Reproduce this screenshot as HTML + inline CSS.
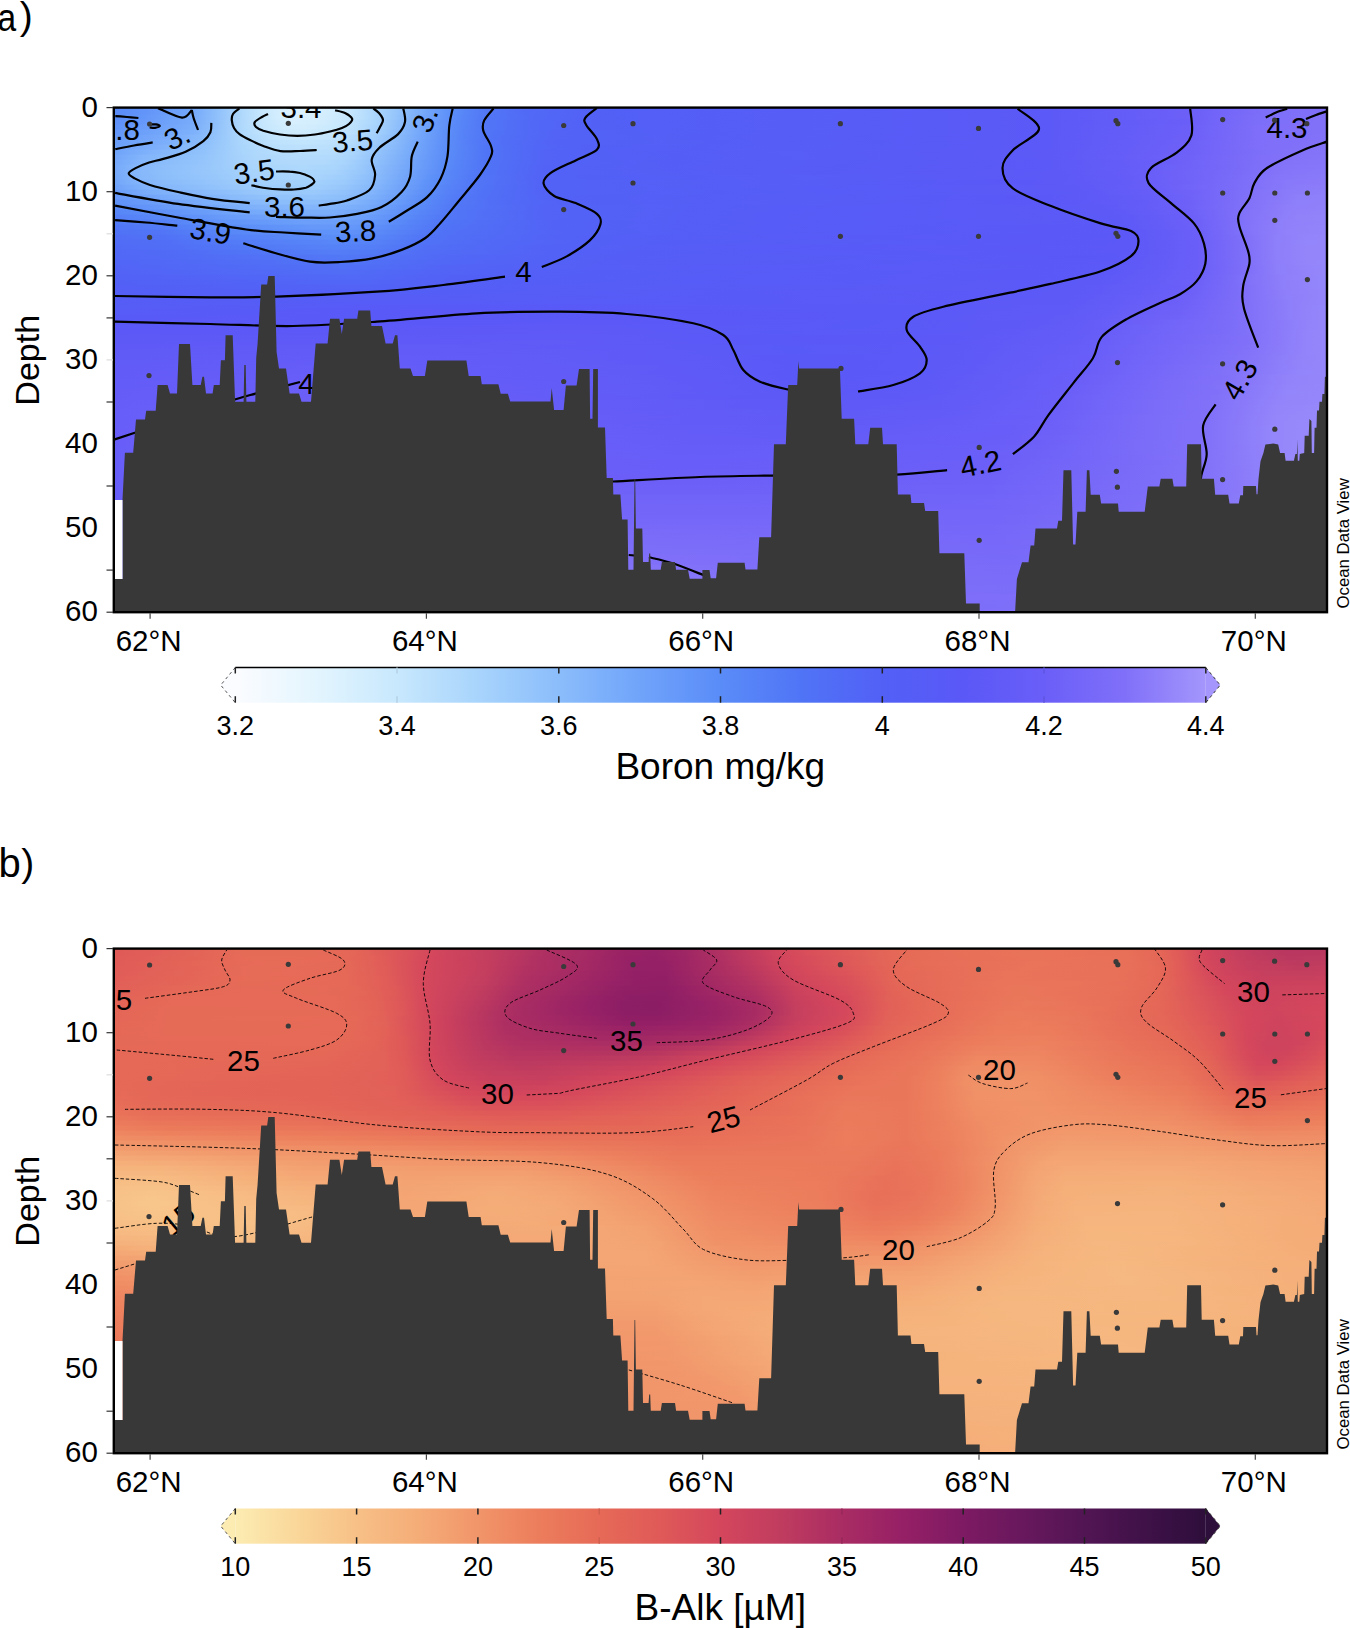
<!DOCTYPE html><html><head><meta charset="utf-8"><style>html,body{margin:0;padding:0;background:#fff;}svg{display:block;}text{font-family:"Liberation Sans", sans-serif;}</style></head><body><svg width="1350" height="1628" viewBox="0 0 1350 1628"><rect width="1350" height="1628" fill="#fff"/><text transform="translate(-2.6 30.6) scale(0.86 1)" font-size="39">a</text><text x="19.8" y="29.3" font-size="39">)</text><text x="-1.6" y="876.8" font-size="40">b</text><text x="21.2" y="876.3" font-size="39">)</text><defs><linearGradient id="a0" x1="113.5" x2="1327.5" gradientUnits="userSpaceOnUse"><stop offset="0.0000" stop-color="#598af8"/><stop offset="0.0248" stop-color="#6093f9"/><stop offset="0.0579" stop-color="#6fa3fa"/><stop offset="0.0661" stop-color="#75a9fa"/><stop offset="0.0826" stop-color="#8abcfb"/><stop offset="0.1074" stop-color="#b1dafc"/><stop offset="0.1240" stop-color="#c8e8fd"/><stop offset="0.1405" stop-color="#d7effe"/><stop offset="0.1488" stop-color="#dbf1fe"/><stop offset="0.1653" stop-color="#daf0fe"/><stop offset="0.1901" stop-color="#cbe9fd"/><stop offset="0.2066" stop-color="#b9dffd"/><stop offset="0.2314" stop-color="#98c7fb"/><stop offset="0.2645" stop-color="#6b9ffa"/><stop offset="0.2810" stop-color="#5b8df8"/><stop offset="0.3058" stop-color="#5279f6"/><stop offset="0.3306" stop-color="#516ef6"/><stop offset="0.3884" stop-color="#5261f6"/><stop offset="0.7603" stop-color="#5b58f7"/><stop offset="0.8843" stop-color="#6a5ef8"/><stop offset="0.9504" stop-color="#7e6ef9"/><stop offset="1.0000" stop-color="#8070f9"/></linearGradient><linearGradient id="a1" x1="113.5" x2="1327.5" gradientUnits="userSpaceOnUse"><stop offset="0.0000" stop-color="#5a8bf8"/><stop offset="0.0248" stop-color="#6294f9"/><stop offset="0.0579" stop-color="#70a4fa"/><stop offset="0.0661" stop-color="#76aafa"/><stop offset="0.0826" stop-color="#8bbdfb"/><stop offset="0.1074" stop-color="#b2dafc"/><stop offset="0.1240" stop-color="#c8e8fd"/><stop offset="0.1405" stop-color="#d7effe"/><stop offset="0.1488" stop-color="#dbf1fe"/><stop offset="0.1653" stop-color="#d9f0fe"/><stop offset="0.1901" stop-color="#cae9fd"/><stop offset="0.2066" stop-color="#b8defd"/><stop offset="0.2314" stop-color="#97c7fb"/><stop offset="0.2645" stop-color="#6a9ef9"/><stop offset="0.2810" stop-color="#5a8cf8"/><stop offset="0.3058" stop-color="#5278f6"/><stop offset="0.3388" stop-color="#516af6"/><stop offset="0.3967" stop-color="#5260f6"/><stop offset="0.7686" stop-color="#5b59f7"/><stop offset="0.8926" stop-color="#6d60f8"/><stop offset="0.9504" stop-color="#7e6ff9"/><stop offset="1.0000" stop-color="#8070f9"/></linearGradient><linearGradient id="a2" x1="113.5" x2="1327.5" gradientUnits="userSpaceOnUse"><stop offset="0.0000" stop-color="#5b8df8"/><stop offset="0.0248" stop-color="#6396f9"/><stop offset="0.0661" stop-color="#77abfa"/><stop offset="0.0826" stop-color="#8cbdfb"/><stop offset="0.1074" stop-color="#b2dafc"/><stop offset="0.1240" stop-color="#c8e8fd"/><stop offset="0.1405" stop-color="#d6effe"/><stop offset="0.1488" stop-color="#d9f0fe"/><stop offset="0.1653" stop-color="#d7effe"/><stop offset="0.1901" stop-color="#c9e8fd"/><stop offset="0.2066" stop-color="#b7defc"/><stop offset="0.2314" stop-color="#96c6fb"/><stop offset="0.2562" stop-color="#73a6fa"/><stop offset="0.2810" stop-color="#5a8bf8"/><stop offset="0.3058" stop-color="#5177f6"/><stop offset="0.3471" stop-color="#5168f6"/><stop offset="0.3967" stop-color="#5260f6"/><stop offset="0.7686" stop-color="#5b59f7"/><stop offset="0.8926" stop-color="#6d60f8"/><stop offset="0.9421" stop-color="#7d6ef9"/><stop offset="0.9917" stop-color="#8171f9"/><stop offset="1.0000" stop-color="#8171f9"/></linearGradient><linearGradient id="a3" x1="113.5" x2="1327.5" gradientUnits="userSpaceOnUse"><stop offset="0.0000" stop-color="#5e90f8"/><stop offset="0.0248" stop-color="#6598f9"/><stop offset="0.0661" stop-color="#79acfa"/><stop offset="0.0826" stop-color="#8dbefb"/><stop offset="0.1074" stop-color="#b2dafc"/><stop offset="0.1240" stop-color="#c7e7fd"/><stop offset="0.1405" stop-color="#d3edfd"/><stop offset="0.1488" stop-color="#d7effe"/><stop offset="0.1653" stop-color="#d4eefd"/><stop offset="0.1901" stop-color="#c7e7fd"/><stop offset="0.2149" stop-color="#abd6fc"/><stop offset="0.2479" stop-color="#7db0fa"/><stop offset="0.2645" stop-color="#689bf9"/><stop offset="0.2810" stop-color="#598af8"/><stop offset="0.3058" stop-color="#5176f6"/><stop offset="0.3471" stop-color="#5167f6"/><stop offset="0.3967" stop-color="#5260f6"/><stop offset="0.7686" stop-color="#5b59f7"/><stop offset="0.8843" stop-color="#6a5ef8"/><stop offset="0.9421" stop-color="#7d6ef9"/><stop offset="0.9917" stop-color="#8171f9"/><stop offset="1.0000" stop-color="#8171f9"/></linearGradient><linearGradient id="a4" x1="113.5" x2="1327.5" gradientUnits="userSpaceOnUse"><stop offset="0.0000" stop-color="#6093f9"/><stop offset="0.0331" stop-color="#6c9ffa"/><stop offset="0.0661" stop-color="#7baefa"/><stop offset="0.0826" stop-color="#8ebffb"/><stop offset="0.1074" stop-color="#b1dafc"/><stop offset="0.1240" stop-color="#c5e6fd"/><stop offset="0.1405" stop-color="#d0ecfd"/><stop offset="0.1570" stop-color="#d3edfd"/><stop offset="0.1818" stop-color="#c9e9fd"/><stop offset="0.1983" stop-color="#bce1fd"/><stop offset="0.2231" stop-color="#9eccfc"/><stop offset="0.2562" stop-color="#70a4fa"/><stop offset="0.2810" stop-color="#5989f8"/><stop offset="0.3058" stop-color="#5176f6"/><stop offset="0.3471" stop-color="#5167f6"/><stop offset="0.3967" stop-color="#5260f6"/><stop offset="0.7686" stop-color="#5b59f7"/><stop offset="0.8843" stop-color="#6b5ff8"/><stop offset="0.9421" stop-color="#7e6ef9"/><stop offset="0.9835" stop-color="#8171f9"/><stop offset="1.0000" stop-color="#8171f9"/></linearGradient><linearGradient id="a5" x1="113.5" x2="1327.5" gradientUnits="userSpaceOnUse"><stop offset="0.0000" stop-color="#6396f9"/><stop offset="0.0413" stop-color="#73a7fa"/><stop offset="0.0661" stop-color="#7eb1fb"/><stop offset="0.0826" stop-color="#90c1fb"/><stop offset="0.1074" stop-color="#b0d9fc"/><stop offset="0.1240" stop-color="#c1e4fd"/><stop offset="0.1405" stop-color="#cceafd"/><stop offset="0.1570" stop-color="#ceebfd"/><stop offset="0.1818" stop-color="#c6e7fd"/><stop offset="0.1983" stop-color="#b9dffd"/><stop offset="0.2231" stop-color="#9bcafc"/><stop offset="0.2562" stop-color="#6fa3fa"/><stop offset="0.2727" stop-color="#5e91f8"/><stop offset="0.2893" stop-color="#5681f7"/><stop offset="0.3140" stop-color="#5072f6"/><stop offset="0.3636" stop-color="#5263f6"/><stop offset="0.4463" stop-color="#535ff6"/><stop offset="0.7686" stop-color="#5b59f7"/><stop offset="0.8843" stop-color="#6b5ff8"/><stop offset="0.9421" stop-color="#7e6ef9"/><stop offset="0.9917" stop-color="#8171f9"/><stop offset="1.0000" stop-color="#8272f9"/></linearGradient><linearGradient id="a6" x1="113.5" x2="1327.5" gradientUnits="userSpaceOnUse"><stop offset="0.0000" stop-color="#6699f9"/><stop offset="0.0579" stop-color="#7eb1fb"/><stop offset="0.0744" stop-color="#88bbfb"/><stop offset="0.1074" stop-color="#aed8fc"/><stop offset="0.1322" stop-color="#c3e5fd"/><stop offset="0.1488" stop-color="#c9e8fd"/><stop offset="0.1736" stop-color="#c5e6fd"/><stop offset="0.1901" stop-color="#bde1fd"/><stop offset="0.2149" stop-color="#a2cffc"/><stop offset="0.2479" stop-color="#78abfa"/><stop offset="0.2727" stop-color="#5e90f8"/><stop offset="0.2893" stop-color="#5581f7"/><stop offset="0.3140" stop-color="#5071f6"/><stop offset="0.3636" stop-color="#5263f6"/><stop offset="0.4793" stop-color="#545ef6"/><stop offset="0.7686" stop-color="#5b59f7"/><stop offset="0.8843" stop-color="#6c5ff8"/><stop offset="0.9421" stop-color="#7e6ef9"/><stop offset="0.9917" stop-color="#8272f9"/><stop offset="1.0000" stop-color="#8272f9"/></linearGradient><linearGradient id="a7" x1="113.5" x2="1327.5" gradientUnits="userSpaceOnUse"><stop offset="0.0000" stop-color="#699df9"/><stop offset="0.0661" stop-color="#86b8fb"/><stop offset="0.0826" stop-color="#93c4fb"/><stop offset="0.1074" stop-color="#add7fc"/><stop offset="0.1322" stop-color="#bee2fd"/><stop offset="0.1570" stop-color="#c2e5fd"/><stop offset="0.1818" stop-color="#bde1fd"/><stop offset="0.1983" stop-color="#b1dafc"/><stop offset="0.2231" stop-color="#95c5fb"/><stop offset="0.2562" stop-color="#6ca0fa"/><stop offset="0.2727" stop-color="#5d8ff8"/><stop offset="0.2975" stop-color="#537af7"/><stop offset="0.3223" stop-color="#516ef6"/><stop offset="0.3636" stop-color="#5262f6"/><stop offset="0.5372" stop-color="#555df6"/><stop offset="0.7686" stop-color="#5b59f7"/><stop offset="0.8843" stop-color="#6c60f8"/><stop offset="0.9421" stop-color="#7e6ef9"/><stop offset="1.0000" stop-color="#8272f9"/></linearGradient><linearGradient id="a8" x1="113.5" x2="1327.5" gradientUnits="userSpaceOnUse"><stop offset="0.0000" stop-color="#6ca0fa"/><stop offset="0.0496" stop-color="#83b5fb"/><stop offset="0.0744" stop-color="#8ec0fb"/><stop offset="0.1074" stop-color="#abd6fc"/><stop offset="0.1322" stop-color="#b9dffd"/><stop offset="0.1570" stop-color="#bde1fd"/><stop offset="0.1818" stop-color="#b9dffd"/><stop offset="0.1983" stop-color="#add7fc"/><stop offset="0.2314" stop-color="#88bafb"/><stop offset="0.2562" stop-color="#6b9ffa"/><stop offset="0.2727" stop-color="#5c8ef8"/><stop offset="0.3058" stop-color="#5075f6"/><stop offset="0.3471" stop-color="#5166f6"/><stop offset="0.3884" stop-color="#5260f6"/><stop offset="0.7686" stop-color="#5b59f7"/><stop offset="0.8843" stop-color="#6d60f8"/><stop offset="0.9421" stop-color="#7e6ef9"/><stop offset="1.0000" stop-color="#8373f9"/></linearGradient><linearGradient id="a9" x1="113.5" x2="1327.5" gradientUnits="userSpaceOnUse"><stop offset="0.0000" stop-color="#6fa3fa"/><stop offset="0.0331" stop-color="#81b4fb"/><stop offset="0.0744" stop-color="#91c2fb"/><stop offset="0.1074" stop-color="#aad5fc"/><stop offset="0.1322" stop-color="#b5dcfc"/><stop offset="0.1653" stop-color="#b7defc"/><stop offset="0.1818" stop-color="#b5dcfc"/><stop offset="0.1983" stop-color="#a9d5fc"/><stop offset="0.2397" stop-color="#7caffa"/><stop offset="0.2645" stop-color="#6395f9"/><stop offset="0.2727" stop-color="#5b8ef8"/><stop offset="0.3058" stop-color="#5075f6"/><stop offset="0.3554" stop-color="#5263f6"/><stop offset="0.4132" stop-color="#535ff6"/><stop offset="0.7686" stop-color="#5c59f7"/><stop offset="0.8843" stop-color="#6d60f8"/><stop offset="0.9504" stop-color="#7f70f9"/><stop offset="1.0000" stop-color="#8474f9"/></linearGradient><linearGradient id="a10" x1="113.5" x2="1327.5" gradientUnits="userSpaceOnUse"><stop offset="0.0000" stop-color="#72a5fa"/><stop offset="0.0248" stop-color="#82b5fb"/><stop offset="0.0744" stop-color="#93c4fb"/><stop offset="0.1157" stop-color="#aed7fc"/><stop offset="0.1488" stop-color="#b4dbfc"/><stop offset="0.1818" stop-color="#b1dafc"/><stop offset="0.1983" stop-color="#a6d2fc"/><stop offset="0.2397" stop-color="#7aadfa"/><stop offset="0.2645" stop-color="#6294f9"/><stop offset="0.2727" stop-color="#5b8df8"/><stop offset="0.3058" stop-color="#5075f6"/><stop offset="0.3554" stop-color="#5263f6"/><stop offset="0.4215" stop-color="#535ff6"/><stop offset="0.7686" stop-color="#5c59f7"/><stop offset="0.8843" stop-color="#6e61f8"/><stop offset="0.9504" stop-color="#8070f9"/><stop offset="1.0000" stop-color="#8575f9"/></linearGradient><linearGradient id="a11" x1="113.5" x2="1327.5" gradientUnits="userSpaceOnUse"><stop offset="0.0000" stop-color="#74a7fa"/><stop offset="0.0248" stop-color="#85b8fb"/><stop offset="0.0744" stop-color="#95c5fb"/><stop offset="0.1157" stop-color="#acd6fc"/><stop offset="0.1488" stop-color="#b1d9fc"/><stop offset="0.1736" stop-color="#b0d9fc"/><stop offset="0.1901" stop-color="#a9d4fc"/><stop offset="0.2149" stop-color="#91c2fb"/><stop offset="0.2562" stop-color="#689bf9"/><stop offset="0.2727" stop-color="#5a8cf8"/><stop offset="0.3058" stop-color="#5074f6"/><stop offset="0.3554" stop-color="#5263f6"/><stop offset="0.4545" stop-color="#545ef6"/><stop offset="0.7686" stop-color="#5b59f7"/><stop offset="0.8678" stop-color="#6a5ef8"/><stop offset="0.9587" stop-color="#8272f9"/><stop offset="1.0000" stop-color="#8676f9"/></linearGradient><linearGradient id="a12" x1="113.5" x2="1327.5" gradientUnits="userSpaceOnUse"><stop offset="0.0000" stop-color="#75a8fa"/><stop offset="0.0165" stop-color="#83b6fb"/><stop offset="0.0413" stop-color="#8dbefb"/><stop offset="0.0744" stop-color="#96c6fb"/><stop offset="0.1157" stop-color="#aad5fc"/><stop offset="0.1570" stop-color="#aed8fc"/><stop offset="0.1818" stop-color="#aad5fc"/><stop offset="0.1983" stop-color="#9fcdfc"/><stop offset="0.2397" stop-color="#76a9fa"/><stop offset="0.2727" stop-color="#598bf8"/><stop offset="0.3058" stop-color="#5074f6"/><stop offset="0.3554" stop-color="#5262f6"/><stop offset="0.4876" stop-color="#555df6"/><stop offset="0.7686" stop-color="#5b59f7"/><stop offset="0.8430" stop-color="#665df8"/><stop offset="0.8926" stop-color="#7063f8"/><stop offset="0.9587" stop-color="#8273f9"/><stop offset="1.0000" stop-color="#8777fa"/></linearGradient><linearGradient id="a13" x1="113.5" x2="1327.5" gradientUnits="userSpaceOnUse"><stop offset="0.0000" stop-color="#75a8fa"/><stop offset="0.0165" stop-color="#84b6fb"/><stop offset="0.0413" stop-color="#8dbffb"/><stop offset="0.0826" stop-color="#99c8fb"/><stop offset="0.1157" stop-color="#a8d4fc"/><stop offset="0.1570" stop-color="#abd6fc"/><stop offset="0.1818" stop-color="#a7d3fc"/><stop offset="0.2066" stop-color="#95c5fb"/><stop offset="0.2562" stop-color="#6598f9"/><stop offset="0.2727" stop-color="#5989f8"/><stop offset="0.3058" stop-color="#5073f6"/><stop offset="0.3554" stop-color="#5262f6"/><stop offset="0.5372" stop-color="#565cf6"/><stop offset="0.7769" stop-color="#5c59f7"/><stop offset="0.8512" stop-color="#685df8"/><stop offset="0.9008" stop-color="#7366f8"/><stop offset="0.9669" stop-color="#8575f9"/><stop offset="1.0000" stop-color="#8879fa"/></linearGradient><linearGradient id="a14" x1="113.5" x2="1327.5" gradientUnits="userSpaceOnUse"><stop offset="0.0000" stop-color="#73a7fa"/><stop offset="0.0165" stop-color="#83b5fb"/><stop offset="0.0413" stop-color="#8cbefb"/><stop offset="0.0826" stop-color="#97c7fb"/><stop offset="0.1157" stop-color="#a6d2fc"/><stop offset="0.1653" stop-color="#a8d4fc"/><stop offset="0.1901" stop-color="#9fcdfc"/><stop offset="0.2149" stop-color="#8abcfb"/><stop offset="0.2645" stop-color="#5c8ff8"/><stop offset="0.2975" stop-color="#5177f6"/><stop offset="0.3471" stop-color="#5264f6"/><stop offset="0.3884" stop-color="#5260f6"/><stop offset="0.7769" stop-color="#5c59f7"/><stop offset="0.8430" stop-color="#665cf8"/><stop offset="0.8926" stop-color="#7164f8"/><stop offset="0.9669" stop-color="#8677fa"/><stop offset="1.0000" stop-color="#897afa"/></linearGradient><linearGradient id="a15" x1="113.5" x2="1327.5" gradientUnits="userSpaceOnUse"><stop offset="0.0000" stop-color="#71a5fa"/><stop offset="0.0165" stop-color="#7fb2fb"/><stop offset="0.0413" stop-color="#89bbfb"/><stop offset="0.0909" stop-color="#98c7fb"/><stop offset="0.1240" stop-color="#a4d1fc"/><stop offset="0.1653" stop-color="#a4d1fc"/><stop offset="0.1901" stop-color="#9bcafc"/><stop offset="0.2149" stop-color="#87bafb"/><stop offset="0.2562" stop-color="#6194f9"/><stop offset="0.2645" stop-color="#5b8df8"/><stop offset="0.2975" stop-color="#5176f6"/><stop offset="0.3554" stop-color="#5262f6"/><stop offset="0.7521" stop-color="#5a58f7"/><stop offset="0.8264" stop-color="#625bf7"/><stop offset="0.8843" stop-color="#6f62f8"/><stop offset="0.9669" stop-color="#8878fa"/><stop offset="1.0000" stop-color="#8b7bfa"/></linearGradient><linearGradient id="a16" x1="113.5" x2="1327.5" gradientUnits="userSpaceOnUse"><stop offset="0.0000" stop-color="#6ea1fa"/><stop offset="0.0248" stop-color="#7fb2fb"/><stop offset="0.0992" stop-color="#97c7fb"/><stop offset="0.1240" stop-color="#9fcdfc"/><stop offset="0.1653" stop-color="#a0cefc"/><stop offset="0.1901" stop-color="#97c6fb"/><stop offset="0.2149" stop-color="#84b7fb"/><stop offset="0.2562" stop-color="#5f92f8"/><stop offset="0.2727" stop-color="#5784f7"/><stop offset="0.3058" stop-color="#5072f6"/><stop offset="0.3554" stop-color="#5262f6"/><stop offset="0.6198" stop-color="#575bf7"/><stop offset="0.7934" stop-color="#5d59f7"/><stop offset="0.8595" stop-color="#695ef8"/><stop offset="0.9174" stop-color="#796bf9"/><stop offset="0.9752" stop-color="#8a7bfa"/><stop offset="1.0000" stop-color="#8c7cfa"/></linearGradient><linearGradient id="a17" x1="113.5" x2="1327.5" gradientUnits="userSpaceOnUse"><stop offset="0.0000" stop-color="#699df9"/><stop offset="0.0331" stop-color="#7caffa"/><stop offset="0.1240" stop-color="#99c8fb"/><stop offset="0.1653" stop-color="#9ac9fc"/><stop offset="0.1901" stop-color="#92c2fb"/><stop offset="0.2149" stop-color="#80b3fb"/><stop offset="0.2562" stop-color="#5d8ff8"/><stop offset="0.2810" stop-color="#547df7"/><stop offset="0.3058" stop-color="#5071f6"/><stop offset="0.3554" stop-color="#5262f6"/><stop offset="0.5950" stop-color="#565cf7"/><stop offset="0.7934" stop-color="#5c59f7"/><stop offset="0.8512" stop-color="#665df8"/><stop offset="0.8926" stop-color="#7163f8"/><stop offset="0.9669" stop-color="#8a7bfa"/><stop offset="1.0000" stop-color="#8d7efa"/></linearGradient><linearGradient id="a18" x1="113.5" x2="1327.5" gradientUnits="userSpaceOnUse"><stop offset="0.0000" stop-color="#6598f9"/><stop offset="0.0413" stop-color="#77aafa"/><stop offset="0.1240" stop-color="#92c2fb"/><stop offset="0.1653" stop-color="#93c4fb"/><stop offset="0.1901" stop-color="#8cbefb"/><stop offset="0.2149" stop-color="#7caffa"/><stop offset="0.2562" stop-color="#5a8cf8"/><stop offset="0.2810" stop-color="#537bf7"/><stop offset="0.3058" stop-color="#5070f6"/><stop offset="0.3636" stop-color="#5261f6"/><stop offset="0.7686" stop-color="#5a58f7"/><stop offset="0.8347" stop-color="#615bf7"/><stop offset="0.8843" stop-color="#6d61f8"/><stop offset="0.9421" stop-color="#8373f9"/><stop offset="0.9752" stop-color="#8d7efa"/><stop offset="1.0000" stop-color="#8e7ffa"/></linearGradient><linearGradient id="a19" x1="113.5" x2="1327.5" gradientUnits="userSpaceOnUse"><stop offset="0.0000" stop-color="#5f91f8"/><stop offset="0.0909" stop-color="#80b3fb"/><stop offset="0.1322" stop-color="#8bbdfb"/><stop offset="0.1736" stop-color="#8bbdfb"/><stop offset="0.1983" stop-color="#82b5fb"/><stop offset="0.2314" stop-color="#6a9ef9"/><stop offset="0.2562" stop-color="#598af8"/><stop offset="0.2810" stop-color="#5279f6"/><stop offset="0.3223" stop-color="#516bf6"/><stop offset="0.3719" stop-color="#5261f6"/><stop offset="0.7851" stop-color="#5b58f7"/><stop offset="0.8430" stop-color="#625bf8"/><stop offset="0.8843" stop-color="#6d60f8"/><stop offset="0.9421" stop-color="#8474f9"/><stop offset="0.9752" stop-color="#8e7ffa"/><stop offset="1.0000" stop-color="#8f80fa"/></linearGradient><linearGradient id="a20" x1="113.5" x2="1327.5" gradientUnits="userSpaceOnUse"><stop offset="0.0000" stop-color="#5a8bf8"/><stop offset="0.1074" stop-color="#7db0fa"/><stop offset="0.1488" stop-color="#83b6fb"/><stop offset="0.1818" stop-color="#82b4fb"/><stop offset="0.2066" stop-color="#77abfa"/><stop offset="0.2479" stop-color="#5b8df8"/><stop offset="0.2810" stop-color="#5177f6"/><stop offset="0.3554" stop-color="#5263f6"/><stop offset="0.5537" stop-color="#565cf7"/><stop offset="0.8099" stop-color="#5c59f7"/><stop offset="0.8760" stop-color="#6a5ef8"/><stop offset="0.9339" stop-color="#8171f9"/><stop offset="0.9669" stop-color="#8e7efa"/><stop offset="1.0000" stop-color="#9081fa"/></linearGradient><linearGradient id="a21" x1="113.5" x2="1327.5" gradientUnits="userSpaceOnUse"><stop offset="0.0000" stop-color="#5785f7"/><stop offset="0.0331" stop-color="#5c8ef8"/><stop offset="0.1074" stop-color="#74a8fa"/><stop offset="0.1488" stop-color="#7baefa"/><stop offset="0.1818" stop-color="#7aadfa"/><stop offset="0.2066" stop-color="#71a5fa"/><stop offset="0.2479" stop-color="#5989f8"/><stop offset="0.2810" stop-color="#5175f6"/><stop offset="0.3554" stop-color="#5263f6"/><stop offset="0.5455" stop-color="#565cf7"/><stop offset="0.8182" stop-color="#5c59f7"/><stop offset="0.8843" stop-color="#6b5ff8"/><stop offset="0.9421" stop-color="#8576f9"/><stop offset="0.9752" stop-color="#9081fa"/><stop offset="1.0000" stop-color="#9182fa"/></linearGradient><linearGradient id="a22" x1="113.5" x2="1327.5" gradientUnits="userSpaceOnUse"><stop offset="0.0000" stop-color="#557ff7"/><stop offset="0.0413" stop-color="#5989f8"/><stop offset="0.0909" stop-color="#689bf9"/><stop offset="0.1488" stop-color="#72a6fa"/><stop offset="0.1818" stop-color="#73a6fa"/><stop offset="0.2066" stop-color="#6c9ffa"/><stop offset="0.2397" stop-color="#5a8bf8"/><stop offset="0.2727" stop-color="#5177f6"/><stop offset="0.3554" stop-color="#5263f6"/><stop offset="0.5372" stop-color="#565cf7"/><stop offset="0.8264" stop-color="#5c59f7"/><stop offset="0.8843" stop-color="#6a5ef8"/><stop offset="0.9421" stop-color="#8676f9"/><stop offset="0.9752" stop-color="#9182fa"/><stop offset="1.0000" stop-color="#9283fa"/></linearGradient><linearGradient id="a23" x1="113.5" x2="1327.5" gradientUnits="userSpaceOnUse"><stop offset="0.0000" stop-color="#527af6"/><stop offset="0.0413" stop-color="#5581f7"/><stop offset="0.0909" stop-color="#6194f9"/><stop offset="0.1570" stop-color="#6b9ffa"/><stop offset="0.1901" stop-color="#6b9efa"/><stop offset="0.2149" stop-color="#6396f9"/><stop offset="0.2397" stop-color="#5887f8"/><stop offset="0.2727" stop-color="#5075f6"/><stop offset="0.3636" stop-color="#5262f6"/><stop offset="0.5455" stop-color="#565cf7"/><stop offset="0.8264" stop-color="#5b59f7"/><stop offset="0.8926" stop-color="#6d60f8"/><stop offset="0.9421" stop-color="#8676fa"/><stop offset="0.9669" stop-color="#9081fa"/><stop offset="1.0000" stop-color="#9283fb"/></linearGradient><linearGradient id="a24" x1="113.5" x2="1327.5" gradientUnits="userSpaceOnUse"><stop offset="0.0000" stop-color="#5075f6"/><stop offset="0.0413" stop-color="#537bf7"/><stop offset="0.0909" stop-color="#5a8cf8"/><stop offset="0.1653" stop-color="#6598f9"/><stop offset="0.1983" stop-color="#6497f9"/><stop offset="0.2314" stop-color="#5888f8"/><stop offset="0.2727" stop-color="#5073f6"/><stop offset="0.3636" stop-color="#5262f6"/><stop offset="0.5372" stop-color="#565cf7"/><stop offset="0.8264" stop-color="#5b58f7"/><stop offset="0.8926" stop-color="#6c60f8"/><stop offset="0.9421" stop-color="#8677fa"/><stop offset="0.9669" stop-color="#9081fa"/><stop offset="1.0000" stop-color="#9384fb"/></linearGradient><linearGradient id="a25" x1="113.5" x2="1327.5" gradientUnits="userSpaceOnUse"><stop offset="0.0000" stop-color="#5072f6"/><stop offset="0.0413" stop-color="#5175f6"/><stop offset="0.0909" stop-color="#5786f7"/><stop offset="0.1736" stop-color="#6093f9"/><stop offset="0.1983" stop-color="#5f91f8"/><stop offset="0.2314" stop-color="#5784f7"/><stop offset="0.2727" stop-color="#5071f6"/><stop offset="0.3719" stop-color="#5262f6"/><stop offset="0.5455" stop-color="#565cf7"/><stop offset="0.8347" stop-color="#5b58f7"/><stop offset="0.8926" stop-color="#6b5ff8"/><stop offset="0.9421" stop-color="#8677fa"/><stop offset="0.9669" stop-color="#9181fa"/><stop offset="1.0000" stop-color="#9384fb"/></linearGradient><linearGradient id="a26" x1="113.5" x2="1327.5" gradientUnits="userSpaceOnUse"><stop offset="0.0000" stop-color="#516ff6"/><stop offset="0.0413" stop-color="#5071f6"/><stop offset="0.0909" stop-color="#5580f7"/><stop offset="0.1818" stop-color="#5b8df8"/><stop offset="0.2066" stop-color="#598af8"/><stop offset="0.2645" stop-color="#5071f6"/><stop offset="0.3719" stop-color="#5261f6"/><stop offset="0.5455" stop-color="#575bf7"/><stop offset="0.8347" stop-color="#5b58f7"/><stop offset="0.8926" stop-color="#6b5ff8"/><stop offset="0.9339" stop-color="#8171f9"/><stop offset="0.9587" stop-color="#8e7ffa"/><stop offset="0.9835" stop-color="#9384fb"/><stop offset="1.0000" stop-color="#9485fb"/></linearGradient><linearGradient id="a27" x1="113.5" x2="1327.5" gradientUnits="userSpaceOnUse"><stop offset="0.0000" stop-color="#516cf6"/><stop offset="0.0413" stop-color="#516ef6"/><stop offset="0.0992" stop-color="#537bf7"/><stop offset="0.1818" stop-color="#5887f8"/><stop offset="0.2149" stop-color="#5682f7"/><stop offset="0.2562" stop-color="#5072f6"/><stop offset="0.3140" stop-color="#5168f6"/><stop offset="0.4132" stop-color="#535ff6"/><stop offset="0.7521" stop-color="#5959f7"/><stop offset="0.8347" stop-color="#5b58f7"/><stop offset="0.8926" stop-color="#6a5ef8"/><stop offset="0.9339" stop-color="#8070f9"/><stop offset="0.9587" stop-color="#8e7ffa"/><stop offset="0.9835" stop-color="#9385fb"/><stop offset="1.0000" stop-color="#9485fb"/></linearGradient><linearGradient id="a28" x1="113.5" x2="1327.5" gradientUnits="userSpaceOnUse"><stop offset="0.0000" stop-color="#516af6"/><stop offset="0.0496" stop-color="#516ef6"/><stop offset="0.0992" stop-color="#5177f6"/><stop offset="0.1818" stop-color="#5682f7"/><stop offset="0.2149" stop-color="#547ef7"/><stop offset="0.2562" stop-color="#506ff6"/><stop offset="0.3554" stop-color="#5262f6"/><stop offset="0.5207" stop-color="#575bf7"/><stop offset="0.8347" stop-color="#5b58f7"/><stop offset="0.8926" stop-color="#6a5ef8"/><stop offset="0.9339" stop-color="#8070f9"/><stop offset="0.9587" stop-color="#8e7ffa"/><stop offset="0.9835" stop-color="#9485fb"/><stop offset="1.0000" stop-color="#9485fb"/></linearGradient><linearGradient id="a29" x1="113.5" x2="1327.5" gradientUnits="userSpaceOnUse"><stop offset="0.0000" stop-color="#5168f6"/><stop offset="0.0496" stop-color="#516bf6"/><stop offset="0.0992" stop-color="#5073f6"/><stop offset="0.1818" stop-color="#547df7"/><stop offset="0.2149" stop-color="#5279f6"/><stop offset="0.2562" stop-color="#516df6"/><stop offset="0.3884" stop-color="#535ff6"/><stop offset="0.5785" stop-color="#575bf7"/><stop offset="0.8347" stop-color="#5b58f7"/><stop offset="0.8926" stop-color="#6a5ef8"/><stop offset="0.9339" stop-color="#8070f9"/><stop offset="0.9587" stop-color="#8e7ffa"/><stop offset="0.9835" stop-color="#9485fb"/><stop offset="1.0000" stop-color="#9485fb"/></linearGradient><linearGradient id="a30" x1="113.5" x2="1327.5" gradientUnits="userSpaceOnUse"><stop offset="0.0000" stop-color="#5167f6"/><stop offset="0.0579" stop-color="#516bf6"/><stop offset="0.1901" stop-color="#5278f6"/><stop offset="0.2397" stop-color="#516ff6"/><stop offset="0.2810" stop-color="#5167f6"/><stop offset="0.4132" stop-color="#545ef6"/><stop offset="0.8264" stop-color="#5a58f7"/><stop offset="0.8926" stop-color="#6a5ef8"/><stop offset="0.9339" stop-color="#8070f9"/><stop offset="0.9587" stop-color="#8e7ffa"/><stop offset="0.9835" stop-color="#9485fb"/><stop offset="1.0000" stop-color="#9485fb"/></linearGradient><linearGradient id="a31" x1="113.5" x2="1327.5" gradientUnits="userSpaceOnUse"><stop offset="0.0000" stop-color="#5165f6"/><stop offset="0.0661" stop-color="#516af6"/><stop offset="0.1901" stop-color="#5074f6"/><stop offset="0.2397" stop-color="#516cf6"/><stop offset="0.2810" stop-color="#5166f6"/><stop offset="0.4215" stop-color="#555df6"/><stop offset="0.8264" stop-color="#5b58f7"/><stop offset="0.8926" stop-color="#6a5ef8"/><stop offset="0.9339" stop-color="#7f70f9"/><stop offset="0.9587" stop-color="#8e7efa"/><stop offset="0.9835" stop-color="#9485fb"/><stop offset="1.0000" stop-color="#9486fb"/></linearGradient><linearGradient id="a32" x1="113.5" x2="1327.5" gradientUnits="userSpaceOnUse"><stop offset="0.0000" stop-color="#5264f6"/><stop offset="0.1901" stop-color="#5070f6"/><stop offset="0.2397" stop-color="#516af6"/><stop offset="0.2727" stop-color="#5264f6"/><stop offset="0.4876" stop-color="#575bf7"/><stop offset="0.8264" stop-color="#5b59f7"/><stop offset="0.8926" stop-color="#6a5ef8"/><stop offset="0.9339" stop-color="#7f6ff9"/><stop offset="0.9587" stop-color="#8d7efa"/><stop offset="0.9835" stop-color="#9384fb"/><stop offset="1.0000" stop-color="#9486fb"/></linearGradient><linearGradient id="a33" x1="113.5" x2="1327.5" gradientUnits="userSpaceOnUse"><stop offset="0.0000" stop-color="#5263f6"/><stop offset="0.1901" stop-color="#516df6"/><stop offset="0.2479" stop-color="#5165f6"/><stop offset="0.3471" stop-color="#535ff6"/><stop offset="0.5537" stop-color="#575bf7"/><stop offset="0.8182" stop-color="#5b58f7"/><stop offset="0.8926" stop-color="#6b5ff8"/><stop offset="0.9339" stop-color="#7f6ff9"/><stop offset="0.9587" stop-color="#8d7efa"/><stop offset="0.9917" stop-color="#9485fb"/><stop offset="1.0000" stop-color="#9486fb"/></linearGradient><linearGradient id="a34" x1="113.5" x2="1327.5" gradientUnits="userSpaceOnUse"><stop offset="0.0000" stop-color="#5261f6"/><stop offset="0.1983" stop-color="#5169f6"/><stop offset="0.2810" stop-color="#5260f6"/><stop offset="0.5372" stop-color="#575bf7"/><stop offset="0.8099" stop-color="#5b58f7"/><stop offset="0.8926" stop-color="#6b5ff8"/><stop offset="0.9421" stop-color="#8475f9"/><stop offset="0.9669" stop-color="#9080fa"/><stop offset="1.0000" stop-color="#9486fb"/></linearGradient><linearGradient id="a35" x1="113.5" x2="1327.5" gradientUnits="userSpaceOnUse"><stop offset="0.0000" stop-color="#5260f6"/><stop offset="0.1983" stop-color="#5166f6"/><stop offset="0.2810" stop-color="#535ff6"/><stop offset="0.5372" stop-color="#575bf7"/><stop offset="0.8099" stop-color="#5c59f7"/><stop offset="0.8926" stop-color="#6c60f8"/><stop offset="0.9421" stop-color="#8475f9"/><stop offset="0.9669" stop-color="#8f80fa"/><stop offset="1.0000" stop-color="#9486fb"/></linearGradient><linearGradient id="a36" x1="113.5" x2="1327.5" gradientUnits="userSpaceOnUse"><stop offset="0.0000" stop-color="#535ff6"/><stop offset="0.1983" stop-color="#5263f6"/><stop offset="0.3471" stop-color="#555df6"/><stop offset="0.7934" stop-color="#5c59f7"/><stop offset="0.8843" stop-color="#6a5ef8"/><stop offset="0.9339" stop-color="#8070f9"/><stop offset="0.9669" stop-color="#8f80fa"/><stop offset="1.0000" stop-color="#9486fb"/></linearGradient><linearGradient id="a37" x1="113.5" x2="1327.5" gradientUnits="userSpaceOnUse"><stop offset="0.0000" stop-color="#535ff6"/><stop offset="0.2231" stop-color="#535ff6"/><stop offset="0.5207" stop-color="#585af7"/><stop offset="0.7934" stop-color="#5c59f7"/><stop offset="0.8843" stop-color="#6b5ff8"/><stop offset="0.9339" stop-color="#8070f9"/><stop offset="0.9669" stop-color="#8f7ffa"/><stop offset="1.0000" stop-color="#9485fb"/></linearGradient><linearGradient id="a38" x1="113.5" x2="1327.5" gradientUnits="userSpaceOnUse"><stop offset="0.0000" stop-color="#545ef6"/><stop offset="0.2397" stop-color="#555df6"/><stop offset="0.5289" stop-color="#585af7"/><stop offset="0.7851" stop-color="#5c59f7"/><stop offset="0.8843" stop-color="#6c60f8"/><stop offset="0.9339" stop-color="#8070f9"/><stop offset="0.9669" stop-color="#8e7ffa"/><stop offset="1.0000" stop-color="#9485fb"/></linearGradient><linearGradient id="a39" x1="113.5" x2="1327.5" gradientUnits="userSpaceOnUse"><stop offset="0.0000" stop-color="#555df6"/><stop offset="0.2479" stop-color="#565cf7"/><stop offset="0.5372" stop-color="#585af7"/><stop offset="0.7851" stop-color="#5d59f7"/><stop offset="0.8760" stop-color="#6c5ff8"/><stop offset="0.9339" stop-color="#8070f9"/><stop offset="0.9752" stop-color="#9081fa"/><stop offset="1.0000" stop-color="#9485fb"/></linearGradient><linearGradient id="a40" x1="113.5" x2="1327.5" gradientUnits="userSpaceOnUse"><stop offset="0.0000" stop-color="#565cf6"/><stop offset="0.2727" stop-color="#585af7"/><stop offset="0.6529" stop-color="#5959f7"/><stop offset="0.7851" stop-color="#5e5af7"/><stop offset="0.8760" stop-color="#6d60f8"/><stop offset="0.9339" stop-color="#8070f9"/><stop offset="0.9752" stop-color="#9081fa"/><stop offset="1.0000" stop-color="#9486fb"/></linearGradient><linearGradient id="a41" x1="113.5" x2="1327.5" gradientUnits="userSpaceOnUse"><stop offset="0.0000" stop-color="#575bf7"/><stop offset="0.3306" stop-color="#5a58f7"/><stop offset="0.6364" stop-color="#5959f7"/><stop offset="0.7851" stop-color="#5f5af7"/><stop offset="0.8760" stop-color="#6e61f8"/><stop offset="0.9339" stop-color="#8070f9"/><stop offset="0.9752" stop-color="#9081fa"/><stop offset="1.0000" stop-color="#9586fb"/></linearGradient><linearGradient id="a42" x1="113.5" x2="1327.5" gradientUnits="userSpaceOnUse"><stop offset="0.0000" stop-color="#585af7"/><stop offset="0.4628" stop-color="#5a58f7"/><stop offset="0.6364" stop-color="#5959f7"/><stop offset="0.7851" stop-color="#605af7"/><stop offset="0.8760" stop-color="#6f62f8"/><stop offset="0.9339" stop-color="#8070f9"/><stop offset="0.9752" stop-color="#9081fa"/><stop offset="1.0000" stop-color="#9586fb"/></linearGradient><linearGradient id="a43" x1="113.5" x2="1327.5" gradientUnits="userSpaceOnUse"><stop offset="0.0000" stop-color="#5959f7"/><stop offset="0.4132" stop-color="#5b58f7"/><stop offset="0.6198" stop-color="#585af7"/><stop offset="0.7603" stop-color="#5e59f7"/><stop offset="0.8430" stop-color="#6b5ff8"/><stop offset="0.9174" stop-color="#7b6cf9"/><stop offset="0.9421" stop-color="#8373f9"/><stop offset="0.9835" stop-color="#9283fb"/><stop offset="1.0000" stop-color="#9586fb"/></linearGradient><linearGradient id="a44" x1="113.5" x2="1327.5" gradientUnits="userSpaceOnUse"><stop offset="0.0000" stop-color="#5a58f7"/><stop offset="0.3967" stop-color="#5c59f7"/><stop offset="0.6116" stop-color="#585af7"/><stop offset="0.7438" stop-color="#5d59f7"/><stop offset="0.8182" stop-color="#675df8"/><stop offset="0.9174" stop-color="#7b6cf9"/><stop offset="0.9421" stop-color="#8373f9"/><stop offset="0.9835" stop-color="#9283fb"/><stop offset="1.0000" stop-color="#9586fb"/></linearGradient><linearGradient id="a45" x1="113.5" x2="1327.5" gradientUnits="userSpaceOnUse"><stop offset="0.0000" stop-color="#5b58f7"/><stop offset="0.3884" stop-color="#5e59f7"/><stop offset="0.5455" stop-color="#585af7"/><stop offset="0.7107" stop-color="#5c59f7"/><stop offset="0.8017" stop-color="#655cf8"/><stop offset="0.9091" stop-color="#796bf9"/><stop offset="0.9421" stop-color="#8373f9"/><stop offset="0.9835" stop-color="#9384fb"/><stop offset="1.0000" stop-color="#9586fb"/></linearGradient><linearGradient id="a46" x1="113.5" x2="1327.5" gradientUnits="userSpaceOnUse"><stop offset="0.0000" stop-color="#5c59f7"/><stop offset="0.3884" stop-color="#5e5af7"/><stop offset="0.5372" stop-color="#5959f7"/><stop offset="0.6860" stop-color="#5b58f7"/><stop offset="0.7934" stop-color="#645cf8"/><stop offset="0.8760" stop-color="#7466f8"/><stop offset="0.9339" stop-color="#8070f9"/><stop offset="0.9835" stop-color="#9384fb"/><stop offset="1.0000" stop-color="#9586fb"/></linearGradient><linearGradient id="a47" x1="113.5" x2="1327.5" gradientUnits="userSpaceOnUse"><stop offset="0.0000" stop-color="#5d59f7"/><stop offset="0.3636" stop-color="#605af7"/><stop offset="0.5372" stop-color="#5959f7"/><stop offset="0.6777" stop-color="#5b58f7"/><stop offset="0.7934" stop-color="#655cf8"/><stop offset="0.8926" stop-color="#7769f9"/><stop offset="0.9339" stop-color="#8070f9"/><stop offset="0.9835" stop-color="#9384fb"/><stop offset="1.0000" stop-color="#9586fb"/></linearGradient><linearGradient id="a48" x1="113.5" x2="1327.5" gradientUnits="userSpaceOnUse"><stop offset="0.0000" stop-color="#5f5af7"/><stop offset="0.2562" stop-color="#615bf7"/><stop offset="0.4215" stop-color="#5e5af7"/><stop offset="0.5537" stop-color="#585af7"/><stop offset="0.6942" stop-color="#5c59f7"/><stop offset="0.8017" stop-color="#675df8"/><stop offset="0.9339" stop-color="#8171f9"/><stop offset="0.9835" stop-color="#9384fb"/><stop offset="1.0000" stop-color="#9586fb"/></linearGradient><linearGradient id="a49" x1="113.5" x2="1327.5" gradientUnits="userSpaceOnUse"><stop offset="0.0000" stop-color="#605af7"/><stop offset="0.2314" stop-color="#635bf8"/><stop offset="0.4298" stop-color="#5f5af7"/><stop offset="0.5620" stop-color="#585af7"/><stop offset="0.6860" stop-color="#5c59f7"/><stop offset="0.8017" stop-color="#675df8"/><stop offset="0.8926" stop-color="#796af9"/><stop offset="0.9339" stop-color="#8272f9"/><stop offset="0.9835" stop-color="#9384fb"/><stop offset="1.0000" stop-color="#9586fb"/></linearGradient><linearGradient id="a50" x1="113.5" x2="1327.5" gradientUnits="userSpaceOnUse"><stop offset="0.0000" stop-color="#605af7"/><stop offset="0.2149" stop-color="#645cf8"/><stop offset="0.4298" stop-color="#5f5af7"/><stop offset="0.5620" stop-color="#5959f7"/><stop offset="0.6860" stop-color="#5c59f7"/><stop offset="0.8017" stop-color="#685df8"/><stop offset="0.8843" stop-color="#786af9"/><stop offset="0.9339" stop-color="#8273f9"/><stop offset="0.9752" stop-color="#9182fa"/><stop offset="1.0000" stop-color="#9586fb"/></linearGradient><linearGradient id="a51" x1="113.5" x2="1327.5" gradientUnits="userSpaceOnUse"><stop offset="0.0000" stop-color="#615bf7"/><stop offset="0.1983" stop-color="#655cf8"/><stop offset="0.4380" stop-color="#5f5af7"/><stop offset="0.5785" stop-color="#5959f7"/><stop offset="0.6860" stop-color="#5c59f7"/><stop offset="0.8017" stop-color="#695ef8"/><stop offset="0.8843" stop-color="#796af9"/><stop offset="0.9339" stop-color="#8374f9"/><stop offset="0.9752" stop-color="#9283fa"/><stop offset="1.0000" stop-color="#9586fb"/></linearGradient><linearGradient id="a52" x1="113.5" x2="1327.5" gradientUnits="userSpaceOnUse"><stop offset="0.0000" stop-color="#625bf7"/><stop offset="0.1901" stop-color="#665df8"/><stop offset="0.4380" stop-color="#605af7"/><stop offset="0.5785" stop-color="#5959f7"/><stop offset="0.6777" stop-color="#5c59f7"/><stop offset="0.8017" stop-color="#695ef8"/><stop offset="0.8760" stop-color="#796af9"/><stop offset="0.9256" stop-color="#8272f9"/><stop offset="0.9752" stop-color="#9283fb"/><stop offset="1.0000" stop-color="#9586fb"/></linearGradient><linearGradient id="a53" x1="113.5" x2="1327.5" gradientUnits="userSpaceOnUse"><stop offset="0.0000" stop-color="#635bf8"/><stop offset="0.1901" stop-color="#675df8"/><stop offset="0.4545" stop-color="#5f5af7"/><stop offset="0.5702" stop-color="#5959f7"/><stop offset="0.6694" stop-color="#5b59f7"/><stop offset="0.8017" stop-color="#6a5ef8"/><stop offset="0.8760" stop-color="#796bf9"/><stop offset="0.9256" stop-color="#8373f9"/><stop offset="0.9752" stop-color="#9284fb"/><stop offset="1.0000" stop-color="#9586fb"/></linearGradient><linearGradient id="a54" x1="113.5" x2="1327.5" gradientUnits="userSpaceOnUse"><stop offset="0.0000" stop-color="#635bf8"/><stop offset="0.1818" stop-color="#685df8"/><stop offset="0.4711" stop-color="#5f5af7"/><stop offset="0.5702" stop-color="#5959f7"/><stop offset="0.6694" stop-color="#5c59f7"/><stop offset="0.7934" stop-color="#6a5ef8"/><stop offset="0.8760" stop-color="#7a6bf9"/><stop offset="0.9174" stop-color="#8171f9"/><stop offset="0.9669" stop-color="#9283fa"/><stop offset="1.0000" stop-color="#9586fb"/></linearGradient><linearGradient id="a55" x1="113.5" x2="1327.5" gradientUnits="userSpaceOnUse"><stop offset="0.0000" stop-color="#645cf8"/><stop offset="0.1818" stop-color="#695ef8"/><stop offset="0.4793" stop-color="#5f5af7"/><stop offset="0.5702" stop-color="#5a58f7"/><stop offset="0.6694" stop-color="#5d59f7"/><stop offset="0.7934" stop-color="#6a5ef8"/><stop offset="0.8678" stop-color="#7a6bf9"/><stop offset="0.9174" stop-color="#8272f9"/><stop offset="0.9669" stop-color="#9283fb"/><stop offset="1.0000" stop-color="#9586fb"/></linearGradient><linearGradient id="a56" x1="113.5" x2="1327.5" gradientUnits="userSpaceOnUse"><stop offset="0.0000" stop-color="#645cf8"/><stop offset="0.1818" stop-color="#6a5ef8"/><stop offset="0.4876" stop-color="#5f5af7"/><stop offset="0.5785" stop-color="#5a58f7"/><stop offset="0.6694" stop-color="#5d59f7"/><stop offset="0.7851" stop-color="#695ef8"/><stop offset="0.8678" stop-color="#7a6bf9"/><stop offset="0.9174" stop-color="#8273f9"/><stop offset="0.9669" stop-color="#9384fb"/><stop offset="1.0000" stop-color="#9586fb"/></linearGradient><linearGradient id="a57" x1="113.5" x2="1327.5" gradientUnits="userSpaceOnUse"><stop offset="0.0000" stop-color="#655cf8"/><stop offset="0.1736" stop-color="#6b5ff8"/><stop offset="0.5041" stop-color="#5e5af7"/><stop offset="0.5868" stop-color="#5b58f7"/><stop offset="0.6694" stop-color="#5e5af7"/><stop offset="0.7851" stop-color="#6a5ef8"/><stop offset="0.8678" stop-color="#7b6cf9"/><stop offset="0.9091" stop-color="#8070f9"/><stop offset="0.9669" stop-color="#9385fb"/><stop offset="1.0000" stop-color="#9586fb"/></linearGradient><linearGradient id="a58" x1="113.5" x2="1327.5" gradientUnits="userSpaceOnUse"><stop offset="0.0000" stop-color="#655cf8"/><stop offset="0.1736" stop-color="#6c5ff8"/><stop offset="0.5207" stop-color="#5d59f7"/><stop offset="0.6446" stop-color="#5d59f7"/><stop offset="0.7769" stop-color="#695ef8"/><stop offset="0.8678" stop-color="#7b6cf9"/><stop offset="0.9091" stop-color="#8171f9"/><stop offset="0.9669" stop-color="#9485fb"/><stop offset="1.0000" stop-color="#9586fb"/></linearGradient><linearGradient id="a59" x1="113.5" x2="1327.5" gradientUnits="userSpaceOnUse"><stop offset="0.0000" stop-color="#665cf8"/><stop offset="0.1736" stop-color="#6c60f8"/><stop offset="0.5785" stop-color="#5d59f7"/><stop offset="0.6694" stop-color="#605af7"/><stop offset="0.7769" stop-color="#6a5ef8"/><stop offset="0.8595" stop-color="#7b6cf9"/><stop offset="0.9091" stop-color="#8272f9"/><stop offset="0.9587" stop-color="#9384fb"/><stop offset="0.9917" stop-color="#9586fb"/><stop offset="1.0000" stop-color="#9587fb"/></linearGradient><linearGradient id="a60" x1="113.5" x2="1327.5" gradientUnits="userSpaceOnUse"><stop offset="0.0000" stop-color="#665df8"/><stop offset="0.1736" stop-color="#6d60f8"/><stop offset="0.5702" stop-color="#5d59f7"/><stop offset="0.6694" stop-color="#615af7"/><stop offset="0.7769" stop-color="#6a5ef8"/><stop offset="0.8595" stop-color="#7b6cf9"/><stop offset="0.9091" stop-color="#8272f9"/><stop offset="0.9587" stop-color="#9485fb"/><stop offset="0.9917" stop-color="#9687fb"/><stop offset="1.0000" stop-color="#9687fb"/></linearGradient><linearGradient id="a61" x1="113.5" x2="1327.5" gradientUnits="userSpaceOnUse"><stop offset="0.0000" stop-color="#675df8"/><stop offset="0.1653" stop-color="#6e61f8"/><stop offset="0.3140" stop-color="#685df8"/><stop offset="0.5785" stop-color="#5f5af7"/><stop offset="0.6777" stop-color="#625bf8"/><stop offset="0.7769" stop-color="#6b5ff8"/><stop offset="0.8595" stop-color="#7b6cf9"/><stop offset="0.9008" stop-color="#8070f9"/><stop offset="0.9587" stop-color="#9485fb"/><stop offset="0.9917" stop-color="#9788fb"/><stop offset="1.0000" stop-color="#9788fb"/></linearGradient><linearGradient id="a62" x1="113.5" x2="1327.5" gradientUnits="userSpaceOnUse"><stop offset="0.0000" stop-color="#675df8"/><stop offset="0.1653" stop-color="#6e61f8"/><stop offset="0.2975" stop-color="#695df8"/><stop offset="0.5785" stop-color="#605af7"/><stop offset="0.6777" stop-color="#635bf8"/><stop offset="0.7686" stop-color="#6a5ef8"/><stop offset="0.8512" stop-color="#7b6cf9"/><stop offset="0.9008" stop-color="#8070f9"/><stop offset="0.9587" stop-color="#9586fb"/><stop offset="0.9917" stop-color="#9789fb"/><stop offset="1.0000" stop-color="#9788fb"/></linearGradient><linearGradient id="a63" x1="113.5" x2="1327.5" gradientUnits="userSpaceOnUse"><stop offset="0.0000" stop-color="#675df8"/><stop offset="0.1653" stop-color="#6f62f8"/><stop offset="0.2893" stop-color="#695ef8"/><stop offset="0.5702" stop-color="#605af7"/><stop offset="0.6860" stop-color="#655cf8"/><stop offset="0.7686" stop-color="#6b5ff8"/><stop offset="0.8512" stop-color="#7b6cf9"/><stop offset="0.9008" stop-color="#8171f9"/><stop offset="0.9587" stop-color="#9586fb"/><stop offset="0.9917" stop-color="#9889fb"/><stop offset="1.0000" stop-color="#9889fb"/></linearGradient><linearGradient id="a64" x1="113.5" x2="1327.5" gradientUnits="userSpaceOnUse"><stop offset="0.0000" stop-color="#675df8"/><stop offset="0.1653" stop-color="#6f62f8"/><stop offset="0.2893" stop-color="#695ef8"/><stop offset="0.5702" stop-color="#615bf7"/><stop offset="0.7355" stop-color="#685df8"/><stop offset="0.7769" stop-color="#6d60f8"/><stop offset="0.8512" stop-color="#7b6cf9"/><stop offset="0.9008" stop-color="#8171f9"/><stop offset="0.9587" stop-color="#9587fb"/><stop offset="0.9917" stop-color="#988afb"/><stop offset="1.0000" stop-color="#988afb"/></linearGradient><linearGradient id="a65" x1="113.5" x2="1327.5" gradientUnits="userSpaceOnUse"><stop offset="0.0000" stop-color="#685df8"/><stop offset="0.1570" stop-color="#7063f8"/><stop offset="0.2893" stop-color="#6a5ef8"/><stop offset="0.5537" stop-color="#625bf8"/><stop offset="0.7355" stop-color="#685df8"/><stop offset="0.7769" stop-color="#6e61f8"/><stop offset="0.8512" stop-color="#7b6cf9"/><stop offset="0.9008" stop-color="#8171f9"/><stop offset="0.9587" stop-color="#9587fb"/><stop offset="1.0000" stop-color="#998afb"/></linearGradient><linearGradient id="a66" x1="113.5" x2="1327.5" gradientUnits="userSpaceOnUse"><stop offset="0.0000" stop-color="#685df8"/><stop offset="0.1570" stop-color="#7063f8"/><stop offset="0.2893" stop-color="#6a5ef8"/><stop offset="0.5455" stop-color="#635bf8"/><stop offset="0.7355" stop-color="#695df8"/><stop offset="0.7851" stop-color="#7063f8"/><stop offset="0.8512" stop-color="#7b6cf9"/><stop offset="0.9008" stop-color="#8171f9"/><stop offset="0.9587" stop-color="#9587fb"/><stop offset="1.0000" stop-color="#998bfb"/></linearGradient><linearGradient id="a67" x1="113.5" x2="1327.5" gradientUnits="userSpaceOnUse"><stop offset="0.0000" stop-color="#685df8"/><stop offset="0.1570" stop-color="#7063f8"/><stop offset="0.2810" stop-color="#6b5ef8"/><stop offset="0.4793" stop-color="#655cf8"/><stop offset="0.6612" stop-color="#665cf8"/><stop offset="0.7603" stop-color="#6c5ff8"/><stop offset="0.8430" stop-color="#7b6cf9"/><stop offset="0.9008" stop-color="#8171f9"/><stop offset="0.9587" stop-color="#9587fb"/><stop offset="1.0000" stop-color="#9a8bfb"/></linearGradient><linearGradient id="a68" x1="113.5" x2="1327.5" gradientUnits="userSpaceOnUse"><stop offset="0.0000" stop-color="#675df8"/><stop offset="0.1488" stop-color="#7163f8"/><stop offset="0.2810" stop-color="#6b5ff8"/><stop offset="0.4711" stop-color="#665cf8"/><stop offset="0.6777" stop-color="#675df8"/><stop offset="0.7603" stop-color="#6c60f8"/><stop offset="0.8430" stop-color="#7b6cf9"/><stop offset="0.9008" stop-color="#8171f9"/><stop offset="0.9587" stop-color="#9586fb"/><stop offset="1.0000" stop-color="#9a8bfb"/></linearGradient><linearGradient id="a69" x1="113.5" x2="1327.5" gradientUnits="userSpaceOnUse"><stop offset="0.0000" stop-color="#675df8"/><stop offset="0.1488" stop-color="#7164f8"/><stop offset="0.2810" stop-color="#6c5ff8"/><stop offset="0.4711" stop-color="#665df8"/><stop offset="0.7025" stop-color="#695ef8"/><stop offset="0.7686" stop-color="#6e62f8"/><stop offset="0.8512" stop-color="#7c6df9"/><stop offset="0.9008" stop-color="#8172f9"/><stop offset="0.9587" stop-color="#9586fb"/><stop offset="1.0000" stop-color="#9a8bfb"/></linearGradient><linearGradient id="a70" x1="113.5" x2="1327.5" gradientUnits="userSpaceOnUse"><stop offset="0.0000" stop-color="#675df8"/><stop offset="0.1488" stop-color="#7164f8"/><stop offset="0.2810" stop-color="#6c60f8"/><stop offset="0.4628" stop-color="#675df8"/><stop offset="0.7190" stop-color="#6a5ef8"/><stop offset="0.7769" stop-color="#7063f8"/><stop offset="0.8595" stop-color="#7d6df9"/><stop offset="0.9008" stop-color="#8172f9"/><stop offset="0.9669" stop-color="#9788fb"/><stop offset="1.0000" stop-color="#9a8cfb"/></linearGradient><linearGradient id="a71" x1="113.5" x2="1327.5" gradientUnits="userSpaceOnUse"><stop offset="0.0000" stop-color="#675df8"/><stop offset="0.1405" stop-color="#7164f8"/><stop offset="0.2893" stop-color="#6d60f8"/><stop offset="0.4628" stop-color="#685df8"/><stop offset="0.7190" stop-color="#6b5ff8"/><stop offset="0.7851" stop-color="#7365f8"/><stop offset="0.8678" stop-color="#7d6ef9"/><stop offset="0.9008" stop-color="#8272f9"/><stop offset="0.9669" stop-color="#9688fb"/><stop offset="1.0000" stop-color="#9a8cfb"/></linearGradient><linearGradient id="a72" x1="113.5" x2="1327.5" gradientUnits="userSpaceOnUse"><stop offset="0.0000" stop-color="#675df8"/><stop offset="0.1405" stop-color="#7264f8"/><stop offset="0.2975" stop-color="#6d61f8"/><stop offset="0.4545" stop-color="#685df8"/><stop offset="0.7190" stop-color="#6b5ff8"/><stop offset="0.7934" stop-color="#7467f8"/><stop offset="0.9008" stop-color="#8272f9"/><stop offset="0.9669" stop-color="#9687fb"/><stop offset="1.0000" stop-color="#9a8cfb"/></linearGradient><linearGradient id="a73" x1="113.5" x2="1327.5" gradientUnits="userSpaceOnUse"><stop offset="0.0000" stop-color="#675df8"/><stop offset="0.1405" stop-color="#7264f8"/><stop offset="0.3058" stop-color="#6e61f8"/><stop offset="0.4545" stop-color="#695ef8"/><stop offset="0.7107" stop-color="#6c60f8"/><stop offset="0.7851" stop-color="#7366f8"/><stop offset="0.9008" stop-color="#8272f9"/><stop offset="0.9669" stop-color="#9687fb"/><stop offset="1.0000" stop-color="#9a8cfb"/></linearGradient><linearGradient id="a74" x1="113.5" x2="1327.5" gradientUnits="userSpaceOnUse"><stop offset="0.0000" stop-color="#675df8"/><stop offset="0.1405" stop-color="#7265f8"/><stop offset="0.3884" stop-color="#6b5ef8"/><stop offset="0.7025" stop-color="#6c60f8"/><stop offset="0.7851" stop-color="#7466f8"/><stop offset="0.9008" stop-color="#8272f9"/><stop offset="0.9669" stop-color="#9687fb"/><stop offset="1.0000" stop-color="#9b8cfb"/></linearGradient><linearGradient id="a75" x1="113.5" x2="1327.5" gradientUnits="userSpaceOnUse"><stop offset="0.0000" stop-color="#675df8"/><stop offset="0.1405" stop-color="#7265f8"/><stop offset="0.4545" stop-color="#6b5ff8"/><stop offset="0.7190" stop-color="#6e61f8"/><stop offset="0.9008" stop-color="#8272f9"/><stop offset="0.9752" stop-color="#9788fb"/><stop offset="1.0000" stop-color="#9b8cfb"/></linearGradient><linearGradient id="a76" x1="113.5" x2="1327.5" gradientUnits="userSpaceOnUse"><stop offset="0.0000" stop-color="#675df8"/><stop offset="0.1405" stop-color="#7265f8"/><stop offset="0.4545" stop-color="#6d60f8"/><stop offset="0.7190" stop-color="#6f62f8"/><stop offset="0.9008" stop-color="#8272f9"/><stop offset="0.9752" stop-color="#9788fb"/><stop offset="1.0000" stop-color="#9b8cfb"/></linearGradient><linearGradient id="a77" x1="113.5" x2="1327.5" gradientUnits="userSpaceOnUse"><stop offset="0.0000" stop-color="#675df8"/><stop offset="0.1405" stop-color="#7365f8"/><stop offset="0.4545" stop-color="#6e61f8"/><stop offset="0.7190" stop-color="#6f62f8"/><stop offset="0.8926" stop-color="#8070f9"/><stop offset="0.9752" stop-color="#9788fb"/><stop offset="1.0000" stop-color="#9b8cfb"/></linearGradient><linearGradient id="a78" x1="113.5" x2="1327.5" gradientUnits="userSpaceOnUse"><stop offset="0.0000" stop-color="#675df8"/><stop offset="0.1405" stop-color="#7365f8"/><stop offset="0.4711" stop-color="#7063f8"/><stop offset="0.7190" stop-color="#7063f8"/><stop offset="0.8926" stop-color="#8171f9"/><stop offset="0.9835" stop-color="#988afb"/><stop offset="1.0000" stop-color="#9b8cfb"/></linearGradient><linearGradient id="a79" x1="113.5" x2="1327.5" gradientUnits="userSpaceOnUse"><stop offset="0.0000" stop-color="#675df8"/><stop offset="0.1405" stop-color="#7365f8"/><stop offset="0.6860" stop-color="#7063f8"/><stop offset="0.8017" stop-color="#7869f9"/><stop offset="0.8926" stop-color="#8171f9"/><stop offset="0.9835" stop-color="#988afb"/><stop offset="1.0000" stop-color="#9b8cfb"/></linearGradient><linearGradient id="a80" x1="113.5" x2="1327.5" gradientUnits="userSpaceOnUse"><stop offset="0.0000" stop-color="#675df8"/><stop offset="0.1405" stop-color="#7366f8"/><stop offset="0.7190" stop-color="#7264f8"/><stop offset="0.8926" stop-color="#8171f9"/><stop offset="0.9835" stop-color="#988afb"/><stop offset="1.0000" stop-color="#9b8cfb"/></linearGradient><linearGradient id="a81" x1="113.5" x2="1327.5" gradientUnits="userSpaceOnUse"><stop offset="0.0000" stop-color="#685df8"/><stop offset="0.1488" stop-color="#7466f8"/><stop offset="0.5620" stop-color="#7265f8"/><stop offset="0.7355" stop-color="#7366f8"/><stop offset="0.8926" stop-color="#8272f9"/><stop offset="0.9917" stop-color="#9a8bfb"/><stop offset="1.0000" stop-color="#9b8cfb"/></linearGradient><linearGradient id="a82" x1="113.5" x2="1327.5" gradientUnits="userSpaceOnUse"><stop offset="0.0000" stop-color="#685df8"/><stop offset="0.1488" stop-color="#7466f8"/><stop offset="0.5124" stop-color="#7466f8"/><stop offset="0.7273" stop-color="#7466f8"/><stop offset="0.8926" stop-color="#8272f9"/><stop offset="0.9917" stop-color="#9a8bfb"/><stop offset="1.0000" stop-color="#9b8cfb"/></linearGradient><linearGradient id="a83" x1="113.5" x2="1327.5" gradientUnits="userSpaceOnUse"><stop offset="0.0000" stop-color="#685df8"/><stop offset="0.1488" stop-color="#7466f8"/><stop offset="0.4959" stop-color="#7668f9"/><stop offset="0.7273" stop-color="#7466f8"/><stop offset="0.8843" stop-color="#8171f9"/><stop offset="1.0000" stop-color="#9b8cfb"/></linearGradient><linearGradient id="a84" x1="113.5" x2="1327.5" gradientUnits="userSpaceOnUse"><stop offset="0.0000" stop-color="#685df8"/><stop offset="0.1488" stop-color="#7567f8"/><stop offset="0.4793" stop-color="#7869f9"/><stop offset="0.7190" stop-color="#7567f8"/><stop offset="0.8843" stop-color="#8172f9"/><stop offset="1.0000" stop-color="#9b8cfb"/></linearGradient><linearGradient id="a85" x1="113.5" x2="1327.5" gradientUnits="userSpaceOnUse"><stop offset="0.0000" stop-color="#695df8"/><stop offset="0.1570" stop-color="#7567f9"/><stop offset="0.4298" stop-color="#7a6bf9"/><stop offset="0.7190" stop-color="#7567f9"/><stop offset="0.8760" stop-color="#8071f9"/><stop offset="1.0000" stop-color="#9b8dfb"/></linearGradient><linearGradient id="a86" x1="113.5" x2="1327.5" gradientUnits="userSpaceOnUse"><stop offset="0.0000" stop-color="#695ef8"/><stop offset="0.1570" stop-color="#7567f9"/><stop offset="0.4215" stop-color="#7b6cf9"/><stop offset="0.7273" stop-color="#7668f9"/><stop offset="0.8843" stop-color="#8272f9"/><stop offset="1.0000" stop-color="#9b8dfb"/></linearGradient><linearGradient id="a87" x1="113.5" x2="1327.5" gradientUnits="userSpaceOnUse"><stop offset="0.0000" stop-color="#695ef8"/><stop offset="0.1570" stop-color="#7668f9"/><stop offset="0.4215" stop-color="#7c6df9"/><stop offset="0.7273" stop-color="#7768f9"/><stop offset="0.8760" stop-color="#8172f9"/><stop offset="1.0000" stop-color="#9b8dfb"/></linearGradient><linearGradient id="a88" x1="113.5" x2="1327.5" gradientUnits="userSpaceOnUse"><stop offset="0.0000" stop-color="#6a5ef8"/><stop offset="0.1570" stop-color="#7668f9"/><stop offset="0.4215" stop-color="#7d6ef9"/><stop offset="0.7355" stop-color="#7769f9"/><stop offset="0.8760" stop-color="#8272f9"/><stop offset="1.0000" stop-color="#9b8dfb"/></linearGradient><linearGradient id="a89" x1="113.5" x2="1327.5" gradientUnits="userSpaceOnUse"><stop offset="0.0000" stop-color="#6a5ef8"/><stop offset="0.1653" stop-color="#7768f9"/><stop offset="0.4545" stop-color="#7e6ff9"/><stop offset="0.7273" stop-color="#7869f9"/><stop offset="0.8678" stop-color="#8171f9"/><stop offset="1.0000" stop-color="#9b8dfb"/></linearGradient><linearGradient id="a90" x1="113.5" x2="1327.5" gradientUnits="userSpaceOnUse"><stop offset="0.0000" stop-color="#6a5ef8"/><stop offset="0.1653" stop-color="#7769f9"/><stop offset="0.4545" stop-color="#7f6ff9"/><stop offset="0.7355" stop-color="#786af9"/><stop offset="0.8678" stop-color="#8272f9"/><stop offset="1.0000" stop-color="#9c8dfb"/></linearGradient><linearGradient id="a91" x1="113.5" x2="1327.5" gradientUnits="userSpaceOnUse"><stop offset="0.0000" stop-color="#6b5ff8"/><stop offset="0.1736" stop-color="#7869f9"/><stop offset="0.4132" stop-color="#8171f9"/><stop offset="0.4793" stop-color="#7f6ff9"/><stop offset="0.7438" stop-color="#796af9"/><stop offset="0.8678" stop-color="#8272f9"/><stop offset="1.0000" stop-color="#9c8dfb"/></linearGradient><linearGradient id="a92" x1="113.5" x2="1327.5" gradientUnits="userSpaceOnUse"><stop offset="0.0000" stop-color="#6b5ff8"/><stop offset="0.1736" stop-color="#7869f9"/><stop offset="0.3967" stop-color="#8171f9"/><stop offset="0.4463" stop-color="#8373f9"/><stop offset="0.5620" stop-color="#7d6ef9"/><stop offset="0.7521" stop-color="#7a6bf9"/><stop offset="0.8678" stop-color="#8373f9"/><stop offset="1.0000" stop-color="#9c8efb"/></linearGradient><linearGradient id="a93" x1="113.5" x2="1327.5" gradientUnits="userSpaceOnUse"><stop offset="0.0000" stop-color="#6c5ff8"/><stop offset="0.1818" stop-color="#796af9"/><stop offset="0.3884" stop-color="#8272f9"/><stop offset="0.4463" stop-color="#8575f9"/><stop offset="0.5537" stop-color="#7e6ff9"/><stop offset="0.7521" stop-color="#7a6bf9"/><stop offset="0.8595" stop-color="#8272f9"/><stop offset="1.0000" stop-color="#9c8efb"/></linearGradient><linearGradient id="a94" x1="113.5" x2="1327.5" gradientUnits="userSpaceOnUse"><stop offset="0.0000" stop-color="#6c60f8"/><stop offset="0.1818" stop-color="#796af9"/><stop offset="0.3719" stop-color="#8272f9"/><stop offset="0.4463" stop-color="#8677fa"/><stop offset="0.5785" stop-color="#7e6ff9"/><stop offset="0.7521" stop-color="#7b6cf9"/><stop offset="0.8595" stop-color="#8373f9"/><stop offset="1.0000" stop-color="#9c8efb"/></linearGradient><linearGradient id="a95" x1="113.5" x2="1327.5" gradientUnits="userSpaceOnUse"><stop offset="0.0000" stop-color="#6d60f8"/><stop offset="0.1901" stop-color="#7a6bf9"/><stop offset="0.3636" stop-color="#8273f9"/><stop offset="0.4380" stop-color="#8878fa"/><stop offset="0.6033" stop-color="#7e6ff9"/><stop offset="0.7521" stop-color="#7b6cf9"/><stop offset="0.8512" stop-color="#8272f9"/><stop offset="1.0000" stop-color="#9d8efb"/></linearGradient><linearGradient id="a96" x1="113.5" x2="1327.5" gradientUnits="userSpaceOnUse"><stop offset="0.0000" stop-color="#6d60f8"/><stop offset="0.1983" stop-color="#7b6cf9"/><stop offset="0.3471" stop-color="#8272f9"/><stop offset="0.4380" stop-color="#8a7afa"/><stop offset="0.6281" stop-color="#7e6ff9"/><stop offset="0.7603" stop-color="#7c6df9"/><stop offset="0.8512" stop-color="#8373f9"/><stop offset="1.0000" stop-color="#9d8efb"/></linearGradient><linearGradient id="a97" x1="113.5" x2="1327.5" gradientUnits="userSpaceOnUse"><stop offset="0.0000" stop-color="#6e61f8"/><stop offset="0.2066" stop-color="#7b6cf9"/><stop offset="0.3388" stop-color="#8373f9"/><stop offset="0.4380" stop-color="#8b7cfa"/><stop offset="0.6529" stop-color="#7e6ef9"/><stop offset="0.7603" stop-color="#7c6df9"/><stop offset="0.8512" stop-color="#8374f9"/><stop offset="1.0000" stop-color="#9d8ffb"/></linearGradient><linearGradient id="a98" x1="113.5" x2="1327.5" gradientUnits="userSpaceOnUse"><stop offset="0.0000" stop-color="#6e61f8"/><stop offset="0.2149" stop-color="#7c6df9"/><stop offset="0.3306" stop-color="#8374f9"/><stop offset="0.4380" stop-color="#8d7dfa"/><stop offset="0.6777" stop-color="#7e6ef9"/><stop offset="0.7769" stop-color="#7e6ef9"/><stop offset="0.8512" stop-color="#8474f9"/><stop offset="1.0000" stop-color="#9d8ffb"/></linearGradient><linearGradient id="a99" x1="113.5" x2="1327.5" gradientUnits="userSpaceOnUse"><stop offset="0.0000" stop-color="#6f62f8"/><stop offset="0.2231" stop-color="#7d6ef9"/><stop offset="0.3223" stop-color="#8474f9"/><stop offset="0.4380" stop-color="#8e7ffa"/><stop offset="0.6942" stop-color="#7d6ef9"/><stop offset="0.7934" stop-color="#7f6ff9"/><stop offset="0.8926" stop-color="#8b7bfa"/><stop offset="1.0000" stop-color="#9e8ffb"/></linearGradient><linearGradient id="a100" x1="113.5" x2="1327.5" gradientUnits="userSpaceOnUse"><stop offset="0.0000" stop-color="#6f62f8"/><stop offset="0.2397" stop-color="#7f6ff9"/><stop offset="0.4380" stop-color="#8f80fa"/><stop offset="0.5785" stop-color="#8676f9"/><stop offset="0.7190" stop-color="#7d6ef9"/><stop offset="0.8264" stop-color="#8272f9"/><stop offset="0.9669" stop-color="#988afb"/><stop offset="1.0000" stop-color="#9e90fc"/></linearGradient><linearGradient id="a101" x1="113.5" x2="1327.5" gradientUnits="userSpaceOnUse"><stop offset="0.0000" stop-color="#7063f8"/><stop offset="0.2975" stop-color="#8474f9"/><stop offset="0.4380" stop-color="#9182fa"/><stop offset="0.5372" stop-color="#8a7bfa"/><stop offset="0.7107" stop-color="#7e6ef9"/><stop offset="0.8099" stop-color="#8171f9"/><stop offset="0.9421" stop-color="#9485fb"/><stop offset="1.0000" stop-color="#9e90fc"/></linearGradient><linearGradient id="a102" x1="113.5" x2="1327.5" gradientUnits="userSpaceOnUse"><stop offset="0.0000" stop-color="#7063f8"/><stop offset="0.2893" stop-color="#8474f9"/><stop offset="0.4380" stop-color="#9283fa"/><stop offset="0.5289" stop-color="#8c7dfa"/><stop offset="0.7107" stop-color="#7f6ff9"/><stop offset="0.8099" stop-color="#8272f9"/><stop offset="0.9421" stop-color="#9586fb"/><stop offset="1.0000" stop-color="#9f90fc"/></linearGradient><clipPath id="clipa"><rect x="113.5" y="107.6" width="1214.0" height="504.6"/></clipPath></defs><g clip-path="url(#clipa)"><rect x="113.5" y="104.6" width="1214.0" height="5.6" fill="url(#a0)"/><rect x="113.5" y="109.6" width="1214.0" height="5.6" fill="url(#a1)"/><rect x="113.5" y="114.6" width="1214.0" height="5.6" fill="url(#a2)"/><rect x="113.5" y="119.6" width="1214.0" height="5.6" fill="url(#a3)"/><rect x="113.5" y="124.6" width="1214.0" height="5.6" fill="url(#a4)"/><rect x="113.5" y="129.6" width="1214.0" height="5.6" fill="url(#a5)"/><rect x="113.5" y="134.6" width="1214.0" height="5.6" fill="url(#a6)"/><rect x="113.5" y="139.6" width="1214.0" height="5.6" fill="url(#a7)"/><rect x="113.5" y="144.6" width="1214.0" height="5.6" fill="url(#a8)"/><rect x="113.5" y="149.6" width="1214.0" height="5.6" fill="url(#a9)"/><rect x="113.5" y="154.6" width="1214.0" height="5.6" fill="url(#a10)"/><rect x="113.5" y="159.6" width="1214.0" height="5.6" fill="url(#a11)"/><rect x="113.5" y="164.6" width="1214.0" height="5.6" fill="url(#a12)"/><rect x="113.5" y="169.6" width="1214.0" height="5.6" fill="url(#a13)"/><rect x="113.5" y="174.6" width="1214.0" height="5.6" fill="url(#a14)"/><rect x="113.5" y="179.6" width="1214.0" height="5.6" fill="url(#a15)"/><rect x="113.5" y="184.6" width="1214.0" height="5.6" fill="url(#a16)"/><rect x="113.5" y="189.6" width="1214.0" height="5.6" fill="url(#a17)"/><rect x="113.5" y="194.6" width="1214.0" height="5.6" fill="url(#a18)"/><rect x="113.5" y="199.6" width="1214.0" height="5.6" fill="url(#a19)"/><rect x="113.5" y="204.6" width="1214.0" height="5.6" fill="url(#a20)"/><rect x="113.5" y="209.6" width="1214.0" height="5.6" fill="url(#a21)"/><rect x="113.5" y="214.6" width="1214.0" height="5.6" fill="url(#a22)"/><rect x="113.5" y="219.6" width="1214.0" height="5.6" fill="url(#a23)"/><rect x="113.5" y="224.6" width="1214.0" height="5.6" fill="url(#a24)"/><rect x="113.5" y="229.6" width="1214.0" height="5.6" fill="url(#a25)"/><rect x="113.5" y="234.6" width="1214.0" height="5.6" fill="url(#a26)"/><rect x="113.5" y="239.6" width="1214.0" height="5.6" fill="url(#a27)"/><rect x="113.5" y="244.6" width="1214.0" height="5.6" fill="url(#a28)"/><rect x="113.5" y="249.6" width="1214.0" height="5.6" fill="url(#a29)"/><rect x="113.5" y="254.6" width="1214.0" height="5.6" fill="url(#a30)"/><rect x="113.5" y="259.6" width="1214.0" height="5.6" fill="url(#a31)"/><rect x="113.5" y="264.6" width="1214.0" height="5.6" fill="url(#a32)"/><rect x="113.5" y="269.6" width="1214.0" height="5.6" fill="url(#a33)"/><rect x="113.5" y="274.6" width="1214.0" height="5.6" fill="url(#a34)"/><rect x="113.5" y="279.6" width="1214.0" height="5.6" fill="url(#a35)"/><rect x="113.5" y="284.6" width="1214.0" height="5.6" fill="url(#a36)"/><rect x="113.5" y="289.6" width="1214.0" height="5.6" fill="url(#a37)"/><rect x="113.5" y="294.6" width="1214.0" height="5.6" fill="url(#a38)"/><rect x="113.5" y="299.6" width="1214.0" height="5.6" fill="url(#a39)"/><rect x="113.5" y="304.6" width="1214.0" height="5.6" fill="url(#a40)"/><rect x="113.5" y="309.6" width="1214.0" height="5.6" fill="url(#a41)"/><rect x="113.5" y="314.6" width="1214.0" height="5.6" fill="url(#a42)"/><rect x="113.5" y="319.6" width="1214.0" height="5.6" fill="url(#a43)"/><rect x="113.5" y="324.6" width="1214.0" height="5.6" fill="url(#a44)"/><rect x="113.5" y="329.6" width="1214.0" height="5.6" fill="url(#a45)"/><rect x="113.5" y="334.6" width="1214.0" height="5.6" fill="url(#a46)"/><rect x="113.5" y="339.6" width="1214.0" height="5.6" fill="url(#a47)"/><rect x="113.5" y="344.6" width="1214.0" height="5.6" fill="url(#a48)"/><rect x="113.5" y="349.6" width="1214.0" height="5.6" fill="url(#a49)"/><rect x="113.5" y="354.6" width="1214.0" height="5.6" fill="url(#a50)"/><rect x="113.5" y="359.6" width="1214.0" height="5.6" fill="url(#a51)"/><rect x="113.5" y="364.6" width="1214.0" height="5.6" fill="url(#a52)"/><rect x="113.5" y="369.6" width="1214.0" height="5.6" fill="url(#a53)"/><rect x="113.5" y="374.6" width="1214.0" height="5.6" fill="url(#a54)"/><rect x="113.5" y="379.6" width="1214.0" height="5.6" fill="url(#a55)"/><rect x="113.5" y="384.6" width="1214.0" height="5.6" fill="url(#a56)"/><rect x="113.5" y="389.6" width="1214.0" height="5.6" fill="url(#a57)"/><rect x="113.5" y="394.6" width="1214.0" height="5.6" fill="url(#a58)"/><rect x="113.5" y="399.6" width="1214.0" height="5.6" fill="url(#a59)"/><rect x="113.5" y="404.6" width="1214.0" height="5.6" fill="url(#a60)"/><rect x="113.5" y="409.6" width="1214.0" height="5.6" fill="url(#a61)"/><rect x="113.5" y="414.6" width="1214.0" height="5.6" fill="url(#a62)"/><rect x="113.5" y="419.6" width="1214.0" height="5.6" fill="url(#a63)"/><rect x="113.5" y="424.6" width="1214.0" height="5.6" fill="url(#a64)"/><rect x="113.5" y="429.6" width="1214.0" height="5.6" fill="url(#a65)"/><rect x="113.5" y="434.6" width="1214.0" height="5.6" fill="url(#a66)"/><rect x="113.5" y="439.6" width="1214.0" height="5.6" fill="url(#a67)"/><rect x="113.5" y="444.6" width="1214.0" height="5.6" fill="url(#a68)"/><rect x="113.5" y="449.6" width="1214.0" height="5.6" fill="url(#a69)"/><rect x="113.5" y="454.6" width="1214.0" height="5.6" fill="url(#a70)"/><rect x="113.5" y="459.6" width="1214.0" height="5.6" fill="url(#a71)"/><rect x="113.5" y="464.6" width="1214.0" height="5.6" fill="url(#a72)"/><rect x="113.5" y="469.6" width="1214.0" height="5.6" fill="url(#a73)"/><rect x="113.5" y="474.6" width="1214.0" height="5.6" fill="url(#a74)"/><rect x="113.5" y="479.6" width="1214.0" height="5.6" fill="url(#a75)"/><rect x="113.5" y="484.6" width="1214.0" height="5.6" fill="url(#a76)"/><rect x="113.5" y="489.6" width="1214.0" height="5.6" fill="url(#a77)"/><rect x="113.5" y="494.6" width="1214.0" height="5.6" fill="url(#a78)"/><rect x="113.5" y="499.6" width="1214.0" height="5.6" fill="url(#a79)"/><rect x="113.5" y="504.6" width="1214.0" height="5.6" fill="url(#a80)"/><rect x="113.5" y="509.6" width="1214.0" height="5.6" fill="url(#a81)"/><rect x="113.5" y="514.6" width="1214.0" height="5.6" fill="url(#a82)"/><rect x="113.5" y="519.6" width="1214.0" height="5.6" fill="url(#a83)"/><rect x="113.5" y="524.6" width="1214.0" height="5.6" fill="url(#a84)"/><rect x="113.5" y="529.6" width="1214.0" height="5.6" fill="url(#a85)"/><rect x="113.5" y="534.6" width="1214.0" height="5.6" fill="url(#a86)"/><rect x="113.5" y="539.6" width="1214.0" height="5.6" fill="url(#a87)"/><rect x="113.5" y="544.6" width="1214.0" height="5.6" fill="url(#a88)"/><rect x="113.5" y="549.6" width="1214.0" height="5.6" fill="url(#a89)"/><rect x="113.5" y="554.6" width="1214.0" height="5.6" fill="url(#a90)"/><rect x="113.5" y="559.6" width="1214.0" height="5.6" fill="url(#a91)"/><rect x="113.5" y="564.6" width="1214.0" height="5.6" fill="url(#a92)"/><rect x="113.5" y="569.6" width="1214.0" height="5.6" fill="url(#a93)"/><rect x="113.5" y="574.6" width="1214.0" height="5.6" fill="url(#a94)"/><rect x="113.5" y="579.6" width="1214.0" height="5.6" fill="url(#a95)"/><rect x="113.5" y="584.6" width="1214.0" height="5.6" fill="url(#a96)"/><rect x="113.5" y="589.6" width="1214.0" height="5.6" fill="url(#a97)"/><rect x="113.5" y="594.6" width="1214.0" height="5.6" fill="url(#a98)"/><rect x="113.5" y="599.6" width="1214.0" height="5.6" fill="url(#a99)"/><rect x="113.5" y="604.6" width="1214.0" height="5.6" fill="url(#a100)"/><rect x="113.5" y="609.6" width="1214.0" height="5.6" fill="url(#a101)"/><rect x="113.5" y="614.6" width="1214.0" height="5.6" fill="url(#a102)"/><path d="M268.0,114.0 C267.0,114.5 264.2,115.7 262.0,117.0 C259.8,118.3 255.8,120.4 254.8,122.1 C253.8,123.8 254.6,125.6 256.0,127.0 C257.4,128.4 259.3,129.4 263.3,130.7 C267.3,131.9 274.3,133.7 280.0,134.5 C285.7,135.3 291.6,135.8 297.4,135.8 C303.2,135.8 309.6,135.2 315.0,134.5 C320.4,133.8 325.5,132.6 330.0,131.5 C334.5,130.4 338.8,129.2 342.0,128.0 C345.2,126.8 347.3,125.5 349.0,124.0 C350.7,122.5 352.8,120.5 352.1,118.7 C351.4,116.9 347.8,114.4 345.0,113.0 C342.2,111.6 336.8,110.7 335.1,110.2" fill="none" stroke="#000" stroke-width="2.2"/><path d="M239.5,108.5 C238.4,109.4 234.3,112.0 233.0,114.0 C231.7,116.0 231.6,118.1 231.8,120.4 C232.0,122.7 232.7,125.7 234.0,128.0 C235.3,130.3 236.8,132.1 239.5,134.1 C242.2,136.1 246.0,138.0 250.0,140.0 C254.0,142.0 258.2,144.2 263.3,146.0 C268.4,147.8 274.3,150.3 280.4,151.1 C286.5,151.9 293.9,151.2 300.0,151.0 C306.1,150.8 313.9,150.2 316.7,150.0" fill="none" stroke="#000" stroke-width="2.2"/><path d="M376.7,133.3 C377.2,132.2 378.9,129.2 380.0,127.0 C381.1,124.8 383.2,122.3 383.0,120.0 C382.8,117.7 380.6,114.9 379.0,113.0 C377.4,111.1 374.2,109.2 373.3,108.5" fill="none" stroke="#000" stroke-width="2.2"/><path d="M276.0,171.5 C278.3,171.5 285.7,171.3 289.7,171.6 C293.7,171.8 297.3,172.4 300.0,173.0 C302.7,173.6 303.9,174.2 305.9,175.0 C307.9,175.8 310.6,176.9 312.0,178.0 C313.4,179.1 314.6,180.6 314.4,181.8 C314.2,183.0 312.4,184.0 311.0,185.0 C309.6,186.0 308.7,186.9 305.9,187.7 C303.1,188.4 298.2,189.2 294.0,189.5 C289.8,189.8 285.2,189.7 280.4,189.4 C275.6,189.2 269.8,188.7 265.0,188.0 C260.2,187.3 253.7,185.7 251.4,185.2" fill="none" stroke="#000" stroke-width="2.2"/><path d="M403.3,108.5 C403.6,110.8 405.9,117.8 405.0,122.1 C404.1,126.4 402.4,129.8 398.1,134.1 C393.8,138.4 383.8,143.4 379.4,147.7 C375.0,151.9 372.4,155.0 371.7,159.6 C371.0,164.2 375.5,169.9 375.1,175.0 C374.7,180.1 373.9,186.1 369.2,190.3 C364.5,194.6 353.5,198.2 347.0,200.5 C340.5,202.8 334.7,203.1 330.0,203.9 C325.3,204.8 320.6,205.3 318.7,205.6" fill="none" stroke="#000" stroke-width="2.2"/><path d="M249.7,203.1 C243.4,202.4 224.1,200.7 212.2,198.8 C200.3,197.0 188.5,194.3 178.1,192.0 C167.7,189.7 157.3,187.3 150.0,185.0 C142.7,182.7 137.6,179.9 134.0,178.0 C130.4,176.1 128.4,175.0 128.7,173.3 C129.0,171.7 132.2,169.9 135.6,168.1 C139.0,166.3 144.5,164.0 149.1,162.5 C153.7,161.0 157.2,160.7 163.3,158.9 C169.4,157.1 178.9,154.8 185.6,151.8 C192.3,148.8 199.2,144.4 203.3,141.1 C207.4,137.8 209.1,135.2 210.4,132.2 C211.7,129.2 211.2,124.5 211.3,122.9" fill="none" stroke="#000" stroke-width="2.2"/><path d="M115.3,149.1 C118.4,148.5 127.8,146.6 134.0,145.5 C140.2,144.4 149.6,142.9 152.7,142.4" fill="none" stroke="#000" stroke-width="2.2"/><path d="M198.0,130.0 C197.3,128.0 194.6,121.3 193.6,118.0 C192.6,114.7 192.1,111.3 191.8,110.0" fill="none" stroke="#000" stroke-width="2.2"/><path d="M158.0,108.2 C162.0,109.8 176.4,117.3 182.0,117.6 C187.6,117.9 190.2,111.3 191.8,110.0" fill="none" stroke="#000" stroke-width="2.2"/><path d="M115.3,116.2 C117.2,116.3 123.2,116.7 127.0,117.0 C130.8,117.3 136.5,117.8 138.4,118.0" fill="none" stroke="#000" stroke-width="2.2"/><path d="M115.1,192.8 C125.6,194.7 155.7,200.6 178.1,203.9 C200.5,207.2 237.8,211.0 249.7,212.4" fill="none" stroke="#000" stroke-width="2.2"/><path d="M276.0,216.8 C280.8,216.9 296.0,217.5 305.0,217.6 C314.0,217.7 321.6,218.1 330.0,217.5 C338.4,216.9 347.1,215.8 355.6,214.1 C364.1,212.4 373.4,211.0 381.1,207.3 C388.8,203.6 396.8,197.1 401.6,192.0 C406.4,186.9 408.4,182.7 410.1,176.7 C411.8,170.7 410.5,162.0 411.8,156.2 C413.1,150.4 416.7,144.1 417.7,141.7" fill="none" stroke="#000" stroke-width="2.2"/><path d="M452.7,108.5 C452.1,111.3 450.2,117.6 449.3,125.6 C448.4,133.5 448.9,147.4 447.5,156.2 C446.1,165.0 444.1,171.6 440.7,178.4 C437.3,185.2 432.8,191.7 427.1,197.1 C421.4,202.5 413.1,206.6 406.7,210.7 C400.3,214.8 391.8,220.0 388.8,221.8" fill="none" stroke="#000" stroke-width="2.2"/><path d="M321.2,234.6 C315.0,234.2 296.5,233.3 284.0,232.5 C271.5,231.7 263.9,232.0 246.3,229.5 C228.7,227.0 200.0,221.5 178.1,217.5 C156.2,213.5 125.6,207.6 115.1,205.6" fill="none" stroke="#000" stroke-width="2.2"/><path d="M493.5,108.5 C491.9,110.5 485.9,116.7 484.2,120.4 C482.5,124.1 482.2,126.4 483.3,130.7 C484.4,135.0 489.7,141.8 491.0,146.0 C492.3,150.2 492.9,151.4 491.0,156.2 C489.1,161.0 485.4,167.3 479.9,175.0 C474.4,182.7 464.3,194.2 457.8,202.2 C451.3,210.1 446.1,216.7 440.7,222.7 C435.3,228.7 431.9,233.5 425.4,238.0 C418.9,242.5 410.4,246.5 401.6,249.9 C392.8,253.3 382.9,256.4 372.6,258.4 C362.3,260.4 350.4,261.4 340.0,262.0 C329.6,262.6 320.8,263.2 310.0,261.7 C299.2,260.2 286.1,256.1 275.0,253.0 C263.9,249.9 248.6,244.9 243.3,243.3" fill="none" stroke="#000" stroke-width="2.2"/><path d="M177.3,225.7 C172.1,225.2 156.4,223.4 146.0,222.5 C135.6,221.6 120.2,220.5 115.1,220.1" fill="none" stroke="#000" stroke-width="2.2"/><path d="M115.0,296.0 C130.8,296.2 183.1,297.2 210.0,297.3 C236.9,297.4 248.9,297.6 276.7,296.7 C304.5,295.8 348.9,293.6 376.7,291.7 C404.5,289.8 421.9,287.5 443.3,285.0 C464.7,282.5 494.7,278.1 505.0,276.7" fill="none" stroke="#000" stroke-width="2.2"/><path d="M541.8,267.1 C545.9,265.3 558.7,260.8 566.7,256.4 C574.7,251.9 584.2,245.7 589.8,240.4 C595.4,235.1 599.2,228.8 600.4,224.4 C601.6,220.0 601.0,217.4 596.9,213.8 C592.8,210.2 582.7,206.1 575.6,203.1 C568.5,200.1 559.5,199.2 554.2,196.0 C548.9,192.8 544.2,187.4 543.6,183.6 C543.0,179.8 545.4,176.8 550.7,172.9 C556.0,169.0 567.9,164.2 575.6,160.4 C583.3,156.6 593.4,153.4 596.9,149.8 C600.4,146.2 598.7,143.2 596.9,139.1 C595.1,134.9 588.1,128.5 586.2,124.9 C584.3,121.4 583.5,120.6 585.3,117.8 C587.1,115.0 595.0,109.6 596.9,108.0" fill="none" stroke="#000" stroke-width="2.2"/><path d="M115.0,321.7 C130.8,322.1 180.3,323.3 210.0,324.0 C239.7,324.7 265.5,326.4 293.3,326.0 C321.1,325.6 346.1,323.8 376.7,321.7 C407.3,319.6 446.1,315.0 476.7,313.3 C507.2,311.6 535.0,311.6 560.0,311.7 C585.0,311.8 604.5,312.1 626.7,314.0 C648.9,315.9 677.2,319.8 693.3,323.3 C709.4,326.8 716.6,330.6 723.3,335.0 C730.0,339.4 730.0,344.2 733.3,350.0 C736.6,355.8 738.8,364.7 743.3,370.0 C747.8,375.3 752.8,378.5 760.0,381.7 C767.2,384.9 780.0,387.8 786.7,389.3 C793.4,390.9 797.8,390.7 800.0,391.0" fill="none" stroke="#000" stroke-width="2.2"/><path d="M858.0,391.5 C863.9,390.4 883.0,388.0 893.3,385.0 C903.6,382.0 914.4,377.5 920.0,373.3 C925.6,369.1 926.7,364.4 926.7,360.0 C926.7,355.6 923.3,351.7 920.0,346.7 C916.7,341.7 907.8,335.0 906.7,330.0 C905.6,325.0 907.2,320.6 913.3,316.7 C919.4,312.8 927.2,310.7 943.3,306.7 C959.4,302.7 992.1,296.5 1010.0,292.7 C1027.8,288.9 1035.3,287.5 1050.4,283.9 C1065.5,280.3 1087.4,275.9 1100.8,271.3 C1114.2,266.7 1124.7,261.2 1131.0,256.2 C1137.3,251.2 1138.5,245.3 1138.5,241.1 C1138.5,236.9 1137.3,233.9 1131.0,231.0 C1124.7,228.1 1114.2,227.6 1100.8,223.4 C1087.4,219.2 1065.1,211.7 1050.4,205.8 C1035.7,199.9 1020.6,194.5 1012.6,188.2 C1004.6,181.9 1002.5,174.3 1002.5,168.0 C1002.5,161.7 1006.5,156.9 1012.6,150.4 C1018.7,143.9 1038.2,135.9 1039.0,129.0 C1039.8,122.1 1021.2,112.2 1017.6,108.8" fill="none" stroke="#000" stroke-width="2.2"/><path d="M114.0,439.6 C117.6,438.4 123.8,436.4 135.6,432.5 C147.4,428.6 168.7,421.4 185.0,416.0 C201.3,410.6 221.4,403.8 233.3,400.0 C245.2,396.2 245.6,396.3 256.7,393.3 C267.8,390.3 292.8,383.9 300.0,382.0" fill="none" stroke="#000" stroke-width="2.2"/><path d="M600.0,482.0 C602.2,481.9 596.6,482.3 613.3,481.5 C630.0,480.7 673.7,478.0 700.0,477.0 C726.3,476.0 749.3,475.9 771.0,475.6 C792.7,475.3 809.0,475.2 830.0,475.0 C851.0,474.8 877.2,475.4 896.7,474.6 C916.2,473.8 938.7,470.9 947.1,470.2" fill="none" stroke="#000" stroke-width="2.2"/><path d="M1012.9,454.2 C1016.5,451.2 1028.3,442.9 1034.2,436.4 C1040.1,429.9 1041.9,424.0 1048.4,415.1 C1054.9,406.2 1065.9,392.6 1073.3,383.1 C1080.7,373.6 1088.2,365.9 1092.9,358.2 C1097.7,350.5 1096.2,343.4 1101.8,336.9 C1107.4,330.4 1117.0,324.8 1126.7,319.1 C1136.4,313.5 1151.1,307.1 1160.0,303.0 C1168.9,298.9 1173.9,297.8 1180.0,294.2 C1186.1,290.6 1192.3,286.5 1196.5,281.4 C1200.7,276.3 1204.0,270.0 1205.3,263.7 C1206.5,257.4 1205.9,250.3 1204.0,243.6 C1202.1,236.9 1199.5,230.1 1194.0,223.4 C1188.5,216.7 1178.9,210.0 1171.3,203.3 C1163.7,196.6 1152.0,189.0 1148.6,183.1 C1145.2,177.2 1146.5,173.0 1151.1,168.0 C1155.7,163.0 1169.6,158.3 1176.3,152.9 C1183.0,147.5 1189.1,142.7 1191.4,135.3 C1193.7,128.0 1190.4,113.2 1190.2,108.8" fill="none" stroke="#000" stroke-width="2.2"/><path d="M1327.0,141.6 C1322.9,143.1 1312.3,146.0 1302.3,150.4 C1292.3,154.8 1275.0,162.6 1267.0,168.0 C1259.0,173.4 1257.3,178.1 1254.4,183.1 C1251.5,188.1 1251.9,193.1 1249.4,198.2 C1246.9,203.2 1241.0,208.8 1239.3,213.4 C1237.6,218.0 1237.8,219.6 1239.3,225.9 C1240.8,232.2 1246.4,244.8 1248.1,251.1 C1249.8,257.4 1250.2,257.8 1249.4,263.7 C1248.6,269.6 1244.0,278.9 1243.1,286.4 C1242.2,293.8 1241.5,298.2 1244.0,308.4 C1246.5,318.6 1255.8,341.1 1258.2,347.6" fill="none" stroke="#000" stroke-width="2.2"/><path d="M1215.6,404.4 C1213.5,408.0 1204.6,417.5 1203.1,425.8 C1201.6,434.1 1207.0,445.9 1206.7,454.2 C1206.4,462.5 1202.4,468.8 1201.3,475.6 C1200.2,482.4 1200.2,491.8 1200.0,495.0" fill="none" stroke="#000" stroke-width="2.2"/><path d="M1265.7,117.6 C1267.4,116.8 1272.4,114.0 1276.0,112.5 C1279.6,111.0 1285.3,109.4 1287.2,108.8" fill="none" stroke="#000" stroke-width="2.2"/><path d="M1306.0,118.9 C1307.7,118.2 1312.5,116.3 1316.0,115.0 C1319.5,113.7 1325.2,111.9 1327.0,111.3" fill="none" stroke="#000" stroke-width="2.2"/><path d="M628.7,555.0 L641.8,556.2" fill="none" stroke="#000" stroke-width="2.2"/><path d="M648.9,557.3 C652.9,558.3 663.5,560.3 672.6,563.3 C681.7,566.3 698.3,573.1 703.4,575.1" fill="none" stroke="#000" stroke-width="2.2"/><path d="M149.6,124.5 C150.7,124.5 154.3,124.2 156.0,124.4 C157.7,124.7 160.0,125.4 159.8,126.0 C159.6,126.6 156.7,127.5 155.0,127.8 C153.3,128.1 150.5,127.5 149.6,127.5" fill="none" stroke="#000" stroke-width="2.2"/><text x="127.5" y="129.5" transform="rotate(0 127.5 129.5)" font-size="29.5" text-anchor="middle" dominant-baseline="central" fill="#000">.8</text><text x="177.0" y="136.5" transform="rotate(-25 177.0 136.5)" font-size="29.5" text-anchor="middle" dominant-baseline="central" fill="#000">3.</text><text x="301.0" y="107.5" transform="rotate(0 301.0 107.5)" font-size="29.5" text-anchor="middle" dominant-baseline="central" fill="#000">3.4</text><text x="352.5" y="140.8" transform="rotate(-5 352.5 140.8)" font-size="29.5" text-anchor="middle" dominant-baseline="central" fill="#000">3.5</text><text x="254.0" y="171.5" transform="rotate(-8 254.0 171.5)" font-size="29.5" text-anchor="middle" dominant-baseline="central" fill="#000">3.5</text><text x="284.5" y="206.0" transform="rotate(0 284.5 206.0)" font-size="29.5" text-anchor="middle" dominant-baseline="central" fill="#000">3.6</text><text x="427.5" y="112.0" transform="rotate(-70 427.5 112.0)" font-size="29.5" text-anchor="middle" dominant-baseline="central" fill="#000">3.7</text><text x="355.5" y="231.0" transform="rotate(-3 355.5 231.0)" font-size="29.5" text-anchor="middle" dominant-baseline="central" fill="#000">3.8</text><text x="210.5" y="231.0" transform="rotate(10 210.5 231.0)" font-size="29.5" text-anchor="middle" dominant-baseline="central" fill="#000">3.9</text><text x="523.5" y="271.0" transform="rotate(0 523.5 271.0)" font-size="29.5" text-anchor="middle" dominant-baseline="central" fill="#000">4</text><text x="306.5" y="383.0" transform="rotate(0 306.5 383.0)" font-size="29.5" text-anchor="middle" dominant-baseline="central" fill="#000">4</text><text x="980.5" y="463.5" transform="rotate(-12 980.5 463.5)" font-size="29.5" text-anchor="middle" dominant-baseline="central" fill="#000">4.2</text><text x="1287.0" y="127.5" transform="rotate(0 1287.0 127.5)" font-size="29.5" text-anchor="middle" dominant-baseline="central" fill="#000">4.3</text><text x="1239.5" y="379.5" transform="rotate(-60 1239.5 379.5)" font-size="29.5" text-anchor="middle" dominant-baseline="central" fill="#000">4.3</text><polygon points="113.0,614.0 113.0,579.0 122.5,579.0 122.5,500.0 124.9,452.7 133.2,452.7 136.0,419.5 145.0,419.5 146.2,410.7 155.7,410.7 157.6,385.0 167.6,385.0 170.0,393.4 177.0,393.4 179.0,344.0 190.0,344.0 192.4,385.0 200.7,385.0 202.4,376.8 204.0,376.8 206.0,393.4 212.6,393.4 213.8,385.0 219.7,385.0 220.9,360.2 224.9,360.2 225.6,335.3 232.7,335.3 235.1,401.7 243.6,401.7 244.3,365.0 245.7,365.0 246.4,401.7 255.3,401.7 256.2,358.0 257.6,343.6 261.2,284.4 267.1,284.4 268.3,276.0 274.7,276.0 276.6,352.0 279.0,368.5 286.0,368.5 289.6,393.4 299.0,393.4 301.5,401.7 311.0,401.7 315.7,343.6 327.6,343.6 330.0,318.7 339.4,318.7 341.8,334.0 344.1,318.7 357.2,318.7 358.4,310.4 370.2,310.4 371.4,325.9 382.0,325.9 385.6,343.6 392.7,343.6 395.0,335.3 397.4,335.3 399.8,368.5 410.5,368.5 413.0,376.0 424.9,376.0 427.3,360.6 466.4,360.6 468.7,376.0 480.6,376.0 481.8,384.3 498.4,384.3 500.7,393.8 507.9,393.8 510.2,401.6 550.5,401.6 551.7,387.9 554.1,409.9 563.6,409.9 565.9,385.5 576.6,385.5 579.0,368.9 589.6,368.9 590.1,418.7 592.5,418.7 593.2,368.9 597.9,368.9 597.9,427.4 605.0,427.4 606.7,477.9 612.9,477.9 613.3,494.5 620.4,494.5 622.1,519.4 627.6,519.4 628.3,569.7 633.5,569.7 634.5,479.0 635.2,479.0 635.9,528.4 642.3,528.4 643.0,562.0 648.6,562.0 649.2,553.5 650.2,553.5 650.8,569.7 660.7,569.7 661.9,562.0 675.0,562.0 676.1,569.7 688.0,569.7 689.7,578.7 702.4,578.7 702.4,570.0 709.5,570.0 710.7,578.2 716.1,578.2 717.8,562.8 744.6,562.8 745.5,569.5 757.4,569.5 759.3,537.2 771.1,537.2 774.0,444.3 785.8,444.3 788.2,385.0 797.2,385.0 798.4,360.9 799.1,368.4 839.9,368.4 841.7,418.7 854.1,418.7 855.3,444.3 868.3,444.3 870.2,427.7 882.0,427.7 883.0,444.3 896.7,444.3 897.9,494.5 910.5,494.5 911.4,503.0 924.0,503.0 925.2,511.1 938.2,511.1 939.4,553.3 964.3,553.3 966.0,603.6 979.7,603.6 979.7,614.0" fill="#383838"/><polygon points="1015.0,614.0 1016.9,579.0 1022.0,562.2 1028.5,562.2 1030.6,545.4 1034.2,545.4 1035.5,528.5 1057.0,528.5 1058.3,520.7 1062.0,520.7 1063.5,470.2 1071.3,470.2 1073.1,544.6 1075.5,544.6 1077.3,511.7 1085.6,511.7 1086.9,470.2 1089.4,470.2 1090.7,494.8 1099.8,494.8 1101.1,503.4 1118.0,503.4 1118.7,511.7 1144.7,511.7 1147.8,486.5 1159.4,486.5 1160.7,478.7 1172.4,478.7 1173.7,486.5 1186.2,486.5 1187.2,444.3 1201.0,444.3 1201.7,478.7 1213.9,478.7 1215.2,494.8 1228.2,494.8 1229.5,503.6 1238.8,503.6 1240.3,495.2 1243.0,495.2 1243.3,486.0 1256.0,486.0 1256.5,494.2 1257.5,494.2 1258.5,479.0 1260.5,461.3 1263.4,452.9 1265.4,444.6 1273.3,443.6 1278.2,444.6 1280.1,452.9 1284.6,452.9 1285.6,460.8 1293.9,460.8 1295.4,453.9 1296.9,453.9 1297.4,439.2 1297.8,460.8 1299.3,460.8 1299.8,453.9 1304.2,452.9 1304.7,435.7 1308.7,435.7 1309.4,419.0 1311.4,421.0 1311.8,452.9 1314.1,452.9 1314.6,427.8 1316.5,427.8 1317.0,410.6 1319.0,410.6 1319.5,401.8 1322.0,401.8 1322.4,393.9 1324.4,393.9 1324.9,376.7 1326.0,376.7 1328.0,370.0 1328.0,614.0" fill="#383838"/><rect x="113" y="500.0" width="9.5" height="79.0" fill="#fff"/><circle cx="149.6" cy="124.0" r="2.6" fill="#3a3a3a"/><circle cx="288.3" cy="123.3" r="2.6" fill="#3a3a3a"/><circle cx="288.3" cy="185.0" r="2.6" fill="#3a3a3a"/><circle cx="149.6" cy="237.3" r="2.6" fill="#3a3a3a"/><circle cx="149.0" cy="375.6" r="2.6" fill="#3a3a3a"/><circle cx="563.7" cy="125.5" r="2.6" fill="#3a3a3a"/><circle cx="633.0" cy="123.7" r="2.6" fill="#3a3a3a"/><circle cx="840.4" cy="123.7" r="2.6" fill="#3a3a3a"/><circle cx="978.5" cy="128.4" r="2.6" fill="#3a3a3a"/><circle cx="1116.0" cy="120.7" r="2.6" fill="#3a3a3a"/><circle cx="1117.8" cy="123.7" r="2.6" fill="#3a3a3a"/><circle cx="1222.7" cy="119.6" r="2.6" fill="#3a3a3a"/><circle cx="1274.6" cy="120.2" r="2.6" fill="#3a3a3a"/><circle cx="1306.8" cy="123.7" r="2.6" fill="#3a3a3a"/><circle cx="633.0" cy="183.0" r="2.6" fill="#3a3a3a"/><circle cx="563.7" cy="209.6" r="2.6" fill="#3a3a3a"/><circle cx="1222.7" cy="193.0" r="2.6" fill="#3a3a3a"/><circle cx="1274.8" cy="193.0" r="2.6" fill="#3a3a3a"/><circle cx="1307.4" cy="193.0" r="2.6" fill="#3a3a3a"/><circle cx="1274.8" cy="220.3" r="2.6" fill="#3a3a3a"/><circle cx="840.4" cy="236.3" r="2.6" fill="#3a3a3a"/><circle cx="978.5" cy="236.3" r="2.6" fill="#3a3a3a"/><circle cx="1116.0" cy="233.3" r="2.6" fill="#3a3a3a"/><circle cx="1117.8" cy="236.3" r="2.6" fill="#3a3a3a"/><circle cx="1307.4" cy="279.6" r="2.6" fill="#3a3a3a"/><circle cx="563.7" cy="381.5" r="2.6" fill="#3a3a3a"/><circle cx="841.0" cy="368.4" r="2.6" fill="#3a3a3a"/><circle cx="1117.5" cy="362.6" r="2.6" fill="#3a3a3a"/><circle cx="1222.6" cy="363.8" r="2.6" fill="#3a3a3a"/><circle cx="979.2" cy="447.4" r="2.6" fill="#3a3a3a"/><circle cx="1274.8" cy="429.2" r="2.6" fill="#3a3a3a"/><circle cx="1116.4" cy="471.3" r="2.6" fill="#3a3a3a"/><circle cx="1117.4" cy="487.2" r="2.6" fill="#3a3a3a"/><circle cx="1222.6" cy="479.6" r="2.6" fill="#3a3a3a"/><circle cx="979.2" cy="540.3" r="2.6" fill="#3a3a3a"/></g><rect x="113.8" y="107.6" width="1213.2" height="504.6" fill="none" stroke="#000" stroke-width="2.4"/><line x1="106.5" x2="113" y1="107.6" y2="107.6" stroke="#333" stroke-width="1.2"/><text x="97.8" y="116.6" font-size="29.5" text-anchor="end">0</text><line x1="106.5" x2="113" y1="191.7" y2="191.7" stroke="#333" stroke-width="1.2"/><text x="97.8" y="200.7" font-size="29.5" text-anchor="end">10</text><line x1="106.5" x2="113" y1="233.8" y2="233.8" stroke="#ddd" stroke-width="1.2"/><line x1="106.5" x2="113" y1="275.8" y2="275.8" stroke="#333" stroke-width="1.2"/><text x="97.8" y="284.8" font-size="29.5" text-anchor="end">20</text><line x1="106.5" x2="113" y1="317.9" y2="317.9" stroke="#333" stroke-width="1.2"/><line x1="106.5" x2="113" y1="359.9" y2="359.9" stroke="#ddd" stroke-width="1.2"/><text x="97.8" y="368.9" font-size="29.5" text-anchor="end">30</text><line x1="106.5" x2="113" y1="402.0" y2="402.0" stroke="#333" stroke-width="1.2"/><text x="97.8" y="453.0" font-size="29.5" text-anchor="end">40</text><line x1="106.5" x2="113" y1="486.0" y2="486.0" stroke="#333" stroke-width="1.2"/><text x="97.8" y="537.1" font-size="29.5" text-anchor="end">50</text><line x1="106.5" x2="113" y1="570.1" y2="570.1" stroke="#333" stroke-width="1.2"/><line x1="106.5" x2="113" y1="612.2" y2="612.2" stroke="#333" stroke-width="1.2"/><text x="97.8" y="621.2" font-size="29.5" text-anchor="end">60</text><line x1="150.1" x2="150.1" y1="613.2" y2="618.7" stroke="#444" stroke-width="1.2"/><text x="148.6" y="650.8" font-size="29.5" text-anchor="middle">62°N</text><line x1="426.4" x2="426.4" y1="613.2" y2="618.7" stroke="#444" stroke-width="1.2"/><text x="424.9" y="650.8" font-size="29.5" text-anchor="middle">64°N</text><line x1="702.7" x2="702.7" y1="613.2" y2="618.7" stroke="#444" stroke-width="1.2"/><text x="701.2" y="650.8" font-size="29.5" text-anchor="middle">66°N</text><line x1="979.0" x2="979.0" y1="613.2" y2="618.7" stroke="#444" stroke-width="1.2"/><text x="977.5" y="650.8" font-size="29.5" text-anchor="middle">68°N</text><line x1="1255.3" x2="1255.3" y1="613.2" y2="618.7" stroke="#444" stroke-width="1.2"/><text x="1253.8" y="650.8" font-size="29.5" text-anchor="middle">70°N</text><text x="0" y="0" transform="translate(38.5 360.3) rotate(-90)" font-size="34" text-anchor="middle">Depth</text><text x="0" y="0" transform="translate(1348.5 608.5) rotate(-90)" font-size="16.8" text-anchor="start">Ocean Data View</text><defs><linearGradient id="b0" x1="113.5" x2="1327.5" gradientUnits="userSpaceOnUse"><stop offset="0.0000" stop-color="#de5958"/><stop offset="0.0579" stop-color="#e26158"/><stop offset="0.1074" stop-color="#e66b57"/><stop offset="0.1653" stop-color="#e66b57"/><stop offset="0.1983" stop-color="#e46557"/><stop offset="0.2314" stop-color="#dd5759"/><stop offset="0.2645" stop-color="#d3465c"/><stop offset="0.3140" stop-color="#c23d5f"/><stop offset="0.3554" stop-color="#af3062"/><stop offset="0.3967" stop-color="#a32864"/><stop offset="0.4298" stop-color="#992265"/><stop offset="0.4545" stop-color="#9a2365"/><stop offset="0.4876" stop-color="#a92c63"/><stop offset="0.5289" stop-color="#c63f5e"/><stop offset="0.5537" stop-color="#d5485c"/><stop offset="0.6364" stop-color="#e56757"/><stop offset="0.6860" stop-color="#e86f58"/><stop offset="0.7769" stop-color="#e97359"/><stop offset="0.8347" stop-color="#e76f58"/><stop offset="0.8595" stop-color="#e56757"/><stop offset="0.8760" stop-color="#e05b58"/><stop offset="0.9008" stop-color="#d2455c"/><stop offset="0.9339" stop-color="#c13c5f"/><stop offset="0.9669" stop-color="#b73661"/><stop offset="1.0000" stop-color="#b93760"/></linearGradient><linearGradient id="b1" x1="113.5" x2="1327.5" gradientUnits="userSpaceOnUse"><stop offset="0.0000" stop-color="#df5a58"/><stop offset="0.0579" stop-color="#e26258"/><stop offset="0.1074" stop-color="#e66b57"/><stop offset="0.1653" stop-color="#e66b57"/><stop offset="0.1983" stop-color="#e46657"/><stop offset="0.2314" stop-color="#dd5759"/><stop offset="0.2645" stop-color="#d3465c"/><stop offset="0.3140" stop-color="#c13d5f"/><stop offset="0.3554" stop-color="#ae3062"/><stop offset="0.3884" stop-color="#a62a64"/><stop offset="0.4215" stop-color="#992265"/><stop offset="0.4463" stop-color="#972166"/><stop offset="0.4711" stop-color="#9f2665"/><stop offset="0.5041" stop-color="#b33361"/><stop offset="0.5455" stop-color="#d0445d"/><stop offset="0.5702" stop-color="#d94e5a"/><stop offset="0.6529" stop-color="#e66b57"/><stop offset="0.7521" stop-color="#e97359"/><stop offset="0.8347" stop-color="#e86f58"/><stop offset="0.8595" stop-color="#e56857"/><stop offset="0.8760" stop-color="#e05c58"/><stop offset="0.9008" stop-color="#d3455c"/><stop offset="0.9339" stop-color="#c23d5f"/><stop offset="0.9669" stop-color="#b93760"/><stop offset="0.9917" stop-color="#ba3860"/><stop offset="1.0000" stop-color="#bc3960"/></linearGradient><linearGradient id="b2" x1="113.5" x2="1327.5" gradientUnits="userSpaceOnUse"><stop offset="0.0000" stop-color="#df5b58"/><stop offset="0.0661" stop-color="#e36457"/><stop offset="0.1157" stop-color="#e76c57"/><stop offset="0.1818" stop-color="#e66a57"/><stop offset="0.2149" stop-color="#e26058"/><stop offset="0.2645" stop-color="#d3455c"/><stop offset="0.3140" stop-color="#c13d5f"/><stop offset="0.3471" stop-color="#b03162"/><stop offset="0.3884" stop-color="#a52a64"/><stop offset="0.4215" stop-color="#982166"/><stop offset="0.4463" stop-color="#962066"/><stop offset="0.4711" stop-color="#9e2565"/><stop offset="0.5124" stop-color="#b73661"/><stop offset="0.5537" stop-color="#d4465c"/><stop offset="0.6529" stop-color="#e66b57"/><stop offset="0.7603" stop-color="#e97359"/><stop offset="0.8347" stop-color="#e87059"/><stop offset="0.8595" stop-color="#e56857"/><stop offset="0.8760" stop-color="#e05d58"/><stop offset="0.9008" stop-color="#d3465c"/><stop offset="0.9339" stop-color="#c33e5e"/><stop offset="0.9669" stop-color="#bb3960"/><stop offset="0.9917" stop-color="#bc3a60"/><stop offset="1.0000" stop-color="#be3b5f"/></linearGradient><linearGradient id="b3" x1="113.5" x2="1327.5" gradientUnits="userSpaceOnUse"><stop offset="0.0000" stop-color="#e05b58"/><stop offset="0.0744" stop-color="#e56757"/><stop offset="0.1322" stop-color="#e76c58"/><stop offset="0.1901" stop-color="#e56957"/><stop offset="0.2231" stop-color="#e05c58"/><stop offset="0.2562" stop-color="#d5485c"/><stop offset="0.3058" stop-color="#c53e5e"/><stop offset="0.3471" stop-color="#b03162"/><stop offset="0.3884" stop-color="#a42964"/><stop offset="0.4298" stop-color="#952066"/><stop offset="0.4545" stop-color="#962066"/><stop offset="0.4959" stop-color="#ab2d63"/><stop offset="0.5455" stop-color="#cd435d"/><stop offset="0.5620" stop-color="#d5495b"/><stop offset="0.6281" stop-color="#e26258"/><stop offset="0.6612" stop-color="#e76c58"/><stop offset="0.7603" stop-color="#e9745a"/><stop offset="0.8347" stop-color="#e87059"/><stop offset="0.8595" stop-color="#e56957"/><stop offset="0.8760" stop-color="#e15e58"/><stop offset="0.9008" stop-color="#d4475c"/><stop offset="0.9339" stop-color="#c53f5e"/><stop offset="0.9752" stop-color="#bd3a5f"/><stop offset="1.0000" stop-color="#c13d5f"/></linearGradient><linearGradient id="b4" x1="113.5" x2="1327.5" gradientUnits="userSpaceOnUse"><stop offset="0.0000" stop-color="#e05c58"/><stop offset="0.1157" stop-color="#e76c58"/><stop offset="0.1901" stop-color="#e56957"/><stop offset="0.2231" stop-color="#e05d58"/><stop offset="0.2562" stop-color="#d5485c"/><stop offset="0.3058" stop-color="#c53e5e"/><stop offset="0.3388" stop-color="#b23261"/><stop offset="0.3884" stop-color="#a42964"/><stop offset="0.4298" stop-color="#942066"/><stop offset="0.4545" stop-color="#952066"/><stop offset="0.5124" stop-color="#b33361"/><stop offset="0.5537" stop-color="#d1445c"/><stop offset="0.5785" stop-color="#d84d5b"/><stop offset="0.6198" stop-color="#e05d58"/><stop offset="0.6529" stop-color="#e66a57"/><stop offset="0.7521" stop-color="#e9745a"/><stop offset="0.8347" stop-color="#e87059"/><stop offset="0.8595" stop-color="#e66957"/><stop offset="0.8760" stop-color="#e15e58"/><stop offset="0.9008" stop-color="#d5485c"/><stop offset="0.9339" stop-color="#c73f5e"/><stop offset="0.9752" stop-color="#c03c5f"/><stop offset="1.0000" stop-color="#c43e5e"/></linearGradient><linearGradient id="b5" x1="113.5" x2="1327.5" gradientUnits="userSpaceOnUse"><stop offset="0.0000" stop-color="#e05d58"/><stop offset="0.1157" stop-color="#e76c58"/><stop offset="0.1901" stop-color="#e66957"/><stop offset="0.2231" stop-color="#e05d58"/><stop offset="0.2562" stop-color="#d5485c"/><stop offset="0.3058" stop-color="#c43e5e"/><stop offset="0.3388" stop-color="#b13162"/><stop offset="0.3967" stop-color="#9f2665"/><stop offset="0.4298" stop-color="#931f66"/><stop offset="0.4545" stop-color="#941f66"/><stop offset="0.5207" stop-color="#b63561"/><stop offset="0.5620" stop-color="#d3465c"/><stop offset="0.6116" stop-color="#de5759"/><stop offset="0.6446" stop-color="#e56757"/><stop offset="0.7355" stop-color="#e9745a"/><stop offset="0.8264" stop-color="#e87159"/><stop offset="0.8595" stop-color="#e66957"/><stop offset="0.8843" stop-color="#de5858"/><stop offset="0.9008" stop-color="#d64a5b"/><stop offset="0.9174" stop-color="#cf435d"/><stop offset="0.9504" stop-color="#c53f5e"/><stop offset="0.9835" stop-color="#c43e5e"/><stop offset="1.0000" stop-color="#c73f5e"/></linearGradient><linearGradient id="b6" x1="113.5" x2="1327.5" gradientUnits="userSpaceOnUse"><stop offset="0.0000" stop-color="#e15e58"/><stop offset="0.1157" stop-color="#e76c57"/><stop offset="0.1901" stop-color="#e66957"/><stop offset="0.2231" stop-color="#e15e58"/><stop offset="0.2562" stop-color="#d5485c"/><stop offset="0.3058" stop-color="#c33e5f"/><stop offset="0.3388" stop-color="#af3062"/><stop offset="0.3967" stop-color="#9e2565"/><stop offset="0.4298" stop-color="#931f66"/><stop offset="0.4545" stop-color="#921f66"/><stop offset="0.5207" stop-color="#b33361"/><stop offset="0.5620" stop-color="#d1455c"/><stop offset="0.6033" stop-color="#da515a"/><stop offset="0.6446" stop-color="#e56757"/><stop offset="0.7355" stop-color="#e9745a"/><stop offset="0.8264" stop-color="#e87159"/><stop offset="0.8595" stop-color="#e66957"/><stop offset="0.8843" stop-color="#de5958"/><stop offset="0.9091" stop-color="#d4465c"/><stop offset="0.9421" stop-color="#c9405e"/><stop offset="0.9835" stop-color="#c7405e"/><stop offset="1.0000" stop-color="#ca415e"/></linearGradient><linearGradient id="b7" x1="113.5" x2="1327.5" gradientUnits="userSpaceOnUse"><stop offset="0.0000" stop-color="#e15f58"/><stop offset="0.1074" stop-color="#e66b57"/><stop offset="0.1901" stop-color="#e66957"/><stop offset="0.2231" stop-color="#e15e58"/><stop offset="0.2562" stop-color="#d5485c"/><stop offset="0.3058" stop-color="#c23d5f"/><stop offset="0.3388" stop-color="#ae2f62"/><stop offset="0.4050" stop-color="#992266"/><stop offset="0.4298" stop-color="#921f65"/><stop offset="0.4545" stop-color="#911f65"/><stop offset="0.5041" stop-color="#a92c63"/><stop offset="0.5289" stop-color="#b53561"/><stop offset="0.5620" stop-color="#cf445d"/><stop offset="0.5868" stop-color="#d64a5b"/><stop offset="0.6116" stop-color="#db5459"/><stop offset="0.6446" stop-color="#e46657"/><stop offset="0.7273" stop-color="#e9745a"/><stop offset="0.7934" stop-color="#e9745a"/><stop offset="0.8512" stop-color="#e76c58"/><stop offset="0.8760" stop-color="#e15f58"/><stop offset="0.9091" stop-color="#d5485c"/><stop offset="0.9421" stop-color="#cb415d"/><stop offset="0.9917" stop-color="#cc425d"/><stop offset="1.0000" stop-color="#cc425d"/></linearGradient><linearGradient id="b8" x1="113.5" x2="1327.5" gradientUnits="userSpaceOnUse"><stop offset="0.0000" stop-color="#e26058"/><stop offset="0.0661" stop-color="#e56957"/><stop offset="0.1570" stop-color="#e66b57"/><stop offset="0.1983" stop-color="#e56857"/><stop offset="0.2314" stop-color="#df5a58"/><stop offset="0.2562" stop-color="#d5485c"/><stop offset="0.3058" stop-color="#c03c5f"/><stop offset="0.3306" stop-color="#b03162"/><stop offset="0.4215" stop-color="#911f65"/><stop offset="0.4463" stop-color="#8f1e65"/><stop offset="0.4628" stop-color="#931f66"/><stop offset="0.5041" stop-color="#a72a63"/><stop offset="0.5289" stop-color="#b23261"/><stop offset="0.5620" stop-color="#cc425d"/><stop offset="0.5868" stop-color="#d5485c"/><stop offset="0.6116" stop-color="#da525a"/><stop offset="0.6446" stop-color="#e46557"/><stop offset="0.6860" stop-color="#e76d58"/><stop offset="0.7438" stop-color="#ea765a"/><stop offset="0.8264" stop-color="#e87159"/><stop offset="0.8595" stop-color="#e56957"/><stop offset="0.9174" stop-color="#d4465c"/><stop offset="0.9421" stop-color="#cc425d"/><stop offset="1.0000" stop-color="#cf435d"/></linearGradient><linearGradient id="b9" x1="113.5" x2="1327.5" gradientUnits="userSpaceOnUse"><stop offset="0.0000" stop-color="#e26158"/><stop offset="0.0579" stop-color="#e66957"/><stop offset="0.1653" stop-color="#e66b57"/><stop offset="0.2066" stop-color="#e46657"/><stop offset="0.2314" stop-color="#df5b58"/><stop offset="0.2562" stop-color="#d5485c"/><stop offset="0.3058" stop-color="#be3b5f"/><stop offset="0.3306" stop-color="#ae2f62"/><stop offset="0.4215" stop-color="#8f1e65"/><stop offset="0.4545" stop-color="#8e1e65"/><stop offset="0.4876" stop-color="#9e2565"/><stop offset="0.5289" stop-color="#af3062"/><stop offset="0.5620" stop-color="#ca415e"/><stop offset="0.5868" stop-color="#d4465c"/><stop offset="0.6116" stop-color="#da505a"/><stop offset="0.6446" stop-color="#e36457"/><stop offset="0.6777" stop-color="#e66b57"/><stop offset="0.7438" stop-color="#ea765a"/><stop offset="0.8264" stop-color="#e87059"/><stop offset="0.8595" stop-color="#e56857"/><stop offset="0.9174" stop-color="#d5475c"/><stop offset="0.9421" stop-color="#ce435d"/><stop offset="1.0000" stop-color="#d1455c"/></linearGradient><linearGradient id="b10" x1="113.5" x2="1327.5" gradientUnits="userSpaceOnUse"><stop offset="0.0000" stop-color="#e36357"/><stop offset="0.0496" stop-color="#e66a57"/><stop offset="0.1818" stop-color="#e66a57"/><stop offset="0.2149" stop-color="#e36357"/><stop offset="0.2397" stop-color="#dc5559"/><stop offset="0.2562" stop-color="#d5485c"/><stop offset="0.3058" stop-color="#bd3a60"/><stop offset="0.3306" stop-color="#ac2e62"/><stop offset="0.4050" stop-color="#931f66"/><stop offset="0.4298" stop-color="#8c1e65"/><stop offset="0.4545" stop-color="#8d1e65"/><stop offset="0.4959" stop-color="#9e2565"/><stop offset="0.5289" stop-color="#ac2e63"/><stop offset="0.5620" stop-color="#c8405e"/><stop offset="0.5868" stop-color="#d2455c"/><stop offset="0.6033" stop-color="#d64a5b"/><stop offset="0.6364" stop-color="#e16058"/><stop offset="0.6612" stop-color="#e56857"/><stop offset="0.7438" stop-color="#ea775a"/><stop offset="0.8182" stop-color="#e87159"/><stop offset="0.8595" stop-color="#e56857"/><stop offset="0.9256" stop-color="#d3465c"/><stop offset="0.9504" stop-color="#cf435d"/><stop offset="1.0000" stop-color="#d3455c"/></linearGradient><linearGradient id="b11" x1="113.5" x2="1327.5" gradientUnits="userSpaceOnUse"><stop offset="0.0000" stop-color="#e36457"/><stop offset="0.0496" stop-color="#e66a57"/><stop offset="0.1818" stop-color="#e66a57"/><stop offset="0.2149" stop-color="#e36457"/><stop offset="0.2397" stop-color="#dd5659"/><stop offset="0.2562" stop-color="#d5485c"/><stop offset="0.3058" stop-color="#bb3860"/><stop offset="0.3306" stop-color="#ab2d63"/><stop offset="0.3967" stop-color="#952066"/><stop offset="0.4215" stop-color="#8c1e65"/><stop offset="0.4463" stop-color="#8b1d65"/><stop offset="0.4876" stop-color="#982166"/><stop offset="0.5289" stop-color="#a92c63"/><stop offset="0.5455" stop-color="#b73561"/><stop offset="0.5620" stop-color="#c63f5e"/><stop offset="0.5868" stop-color="#d1445c"/><stop offset="0.6033" stop-color="#d5495b"/><stop offset="0.6364" stop-color="#e15f58"/><stop offset="0.6612" stop-color="#e56857"/><stop offset="0.7107" stop-color="#e97259"/><stop offset="0.7521" stop-color="#ea785b"/><stop offset="0.8264" stop-color="#e87059"/><stop offset="0.8678" stop-color="#e46557"/><stop offset="0.9256" stop-color="#d4475c"/><stop offset="0.9504" stop-color="#cf445d"/><stop offset="1.0000" stop-color="#d4465c"/></linearGradient><linearGradient id="b12" x1="113.5" x2="1327.5" gradientUnits="userSpaceOnUse"><stop offset="0.0000" stop-color="#e46557"/><stop offset="0.0496" stop-color="#e66b57"/><stop offset="0.1818" stop-color="#e66a57"/><stop offset="0.2149" stop-color="#e36457"/><stop offset="0.2397" stop-color="#dd5659"/><stop offset="0.2562" stop-color="#d5485c"/><stop offset="0.3058" stop-color="#b93760"/><stop offset="0.3306" stop-color="#aa2d63"/><stop offset="0.3884" stop-color="#982166"/><stop offset="0.4215" stop-color="#8c1e65"/><stop offset="0.4463" stop-color="#8b1d65"/><stop offset="0.4959" stop-color="#9a2365"/><stop offset="0.5289" stop-color="#a82b63"/><stop offset="0.5455" stop-color="#b53561"/><stop offset="0.5620" stop-color="#c53f5e"/><stop offset="0.5868" stop-color="#d0445d"/><stop offset="0.6033" stop-color="#d5485c"/><stop offset="0.6364" stop-color="#e15f58"/><stop offset="0.6612" stop-color="#e56857"/><stop offset="0.7025" stop-color="#e87159"/><stop offset="0.7438" stop-color="#eb785b"/><stop offset="0.8099" stop-color="#e97359"/><stop offset="0.8678" stop-color="#e46557"/><stop offset="0.9256" stop-color="#d5485c"/><stop offset="0.9504" stop-color="#d0445d"/><stop offset="1.0000" stop-color="#d4475c"/></linearGradient><linearGradient id="b13" x1="113.5" x2="1327.5" gradientUnits="userSpaceOnUse"><stop offset="0.0000" stop-color="#e46657"/><stop offset="0.0496" stop-color="#e66b57"/><stop offset="0.1818" stop-color="#e66b57"/><stop offset="0.2149" stop-color="#e46557"/><stop offset="0.2397" stop-color="#dd5759"/><stop offset="0.2562" stop-color="#d6495b"/><stop offset="0.3140" stop-color="#b23361"/><stop offset="0.3388" stop-color="#a72b63"/><stop offset="0.3967" stop-color="#962066"/><stop offset="0.4215" stop-color="#8d1e65"/><stop offset="0.4463" stop-color="#8c1e65"/><stop offset="0.4959" stop-color="#992265"/><stop offset="0.5289" stop-color="#a82b63"/><stop offset="0.5455" stop-color="#b53561"/><stop offset="0.5620" stop-color="#c53f5e"/><stop offset="0.5868" stop-color="#d0445d"/><stop offset="0.6033" stop-color="#d5485c"/><stop offset="0.6364" stop-color="#e26058"/><stop offset="0.6694" stop-color="#e66957"/><stop offset="0.7355" stop-color="#eb795b"/><stop offset="0.7851" stop-color="#ea775a"/><stop offset="0.8595" stop-color="#e56857"/><stop offset="0.9008" stop-color="#dd5659"/><stop offset="0.9339" stop-color="#d3465c"/><stop offset="0.9587" stop-color="#d0445d"/><stop offset="1.0000" stop-color="#d5485c"/></linearGradient><linearGradient id="b14" x1="113.5" x2="1327.5" gradientUnits="userSpaceOnUse"><stop offset="0.0000" stop-color="#e46657"/><stop offset="0.0496" stop-color="#e66b57"/><stop offset="0.1322" stop-color="#e76c57"/><stop offset="0.1983" stop-color="#e66957"/><stop offset="0.2231" stop-color="#e26158"/><stop offset="0.2479" stop-color="#d9505a"/><stop offset="0.2645" stop-color="#d1445c"/><stop offset="0.3058" stop-color="#b73661"/><stop offset="0.3306" stop-color="#aa2c63"/><stop offset="0.3884" stop-color="#9b2365"/><stop offset="0.4215" stop-color="#901e65"/><stop offset="0.4463" stop-color="#8f1e65"/><stop offset="0.4959" stop-color="#9a2365"/><stop offset="0.5289" stop-color="#a92c63"/><stop offset="0.5537" stop-color="#c03c5f"/><stop offset="0.5785" stop-color="#ce435d"/><stop offset="0.6033" stop-color="#d6495b"/><stop offset="0.6364" stop-color="#e26158"/><stop offset="0.6694" stop-color="#e66a57"/><stop offset="0.7355" stop-color="#eb7a5b"/><stop offset="0.7851" stop-color="#ea785b"/><stop offset="0.8678" stop-color="#e46657"/><stop offset="0.9008" stop-color="#de5759"/><stop offset="0.9339" stop-color="#d4465c"/><stop offset="0.9587" stop-color="#cf445d"/><stop offset="1.0000" stop-color="#d5485c"/></linearGradient><linearGradient id="b15" x1="113.5" x2="1327.5" gradientUnits="userSpaceOnUse"><stop offset="0.0000" stop-color="#e56757"/><stop offset="0.0496" stop-color="#e66b57"/><stop offset="0.1240" stop-color="#e66b57"/><stop offset="0.1901" stop-color="#e66a57"/><stop offset="0.2231" stop-color="#e26258"/><stop offset="0.2479" stop-color="#da505a"/><stop offset="0.2645" stop-color="#d1445c"/><stop offset="0.3223" stop-color="#ad2f62"/><stop offset="0.4215" stop-color="#941f66"/><stop offset="0.4463" stop-color="#941f66"/><stop offset="0.4959" stop-color="#9d2465"/><stop offset="0.5289" stop-color="#ac2e62"/><stop offset="0.5620" stop-color="#c8405e"/><stop offset="0.5950" stop-color="#d5485c"/><stop offset="0.6116" stop-color="#da515a"/><stop offset="0.6364" stop-color="#e26258"/><stop offset="0.7107" stop-color="#ea765a"/><stop offset="0.7521" stop-color="#ec7c5c"/><stop offset="0.8099" stop-color="#e9745a"/><stop offset="0.8760" stop-color="#e36457"/><stop offset="0.9174" stop-color="#d94f5a"/><stop offset="0.9339" stop-color="#d4465c"/><stop offset="0.9587" stop-color="#cf435d"/><stop offset="0.9917" stop-color="#d4465c"/><stop offset="1.0000" stop-color="#d6495b"/></linearGradient><linearGradient id="b16" x1="113.5" x2="1327.5" gradientUnits="userSpaceOnUse"><stop offset="0.0000" stop-color="#e56857"/><stop offset="0.0496" stop-color="#e66b57"/><stop offset="0.1157" stop-color="#e66b57"/><stop offset="0.1901" stop-color="#e66a57"/><stop offset="0.2231" stop-color="#e36257"/><stop offset="0.2479" stop-color="#da505a"/><stop offset="0.2645" stop-color="#d1445c"/><stop offset="0.3223" stop-color="#ae3062"/><stop offset="0.4298" stop-color="#982166"/><stop offset="0.4876" stop-color="#9e2565"/><stop offset="0.5207" stop-color="#ac2e63"/><stop offset="0.5537" stop-color="#c63f5e"/><stop offset="0.5785" stop-color="#d3455c"/><stop offset="0.6033" stop-color="#d94f5a"/><stop offset="0.6281" stop-color="#e16058"/><stop offset="0.6529" stop-color="#e56957"/><stop offset="0.7273" stop-color="#eb7b5b"/><stop offset="0.7686" stop-color="#ec7c5c"/><stop offset="0.8678" stop-color="#e56857"/><stop offset="0.9008" stop-color="#df5a58"/><stop offset="0.9339" stop-color="#d4465c"/><stop offset="0.9587" stop-color="#ce435d"/><stop offset="0.9917" stop-color="#d4465c"/><stop offset="1.0000" stop-color="#d64a5b"/></linearGradient><linearGradient id="b17" x1="113.5" x2="1327.5" gradientUnits="userSpaceOnUse"><stop offset="0.0000" stop-color="#e56857"/><stop offset="0.0496" stop-color="#e66b57"/><stop offset="0.1240" stop-color="#e66b57"/><stop offset="0.1901" stop-color="#e66957"/><stop offset="0.2231" stop-color="#e36257"/><stop offset="0.2479" stop-color="#da515a"/><stop offset="0.2645" stop-color="#d1455c"/><stop offset="0.3223" stop-color="#af3062"/><stop offset="0.3636" stop-color="#a82c63"/><stop offset="0.4298" stop-color="#9c2465"/><stop offset="0.4876" stop-color="#a32864"/><stop offset="0.5124" stop-color="#ae2f62"/><stop offset="0.5537" stop-color="#cb415d"/><stop offset="0.5785" stop-color="#d5485c"/><stop offset="0.6033" stop-color="#db5359"/><stop offset="0.6364" stop-color="#e46557"/><stop offset="0.7273" stop-color="#ec7c5c"/><stop offset="0.7686" stop-color="#ec7d5c"/><stop offset="0.8760" stop-color="#e56757"/><stop offset="0.9091" stop-color="#dd5759"/><stop offset="0.9339" stop-color="#d4475c"/><stop offset="0.9587" stop-color="#ce435d"/><stop offset="0.9835" stop-color="#d2455c"/><stop offset="1.0000" stop-color="#d74b5b"/></linearGradient><linearGradient id="b18" x1="113.5" x2="1327.5" gradientUnits="userSpaceOnUse"><stop offset="0.0000" stop-color="#e56957"/><stop offset="0.0579" stop-color="#e66a57"/><stop offset="0.1818" stop-color="#e66a57"/><stop offset="0.2149" stop-color="#e46557"/><stop offset="0.2397" stop-color="#de5858"/><stop offset="0.2645" stop-color="#d1455c"/><stop offset="0.3140" stop-color="#b43461"/><stop offset="0.3388" stop-color="#ad2f62"/><stop offset="0.4050" stop-color="#a52964"/><stop offset="0.4380" stop-color="#a22864"/><stop offset="0.4876" stop-color="#aa2d63"/><stop offset="0.5207" stop-color="#bb3960"/><stop offset="0.5620" stop-color="#d4465c"/><stop offset="0.6033" stop-color="#de5759"/><stop offset="0.6364" stop-color="#e56757"/><stop offset="0.7190" stop-color="#ec7d5c"/><stop offset="0.7603" stop-color="#ed805e"/><stop offset="0.8760" stop-color="#e56857"/><stop offset="0.9091" stop-color="#de5858"/><stop offset="0.9339" stop-color="#d4475c"/><stop offset="0.9587" stop-color="#cd435d"/><stop offset="0.9835" stop-color="#d2455c"/><stop offset="1.0000" stop-color="#d74c5b"/></linearGradient><linearGradient id="b19" x1="113.5" x2="1327.5" gradientUnits="userSpaceOnUse"><stop offset="0.0000" stop-color="#e56957"/><stop offset="0.0744" stop-color="#e66957"/><stop offset="0.1736" stop-color="#e66a57"/><stop offset="0.2149" stop-color="#e46457"/><stop offset="0.2397" stop-color="#de5858"/><stop offset="0.2645" stop-color="#d1455c"/><stop offset="0.3058" stop-color="#ba3860"/><stop offset="0.3306" stop-color="#b13162"/><stop offset="0.4050" stop-color="#aa2d63"/><stop offset="0.4380" stop-color="#a82b63"/><stop offset="0.4876" stop-color="#b23361"/><stop offset="0.5537" stop-color="#d4475c"/><stop offset="0.6364" stop-color="#e66957"/><stop offset="0.6942" stop-color="#eb795b"/><stop offset="0.7355" stop-color="#ed805e"/><stop offset="0.7686" stop-color="#ed815e"/><stop offset="0.8760" stop-color="#e66a57"/><stop offset="0.9091" stop-color="#df5a58"/><stop offset="0.9339" stop-color="#d5475c"/><stop offset="0.9504" stop-color="#ce435d"/><stop offset="0.9752" stop-color="#d0445d"/><stop offset="1.0000" stop-color="#d84e5a"/></linearGradient><linearGradient id="b20" x1="113.5" x2="1327.5" gradientUnits="userSpaceOnUse"><stop offset="0.0000" stop-color="#e66957"/><stop offset="0.1736" stop-color="#e66957"/><stop offset="0.2149" stop-color="#e36457"/><stop offset="0.2397" stop-color="#de5858"/><stop offset="0.2645" stop-color="#d2455c"/><stop offset="0.3058" stop-color="#bb3960"/><stop offset="0.3388" stop-color="#b23261"/><stop offset="0.4050" stop-color="#b03162"/><stop offset="0.4380" stop-color="#af3062"/><stop offset="0.4876" stop-color="#bc3960"/><stop offset="0.5455" stop-color="#d6495b"/><stop offset="0.6364" stop-color="#e66b57"/><stop offset="0.6860" stop-color="#eb785b"/><stop offset="0.7190" stop-color="#ed825f"/><stop offset="0.7603" stop-color="#ed8360"/><stop offset="0.8760" stop-color="#e66b57"/><stop offset="0.9091" stop-color="#e05b58"/><stop offset="0.9339" stop-color="#d5485c"/><stop offset="0.9504" stop-color="#cf435d"/><stop offset="0.9669" stop-color="#cf445d"/><stop offset="0.9917" stop-color="#d74c5b"/><stop offset="1.0000" stop-color="#d9505a"/></linearGradient><linearGradient id="b21" x1="113.5" x2="1327.5" gradientUnits="userSpaceOnUse"><stop offset="0.0000" stop-color="#e66957"/><stop offset="0.1736" stop-color="#e56857"/><stop offset="0.2231" stop-color="#e26158"/><stop offset="0.2397" stop-color="#de5958"/><stop offset="0.2645" stop-color="#d2455c"/><stop offset="0.2975" stop-color="#c13c5f"/><stop offset="0.3306" stop-color="#b63561"/><stop offset="0.4132" stop-color="#b53561"/><stop offset="0.4463" stop-color="#b83760"/><stop offset="0.5041" stop-color="#cc425d"/><stop offset="0.5372" stop-color="#d74c5b"/><stop offset="0.6281" stop-color="#e76c57"/><stop offset="0.6777" stop-color="#ea775b"/><stop offset="0.7107" stop-color="#ed8360"/><stop offset="0.7603" stop-color="#ee8561"/><stop offset="0.8347" stop-color="#ea755a"/><stop offset="0.8760" stop-color="#e76d58"/><stop offset="0.9008" stop-color="#e36257"/><stop offset="0.9339" stop-color="#d6495b"/><stop offset="0.9504" stop-color="#d0445d"/><stop offset="0.9669" stop-color="#d1455c"/><stop offset="0.9917" stop-color="#d94e5a"/><stop offset="1.0000" stop-color="#db525a"/></linearGradient><linearGradient id="b22" x1="113.5" x2="1327.5" gradientUnits="userSpaceOnUse"><stop offset="0.0000" stop-color="#e66957"/><stop offset="0.1736" stop-color="#e56757"/><stop offset="0.2231" stop-color="#e26158"/><stop offset="0.2397" stop-color="#df5958"/><stop offset="0.2645" stop-color="#d3465c"/><stop offset="0.2975" stop-color="#c23d5f"/><stop offset="0.3306" stop-color="#b93760"/><stop offset="0.3719" stop-color="#ba3860"/><stop offset="0.4132" stop-color="#bc3960"/><stop offset="0.4463" stop-color="#c03c5f"/><stop offset="0.5124" stop-color="#d5495b"/><stop offset="0.6198" stop-color="#e76c58"/><stop offset="0.6694" stop-color="#ea765a"/><stop offset="0.7107" stop-color="#ee8762"/><stop offset="0.7603" stop-color="#ee8762"/><stop offset="0.8264" stop-color="#ea785b"/><stop offset="0.8760" stop-color="#e86f58"/><stop offset="0.9008" stop-color="#e36457"/><stop offset="0.9339" stop-color="#d64a5b"/><stop offset="0.9421" stop-color="#d3465c"/><stop offset="0.9587" stop-color="#d1455c"/><stop offset="0.9835" stop-color="#d84d5b"/><stop offset="1.0000" stop-color="#dc5559"/></linearGradient><linearGradient id="b23" x1="113.5" x2="1327.5" gradientUnits="userSpaceOnUse"><stop offset="0.0000" stop-color="#e66957"/><stop offset="0.1736" stop-color="#e46657"/><stop offset="0.2231" stop-color="#e26158"/><stop offset="0.2397" stop-color="#df5a58"/><stop offset="0.2645" stop-color="#d4465c"/><stop offset="0.2975" stop-color="#c43e5e"/><stop offset="0.3388" stop-color="#bc3960"/><stop offset="0.4132" stop-color="#c23d5f"/><stop offset="0.4463" stop-color="#c73f5e"/><stop offset="0.4959" stop-color="#d6495b"/><stop offset="0.6116" stop-color="#e76c58"/><stop offset="0.6694" stop-color="#ea785b"/><stop offset="0.7107" stop-color="#ef8a63"/><stop offset="0.7603" stop-color="#ef8963"/><stop offset="0.8264" stop-color="#eb795b"/><stop offset="0.8760" stop-color="#e87159"/><stop offset="0.9008" stop-color="#e46657"/><stop offset="0.9421" stop-color="#d5475c"/><stop offset="0.9587" stop-color="#d4465c"/><stop offset="1.0000" stop-color="#de5858"/></linearGradient><linearGradient id="b24" x1="113.5" x2="1327.5" gradientUnits="userSpaceOnUse"><stop offset="0.0000" stop-color="#e66957"/><stop offset="0.1736" stop-color="#e46557"/><stop offset="0.2231" stop-color="#e26158"/><stop offset="0.2397" stop-color="#df5b58"/><stop offset="0.2645" stop-color="#d5475c"/><stop offset="0.2975" stop-color="#c63f5e"/><stop offset="0.3388" stop-color="#bf3b5f"/><stop offset="0.3884" stop-color="#c53f5e"/><stop offset="0.4380" stop-color="#cb415d"/><stop offset="0.4793" stop-color="#d64a5b"/><stop offset="0.5950" stop-color="#e66a57"/><stop offset="0.6364" stop-color="#e97259"/><stop offset="0.6694" stop-color="#eb795b"/><stop offset="0.7025" stop-color="#ef8a64"/><stop offset="0.7355" stop-color="#ef8d65"/><stop offset="0.7686" stop-color="#ef8963"/><stop offset="0.8264" stop-color="#eb7b5b"/><stop offset="0.8760" stop-color="#e97359"/><stop offset="0.9008" stop-color="#e56857"/><stop offset="0.9421" stop-color="#d64a5b"/><stop offset="0.9587" stop-color="#d64a5b"/><stop offset="1.0000" stop-color="#e05c58"/></linearGradient><linearGradient id="b25" x1="113.5" x2="1327.5" gradientUnits="userSpaceOnUse"><stop offset="0.0000" stop-color="#e66957"/><stop offset="0.1736" stop-color="#e46457"/><stop offset="0.2314" stop-color="#e15f58"/><stop offset="0.2479" stop-color="#dd5659"/><stop offset="0.2727" stop-color="#d2455c"/><stop offset="0.3140" stop-color="#c53f5e"/><stop offset="0.3554" stop-color="#c33e5f"/><stop offset="0.4132" stop-color="#cd425d"/><stop offset="0.4545" stop-color="#d5475c"/><stop offset="0.5289" stop-color="#e05c58"/><stop offset="0.6198" stop-color="#e87259"/><stop offset="0.6612" stop-color="#ea775a"/><stop offset="0.6860" stop-color="#ed835f"/><stop offset="0.7025" stop-color="#ef8c65"/><stop offset="0.7273" stop-color="#f09067"/><stop offset="0.7603" stop-color="#ef8d65"/><stop offset="0.8264" stop-color="#ec7c5c"/><stop offset="0.8760" stop-color="#e9755a"/><stop offset="0.9008" stop-color="#e66a57"/><stop offset="0.9421" stop-color="#d84d5b"/><stop offset="0.9587" stop-color="#d94f5a"/><stop offset="1.0000" stop-color="#e15f58"/></linearGradient><linearGradient id="b26" x1="113.5" x2="1327.5" gradientUnits="userSpaceOnUse"><stop offset="0.0000" stop-color="#e66957"/><stop offset="0.0992" stop-color="#e46657"/><stop offset="0.1818" stop-color="#e36357"/><stop offset="0.2314" stop-color="#e15f58"/><stop offset="0.2479" stop-color="#dd5759"/><stop offset="0.2727" stop-color="#d4465c"/><stop offset="0.3140" stop-color="#c8405e"/><stop offset="0.3554" stop-color="#c73f5e"/><stop offset="0.4132" stop-color="#d2455c"/><stop offset="0.4463" stop-color="#d64a5b"/><stop offset="0.5124" stop-color="#e05d58"/><stop offset="0.5785" stop-color="#e66b57"/><stop offset="0.6198" stop-color="#e97359"/><stop offset="0.6529" stop-color="#ea765a"/><stop offset="0.6777" stop-color="#ec7f5d"/><stop offset="0.7025" stop-color="#f08e66"/><stop offset="0.7273" stop-color="#f09168"/><stop offset="0.7603" stop-color="#f08f66"/><stop offset="0.8264" stop-color="#ec7e5d"/><stop offset="0.8843" stop-color="#e9745a"/><stop offset="0.9174" stop-color="#e26158"/><stop offset="0.9421" stop-color="#da525a"/><stop offset="0.9587" stop-color="#dc5459"/><stop offset="1.0000" stop-color="#e26258"/></linearGradient><linearGradient id="b27" x1="113.5" x2="1327.5" gradientUnits="userSpaceOnUse"><stop offset="0.0000" stop-color="#e66957"/><stop offset="0.0496" stop-color="#e46657"/><stop offset="0.1736" stop-color="#e36357"/><stop offset="0.2314" stop-color="#e15f58"/><stop offset="0.2479" stop-color="#de5858"/><stop offset="0.2727" stop-color="#d6495b"/><stop offset="0.3140" stop-color="#cc425d"/><stop offset="0.3554" stop-color="#cb415d"/><stop offset="0.4050" stop-color="#d5485c"/><stop offset="0.4463" stop-color="#d94f5a"/><stop offset="0.5124" stop-color="#e15f58"/><stop offset="0.5785" stop-color="#e76d58"/><stop offset="0.6198" stop-color="#e9745a"/><stop offset="0.6529" stop-color="#ea765a"/><stop offset="0.6777" stop-color="#ed805e"/><stop offset="0.7025" stop-color="#f08f66"/><stop offset="0.7273" stop-color="#f19369"/><stop offset="0.7603" stop-color="#f09067"/><stop offset="0.8264" stop-color="#ed805e"/><stop offset="0.8843" stop-color="#ea765a"/><stop offset="0.9174" stop-color="#e36457"/><stop offset="0.9421" stop-color="#dd5759"/><stop offset="0.9669" stop-color="#e05d58"/><stop offset="1.0000" stop-color="#e46557"/></linearGradient><linearGradient id="b28" x1="113.5" x2="1327.5" gradientUnits="userSpaceOnUse"><stop offset="0.0000" stop-color="#e66a57"/><stop offset="0.0413" stop-color="#e46657"/><stop offset="0.1736" stop-color="#e36357"/><stop offset="0.2314" stop-color="#e16058"/><stop offset="0.2562" stop-color="#dc5459"/><stop offset="0.2810" stop-color="#d5495b"/><stop offset="0.3306" stop-color="#ce435d"/><stop offset="0.3719" stop-color="#d1455c"/><stop offset="0.4215" stop-color="#d84e5a"/><stop offset="0.5124" stop-color="#e26258"/><stop offset="0.5702" stop-color="#e76d58"/><stop offset="0.6116" stop-color="#ea755a"/><stop offset="0.6529" stop-color="#ea765a"/><stop offset="0.6777" stop-color="#ed805e"/><stop offset="0.7107" stop-color="#f09268"/><stop offset="0.7521" stop-color="#f09268"/><stop offset="0.8347" stop-color="#ed825f"/><stop offset="0.8843" stop-color="#eb795b"/><stop offset="0.9174" stop-color="#e56757"/><stop offset="0.9339" stop-color="#e15e58"/><stop offset="0.9504" stop-color="#e05d58"/><stop offset="1.0000" stop-color="#e56857"/></linearGradient><linearGradient id="b29" x1="113.5" x2="1327.5" gradientUnits="userSpaceOnUse"><stop offset="0.0000" stop-color="#e66b57"/><stop offset="0.0413" stop-color="#e46657"/><stop offset="0.1736" stop-color="#e36357"/><stop offset="0.2314" stop-color="#e26058"/><stop offset="0.2562" stop-color="#dd5659"/><stop offset="0.2893" stop-color="#d64a5b"/><stop offset="0.3306" stop-color="#d2455c"/><stop offset="0.3719" stop-color="#d5475c"/><stop offset="0.5207" stop-color="#e46557"/><stop offset="0.5785" stop-color="#e87159"/><stop offset="0.6116" stop-color="#ea765a"/><stop offset="0.6529" stop-color="#ea765a"/><stop offset="0.6777" stop-color="#ed805e"/><stop offset="0.7107" stop-color="#f09168"/><stop offset="0.7521" stop-color="#f19369"/><stop offset="0.8430" stop-color="#ed835f"/><stop offset="0.8843" stop-color="#eb7b5b"/><stop offset="0.9091" stop-color="#e86f58"/><stop offset="0.9339" stop-color="#e36257"/><stop offset="0.9504" stop-color="#e26158"/><stop offset="1.0000" stop-color="#e66b57"/></linearGradient><linearGradient id="b30" x1="113.5" x2="1327.5" gradientUnits="userSpaceOnUse"><stop offset="0.0000" stop-color="#e76c58"/><stop offset="0.0331" stop-color="#e56757"/><stop offset="0.1736" stop-color="#e36457"/><stop offset="0.2397" stop-color="#e15f58"/><stop offset="0.2893" stop-color="#d84e5a"/><stop offset="0.3388" stop-color="#d6495b"/><stop offset="0.3802" stop-color="#d84d5b"/><stop offset="0.5207" stop-color="#e56757"/><stop offset="0.5785" stop-color="#e97259"/><stop offset="0.6116" stop-color="#ea775b"/><stop offset="0.6529" stop-color="#ea765a"/><stop offset="0.6777" stop-color="#ed805e"/><stop offset="0.7107" stop-color="#f09167"/><stop offset="0.7521" stop-color="#f19369"/><stop offset="0.8760" stop-color="#ed805e"/><stop offset="0.9091" stop-color="#e97359"/><stop offset="0.9339" stop-color="#e56757"/><stop offset="0.9504" stop-color="#e46657"/><stop offset="0.9917" stop-color="#e76e58"/><stop offset="1.0000" stop-color="#e76f58"/></linearGradient><linearGradient id="b31" x1="113.5" x2="1327.5" gradientUnits="userSpaceOnUse"><stop offset="0.0000" stop-color="#e76e58"/><stop offset="0.0248" stop-color="#e56957"/><stop offset="0.1736" stop-color="#e46557"/><stop offset="0.2397" stop-color="#e26058"/><stop offset="0.2975" stop-color="#da505a"/><stop offset="0.3554" stop-color="#d94e5a"/><stop offset="0.5289" stop-color="#e66957"/><stop offset="0.6033" stop-color="#ea785b"/><stop offset="0.6529" stop-color="#ea775a"/><stop offset="0.6777" stop-color="#ed805e"/><stop offset="0.7107" stop-color="#f09067"/><stop offset="0.7603" stop-color="#f09268"/><stop offset="0.8760" stop-color="#ed835f"/><stop offset="0.9339" stop-color="#e66b57"/><stop offset="0.9504" stop-color="#e66b57"/><stop offset="0.9835" stop-color="#e87159"/><stop offset="1.0000" stop-color="#e97259"/></linearGradient><linearGradient id="b32" x1="113.5" x2="1327.5" gradientUnits="userSpaceOnUse"><stop offset="0.0000" stop-color="#e87059"/><stop offset="0.0248" stop-color="#e66b57"/><stop offset="0.1736" stop-color="#e46657"/><stop offset="0.2479" stop-color="#e16058"/><stop offset="0.3058" stop-color="#dc5459"/><stop offset="0.3636" stop-color="#dc5459"/><stop offset="0.5537" stop-color="#e76e58"/><stop offset="0.6033" stop-color="#eb795b"/><stop offset="0.6529" stop-color="#ea775a"/><stop offset="0.6777" stop-color="#ed805e"/><stop offset="0.7107" stop-color="#f08f66"/><stop offset="0.7603" stop-color="#f19369"/><stop offset="0.8760" stop-color="#ee8661"/><stop offset="0.9339" stop-color="#e87059"/><stop offset="0.9587" stop-color="#e87259"/><stop offset="1.0000" stop-color="#ea765a"/></linearGradient><linearGradient id="b33" x1="113.5" x2="1327.5" gradientUnits="userSpaceOnUse"><stop offset="0.0000" stop-color="#e97359"/><stop offset="0.0331" stop-color="#e76d58"/><stop offset="0.1570" stop-color="#e66a57"/><stop offset="0.2479" stop-color="#e36257"/><stop offset="0.3140" stop-color="#de5958"/><stop offset="0.3719" stop-color="#df5a58"/><stop offset="0.5620" stop-color="#e87059"/><stop offset="0.6033" stop-color="#eb7a5b"/><stop offset="0.6529" stop-color="#ea775a"/><stop offset="0.6777" stop-color="#ec7f5d"/><stop offset="0.7107" stop-color="#f08e66"/><stop offset="0.7603" stop-color="#f19369"/><stop offset="0.8760" stop-color="#ee8963"/><stop offset="0.9339" stop-color="#e9755a"/><stop offset="0.9669" stop-color="#ea785b"/><stop offset="1.0000" stop-color="#eb7a5b"/></linearGradient><linearGradient id="b34" x1="113.5" x2="1327.5" gradientUnits="userSpaceOnUse"><stop offset="0.0000" stop-color="#ea775a"/><stop offset="0.0331" stop-color="#e87159"/><stop offset="0.1570" stop-color="#e76d58"/><stop offset="0.2727" stop-color="#e26158"/><stop offset="0.3554" stop-color="#e05d58"/><stop offset="0.4959" stop-color="#e66b57"/><stop offset="0.5702" stop-color="#e97359"/><stop offset="0.6033" stop-color="#eb7a5b"/><stop offset="0.6529" stop-color="#ea775a"/><stop offset="0.6777" stop-color="#ec7f5d"/><stop offset="0.7107" stop-color="#ef8d65"/><stop offset="0.7603" stop-color="#f19469"/><stop offset="0.8678" stop-color="#ef8d65"/><stop offset="0.9091" stop-color="#ed825f"/><stop offset="0.9339" stop-color="#eb7a5b"/><stop offset="1.0000" stop-color="#ec7e5c"/></linearGradient><linearGradient id="b35" x1="113.5" x2="1327.5" gradientUnits="userSpaceOnUse"><stop offset="0.0000" stop-color="#eb7b5c"/><stop offset="0.0331" stop-color="#ea765a"/><stop offset="0.1570" stop-color="#e87159"/><stop offset="0.3223" stop-color="#e26258"/><stop offset="0.4298" stop-color="#e46557"/><stop offset="0.5702" stop-color="#e97359"/><stop offset="0.6033" stop-color="#eb7b5b"/><stop offset="0.6529" stop-color="#ea775a"/><stop offset="0.6777" stop-color="#ec7e5d"/><stop offset="0.7190" stop-color="#f08e66"/><stop offset="0.7686" stop-color="#f1956a"/><stop offset="0.8595" stop-color="#f09168"/><stop offset="0.9008" stop-color="#ee8963"/><stop offset="0.9339" stop-color="#ec7e5d"/><stop offset="1.0000" stop-color="#ed825f"/></linearGradient><linearGradient id="b36" x1="113.5" x2="1327.5" gradientUnits="userSpaceOnUse"><stop offset="0.0000" stop-color="#ed805e"/><stop offset="0.0331" stop-color="#eb7b5b"/><stop offset="0.1653" stop-color="#ea755a"/><stop offset="0.3140" stop-color="#e56757"/><stop offset="0.4380" stop-color="#e56957"/><stop offset="0.5702" stop-color="#e9745a"/><stop offset="0.6033" stop-color="#eb7b5c"/><stop offset="0.6529" stop-color="#ea775a"/><stop offset="0.6860" stop-color="#ed815e"/><stop offset="0.7273" stop-color="#f09067"/><stop offset="0.7851" stop-color="#f1976b"/><stop offset="0.8678" stop-color="#f19369"/><stop offset="0.9174" stop-color="#ee8862"/><stop offset="0.9421" stop-color="#ed8360"/><stop offset="1.0000" stop-color="#ee8762"/></linearGradient><linearGradient id="b37" x1="113.5" x2="1327.5" gradientUnits="userSpaceOnUse"><stop offset="0.0000" stop-color="#ee8762"/><stop offset="0.0413" stop-color="#ed815e"/><stop offset="0.1818" stop-color="#eb795b"/><stop offset="0.3140" stop-color="#e76d58"/><stop offset="0.4545" stop-color="#e76c58"/><stop offset="0.5702" stop-color="#e9745a"/><stop offset="0.6033" stop-color="#ec7c5c"/><stop offset="0.6529" stop-color="#ea775a"/><stop offset="0.6860" stop-color="#ed805e"/><stop offset="0.7273" stop-color="#f09067"/><stop offset="0.7851" stop-color="#f2996c"/><stop offset="0.8678" stop-color="#f1966a"/><stop offset="0.9421" stop-color="#ee8963"/><stop offset="1.0000" stop-color="#ef8b64"/></linearGradient><linearGradient id="b38" x1="113.5" x2="1327.5" gradientUnits="userSpaceOnUse"><stop offset="0.0000" stop-color="#ef8d65"/><stop offset="0.0579" stop-color="#ee8862"/><stop offset="0.1901" stop-color="#ec7e5c"/><stop offset="0.3140" stop-color="#e9745a"/><stop offset="0.4628" stop-color="#e86f58"/><stop offset="0.5702" stop-color="#ea755a"/><stop offset="0.6033" stop-color="#ec7c5c"/><stop offset="0.6529" stop-color="#ea775a"/><stop offset="0.6860" stop-color="#ed805e"/><stop offset="0.7355" stop-color="#f19369"/><stop offset="0.7851" stop-color="#f29b6e"/><stop offset="0.8678" stop-color="#f2996c"/><stop offset="0.9421" stop-color="#ef8e66"/><stop offset="1.0000" stop-color="#f08f67"/></linearGradient><linearGradient id="b39" x1="113.5" x2="1327.5" gradientUnits="userSpaceOnUse"><stop offset="0.0000" stop-color="#f19469"/><stop offset="0.2066" stop-color="#ed835f"/><stop offset="0.3058" stop-color="#eb7b5b"/><stop offset="0.4711" stop-color="#e87259"/><stop offset="0.5702" stop-color="#ea765a"/><stop offset="0.6033" stop-color="#ec7c5c"/><stop offset="0.6529" stop-color="#ea765a"/><stop offset="0.6860" stop-color="#ec7f5d"/><stop offset="0.7355" stop-color="#f19469"/><stop offset="0.7851" stop-color="#f29e6f"/><stop offset="0.8760" stop-color="#f29b6e"/><stop offset="0.9504" stop-color="#f09268"/><stop offset="1.0000" stop-color="#f19369"/></linearGradient><linearGradient id="b40" x1="113.5" x2="1327.5" gradientUnits="userSpaceOnUse"><stop offset="0.0000" stop-color="#f29b6d"/><stop offset="0.3058" stop-color="#ed825f"/><stop offset="0.4711" stop-color="#e9745a"/><stop offset="0.5702" stop-color="#ea775a"/><stop offset="0.6033" stop-color="#eb7b5c"/><stop offset="0.6529" stop-color="#ea755a"/><stop offset="0.6860" stop-color="#ec7e5d"/><stop offset="0.7438" stop-color="#f1976b"/><stop offset="0.7851" stop-color="#f3a070"/><stop offset="0.8760" stop-color="#f39e6f"/><stop offset="0.9504" stop-color="#f1966b"/><stop offset="1.0000" stop-color="#f1966b"/></linearGradient><linearGradient id="b41" x1="113.5" x2="1327.5" gradientUnits="userSpaceOnUse"><stop offset="0.0000" stop-color="#f3a272"/><stop offset="0.2975" stop-color="#ef8a63"/><stop offset="0.3471" stop-color="#ee8762"/><stop offset="0.4628" stop-color="#ea775a"/><stop offset="0.5702" stop-color="#eb785b"/><stop offset="0.6116" stop-color="#eb7a5b"/><stop offset="0.6446" stop-color="#e9755a"/><stop offset="0.6777" stop-color="#eb7a5b"/><stop offset="0.7521" stop-color="#f29b6e"/><stop offset="0.7851" stop-color="#f3a372"/><stop offset="0.8760" stop-color="#f3a171"/><stop offset="0.9587" stop-color="#f29a6d"/><stop offset="1.0000" stop-color="#f2996c"/></linearGradient><linearGradient id="b42" x1="113.5" x2="1327.5" gradientUnits="userSpaceOnUse"><stop offset="0.0000" stop-color="#f4a976"/><stop offset="0.0579" stop-color="#f4a573"/><stop offset="0.1653" stop-color="#f2996c"/><stop offset="0.3058" stop-color="#f09167"/><stop offset="0.3719" stop-color="#ef8a63"/><stop offset="0.4628" stop-color="#eb795b"/><stop offset="0.5620" stop-color="#eb795b"/><stop offset="0.6116" stop-color="#eb795b"/><stop offset="0.6446" stop-color="#e9745a"/><stop offset="0.6777" stop-color="#eb7a5b"/><stop offset="0.7521" stop-color="#f29d6f"/><stop offset="0.7769" stop-color="#f4a473"/><stop offset="0.8760" stop-color="#f3a473"/><stop offset="0.9587" stop-color="#f29d6f"/><stop offset="1.0000" stop-color="#f29c6e"/></linearGradient><linearGradient id="b43" x1="113.5" x2="1327.5" gradientUnits="userSpaceOnUse"><stop offset="0.0000" stop-color="#f5af79"/><stop offset="0.0496" stop-color="#f5ac78"/><stop offset="0.1653" stop-color="#f29d6f"/><stop offset="0.2231" stop-color="#f2996d"/><stop offset="0.3471" stop-color="#f19469"/><stop offset="0.4711" stop-color="#eb7b5b"/><stop offset="0.5620" stop-color="#eb7a5b"/><stop offset="0.6116" stop-color="#ea785b"/><stop offset="0.6446" stop-color="#e97359"/><stop offset="0.6777" stop-color="#eb795b"/><stop offset="0.7190" stop-color="#f08e66"/><stop offset="0.7686" stop-color="#f4a573"/><stop offset="0.8182" stop-color="#f4a875"/><stop offset="0.8843" stop-color="#f4a674"/><stop offset="0.9669" stop-color="#f3a070"/><stop offset="1.0000" stop-color="#f29e6f"/></linearGradient><linearGradient id="b44" x1="113.5" x2="1327.5" gradientUnits="userSpaceOnUse"><stop offset="0.0000" stop-color="#f6b47d"/><stop offset="0.0331" stop-color="#f6b47d"/><stop offset="0.1322" stop-color="#f4a674"/><stop offset="0.1570" stop-color="#f3a171"/><stop offset="0.2066" stop-color="#f3a070"/><stop offset="0.2562" stop-color="#f29c6e"/><stop offset="0.3388" stop-color="#f29a6d"/><stop offset="0.4215" stop-color="#ee8963"/><stop offset="0.4793" stop-color="#ec7c5c"/><stop offset="0.5950" stop-color="#eb7a5b"/><stop offset="0.6446" stop-color="#e97259"/><stop offset="0.6777" stop-color="#eb795b"/><stop offset="0.7107" stop-color="#ef8963"/><stop offset="0.7603" stop-color="#f3a372"/><stop offset="0.7851" stop-color="#f4a976"/><stop offset="0.8760" stop-color="#f4a976"/><stop offset="0.9587" stop-color="#f3a272"/><stop offset="1.0000" stop-color="#f3a070"/></linearGradient><linearGradient id="b45" x1="113.5" x2="1327.5" gradientUnits="userSpaceOnUse"><stop offset="0.0000" stop-color="#f6b880"/><stop offset="0.0331" stop-color="#f6b880"/><stop offset="0.1322" stop-color="#f5aa76"/><stop offset="0.1570" stop-color="#f4a573"/><stop offset="0.1983" stop-color="#f4a573"/><stop offset="0.2479" stop-color="#f39f70"/><stop offset="0.3388" stop-color="#f39f70"/><stop offset="0.4215" stop-color="#ef8d65"/><stop offset="0.4793" stop-color="#ec7e5c"/><stop offset="0.5537" stop-color="#ec7c5c"/><stop offset="0.6033" stop-color="#ea785b"/><stop offset="0.6446" stop-color="#e87259"/><stop offset="0.6777" stop-color="#eb785b"/><stop offset="0.7107" stop-color="#ee8963"/><stop offset="0.7603" stop-color="#f4a573"/><stop offset="0.7851" stop-color="#f5ab77"/><stop offset="0.8678" stop-color="#f5ac78"/><stop offset="0.9504" stop-color="#f4a573"/><stop offset="1.0000" stop-color="#f3a271"/></linearGradient><linearGradient id="b46" x1="113.5" x2="1327.5" gradientUnits="userSpaceOnUse"><stop offset="0.0000" stop-color="#f7bb83"/><stop offset="0.0331" stop-color="#f7bc83"/><stop offset="0.1405" stop-color="#f5ac77"/><stop offset="0.1570" stop-color="#f4a875"/><stop offset="0.1983" stop-color="#f4a875"/><stop offset="0.2397" stop-color="#f3a171"/><stop offset="0.3306" stop-color="#f3a372"/><stop offset="0.3884" stop-color="#f2996c"/><stop offset="0.4876" stop-color="#ec7f5d"/><stop offset="0.5868" stop-color="#eb7a5b"/><stop offset="0.6364" stop-color="#e87159"/><stop offset="0.6694" stop-color="#ea755a"/><stop offset="0.7025" stop-color="#ed8460"/><stop offset="0.7603" stop-color="#f4a674"/><stop offset="0.7851" stop-color="#f5ad78"/><stop offset="0.8760" stop-color="#f5ad78"/><stop offset="0.9504" stop-color="#f4a674"/><stop offset="1.0000" stop-color="#f3a372"/></linearGradient><linearGradient id="b47" x1="113.5" x2="1327.5" gradientUnits="userSpaceOnUse"><stop offset="0.0000" stop-color="#f7be84"/><stop offset="0.0331" stop-color="#f7bf86"/><stop offset="0.1405" stop-color="#f5af79"/><stop offset="0.1653" stop-color="#f5ac78"/><stop offset="0.1983" stop-color="#f5aa77"/><stop offset="0.2397" stop-color="#f3a372"/><stop offset="0.3223" stop-color="#f4a674"/><stop offset="0.3719" stop-color="#f3a070"/><stop offset="0.4463" stop-color="#ef8c65"/><stop offset="0.4959" stop-color="#ed7f5d"/><stop offset="0.5785" stop-color="#ec7c5c"/><stop offset="0.6364" stop-color="#e87059"/><stop offset="0.6694" stop-color="#ea755a"/><stop offset="0.7025" stop-color="#ed8460"/><stop offset="0.7603" stop-color="#f4a774"/><stop offset="0.7851" stop-color="#f5ae79"/><stop offset="0.8760" stop-color="#f5af79"/><stop offset="0.9587" stop-color="#f4a875"/><stop offset="1.0000" stop-color="#f4a573"/></linearGradient><linearGradient id="b48" x1="113.5" x2="1327.5" gradientUnits="userSpaceOnUse"><stop offset="0.0000" stop-color="#f7c086"/><stop offset="0.0331" stop-color="#f7c288"/><stop offset="0.1405" stop-color="#f6b27c"/><stop offset="0.1983" stop-color="#f5ad78"/><stop offset="0.2397" stop-color="#f3a473"/><stop offset="0.3223" stop-color="#f4a976"/><stop offset="0.3719" stop-color="#f3a272"/><stop offset="0.4463" stop-color="#f08e66"/><stop offset="0.4959" stop-color="#ed815e"/><stop offset="0.5785" stop-color="#ec7c5c"/><stop offset="0.6364" stop-color="#e87059"/><stop offset="0.6694" stop-color="#ea755a"/><stop offset="0.7025" stop-color="#ed8460"/><stop offset="0.7603" stop-color="#f4a875"/><stop offset="0.7851" stop-color="#f5af79"/><stop offset="0.8678" stop-color="#f5b17b"/><stop offset="0.9587" stop-color="#f4a976"/><stop offset="1.0000" stop-color="#f4a674"/></linearGradient><linearGradient id="b49" x1="113.5" x2="1327.5" gradientUnits="userSpaceOnUse"><stop offset="0.0000" stop-color="#f7c187"/><stop offset="0.0331" stop-color="#f8c48a"/><stop offset="0.1653" stop-color="#f6b27c"/><stop offset="0.2066" stop-color="#f5ac78"/><stop offset="0.2397" stop-color="#f4a473"/><stop offset="0.3140" stop-color="#f5ab77"/><stop offset="0.3636" stop-color="#f4a674"/><stop offset="0.4463" stop-color="#f09168"/><stop offset="0.4959" stop-color="#ed835f"/><stop offset="0.5785" stop-color="#ec7d5c"/><stop offset="0.6281" stop-color="#e87059"/><stop offset="0.6529" stop-color="#e87159"/><stop offset="0.6860" stop-color="#ec7c5c"/><stop offset="0.7273" stop-color="#f19369"/><stop offset="0.7603" stop-color="#f4a875"/><stop offset="0.7851" stop-color="#f5b07a"/><stop offset="0.8678" stop-color="#f5b27b"/><stop offset="0.9587" stop-color="#f4aa76"/><stop offset="1.0000" stop-color="#f4a775"/></linearGradient><linearGradient id="b50" x1="113.5" x2="1327.5" gradientUnits="userSpaceOnUse"><stop offset="0.0000" stop-color="#f7c288"/><stop offset="0.0331" stop-color="#f8c58b"/><stop offset="0.1983" stop-color="#f5b07a"/><stop offset="0.2397" stop-color="#f4a573"/><stop offset="0.3140" stop-color="#f5ac77"/><stop offset="0.3636" stop-color="#f4a875"/><stop offset="0.4463" stop-color="#f19369"/><stop offset="0.4959" stop-color="#ee8460"/><stop offset="0.5785" stop-color="#ec7d5c"/><stop offset="0.6281" stop-color="#e87059"/><stop offset="0.6612" stop-color="#e9745a"/><stop offset="0.6942" stop-color="#ed815e"/><stop offset="0.7355" stop-color="#f29a6d"/><stop offset="0.7686" stop-color="#f5ad78"/><stop offset="0.8099" stop-color="#f6b27c"/><stop offset="0.8760" stop-color="#f6b27c"/><stop offset="0.9669" stop-color="#f5ab77"/><stop offset="1.0000" stop-color="#f4a875"/></linearGradient><linearGradient id="b51" x1="113.5" x2="1327.5" gradientUnits="userSpaceOnUse"><stop offset="0.0000" stop-color="#f7c288"/><stop offset="0.0331" stop-color="#f8c68b"/><stop offset="0.1818" stop-color="#f6b47d"/><stop offset="0.2397" stop-color="#f4a674"/><stop offset="0.3140" stop-color="#f5ac78"/><stop offset="0.3636" stop-color="#f4a976"/><stop offset="0.4463" stop-color="#f1956a"/><stop offset="0.4959" stop-color="#ee8661"/><stop offset="0.5785" stop-color="#ec7e5d"/><stop offset="0.6281" stop-color="#e87159"/><stop offset="0.6612" stop-color="#e9755a"/><stop offset="0.6942" stop-color="#ed825f"/><stop offset="0.7603" stop-color="#f4aa76"/><stop offset="0.7934" stop-color="#f6b27c"/><stop offset="0.8678" stop-color="#f6b37d"/><stop offset="0.9587" stop-color="#f5ac77"/><stop offset="1.0000" stop-color="#f4a976"/></linearGradient><linearGradient id="b52" x1="113.5" x2="1327.5" gradientUnits="userSpaceOnUse"><stop offset="0.0000" stop-color="#f7c288"/><stop offset="0.0331" stop-color="#f8c58b"/><stop offset="0.1653" stop-color="#f6b981"/><stop offset="0.2397" stop-color="#f4a674"/><stop offset="0.3140" stop-color="#f5ad78"/><stop offset="0.3636" stop-color="#f4aa76"/><stop offset="0.4463" stop-color="#f1976b"/><stop offset="0.4959" stop-color="#ee8762"/><stop offset="0.5785" stop-color="#ec7f5d"/><stop offset="0.6281" stop-color="#e97259"/><stop offset="0.6612" stop-color="#ea765a"/><stop offset="0.6942" stop-color="#ed8360"/><stop offset="0.7603" stop-color="#f5aa77"/><stop offset="0.7934" stop-color="#f6b37c"/><stop offset="0.8678" stop-color="#f6b47d"/><stop offset="0.9587" stop-color="#f5ac78"/><stop offset="1.0000" stop-color="#f4aa76"/></linearGradient><linearGradient id="b53" x1="113.5" x2="1327.5" gradientUnits="userSpaceOnUse"><stop offset="0.0000" stop-color="#f7c187"/><stop offset="0.0331" stop-color="#f8c48a"/><stop offset="0.1570" stop-color="#f7bc83"/><stop offset="0.2397" stop-color="#f4a775"/><stop offset="0.3223" stop-color="#f5ad78"/><stop offset="0.3719" stop-color="#f4a976"/><stop offset="0.4463" stop-color="#f2996c"/><stop offset="0.4959" stop-color="#ee8963"/><stop offset="0.5785" stop-color="#ed805e"/><stop offset="0.6281" stop-color="#e9745a"/><stop offset="0.6612" stop-color="#ea785b"/><stop offset="0.6860" stop-color="#ed815e"/><stop offset="0.7603" stop-color="#f5ab77"/><stop offset="0.7934" stop-color="#f6b37d"/><stop offset="0.8678" stop-color="#f6b57e"/><stop offset="0.9669" stop-color="#f5ac78"/><stop offset="1.0000" stop-color="#f5aa76"/></linearGradient><linearGradient id="b54" x1="113.5" x2="1327.5" gradientUnits="userSpaceOnUse"><stop offset="0.0000" stop-color="#f7c086"/><stop offset="0.0331" stop-color="#f7c388"/><stop offset="0.1322" stop-color="#f7bf85"/><stop offset="0.1736" stop-color="#f6b981"/><stop offset="0.2397" stop-color="#f4a875"/><stop offset="0.3306" stop-color="#f5ac78"/><stop offset="0.3802" stop-color="#f4a875"/><stop offset="0.4463" stop-color="#f29b6d"/><stop offset="0.4959" stop-color="#ef8a64"/><stop offset="0.5785" stop-color="#ed825f"/><stop offset="0.6281" stop-color="#ea765a"/><stop offset="0.6612" stop-color="#eb7a5b"/><stop offset="0.6942" stop-color="#ee8862"/><stop offset="0.7603" stop-color="#f5ac77"/><stop offset="0.8017" stop-color="#f6b47e"/><stop offset="0.8678" stop-color="#f6b57e"/><stop offset="0.9669" stop-color="#f5ad78"/><stop offset="1.0000" stop-color="#f5ab77"/></linearGradient><linearGradient id="b55" x1="113.5" x2="1327.5" gradientUnits="userSpaceOnUse"><stop offset="0.0000" stop-color="#f7be85"/><stop offset="0.0331" stop-color="#f7c086"/><stop offset="0.1157" stop-color="#f7c187"/><stop offset="0.1736" stop-color="#f6b981"/><stop offset="0.2397" stop-color="#f4a875"/><stop offset="0.3471" stop-color="#f5ac77"/><stop offset="0.4380" stop-color="#f39f70"/><stop offset="0.4959" stop-color="#ef8c65"/><stop offset="0.5868" stop-color="#ed825f"/><stop offset="0.6281" stop-color="#eb795b"/><stop offset="0.6612" stop-color="#ec7d5c"/><stop offset="0.7107" stop-color="#f09268"/><stop offset="0.7603" stop-color="#f5ad78"/><stop offset="0.8017" stop-color="#f6b57e"/><stop offset="0.8678" stop-color="#f6b57e"/><stop offset="0.9669" stop-color="#f5ad78"/><stop offset="1.0000" stop-color="#f5ab77"/></linearGradient><linearGradient id="b56" x1="113.5" x2="1327.5" gradientUnits="userSpaceOnUse"><stop offset="0.0000" stop-color="#f7bc83"/><stop offset="0.1074" stop-color="#f7c187"/><stop offset="0.1736" stop-color="#f6b880"/><stop offset="0.2397" stop-color="#f4a975"/><stop offset="0.3636" stop-color="#f5ab77"/><stop offset="0.4380" stop-color="#f3a171"/><stop offset="0.4959" stop-color="#ef8d65"/><stop offset="0.5868" stop-color="#ed8460"/><stop offset="0.6281" stop-color="#ec7c5c"/><stop offset="0.6612" stop-color="#ed815e"/><stop offset="0.7190" stop-color="#f2996c"/><stop offset="0.7603" stop-color="#f5ae78"/><stop offset="0.8017" stop-color="#f6b67e"/><stop offset="0.8678" stop-color="#f6b67e"/><stop offset="0.9669" stop-color="#f5ad78"/><stop offset="1.0000" stop-color="#f5ac77"/></linearGradient><linearGradient id="b57" x1="113.5" x2="1327.5" gradientUnits="userSpaceOnUse"><stop offset="0.0000" stop-color="#f6b981"/><stop offset="0.1074" stop-color="#f7c086"/><stop offset="0.1818" stop-color="#f6b57e"/><stop offset="0.2397" stop-color="#f4a976"/><stop offset="0.3719" stop-color="#f4aa76"/><stop offset="0.4380" stop-color="#f3a272"/><stop offset="0.4959" stop-color="#f08f66"/><stop offset="0.6033" stop-color="#ed8360"/><stop offset="0.6364" stop-color="#ed805e"/><stop offset="0.6777" stop-color="#ef8a64"/><stop offset="0.7603" stop-color="#f5ae79"/><stop offset="0.8099" stop-color="#f6b77f"/><stop offset="0.8760" stop-color="#f6b57e"/><stop offset="0.9669" stop-color="#f5ad78"/><stop offset="1.0000" stop-color="#f5ac77"/></linearGradient><linearGradient id="b58" x1="113.5" x2="1327.5" gradientUnits="userSpaceOnUse"><stop offset="0.0000" stop-color="#f6b57e"/><stop offset="0.1074" stop-color="#f7bf85"/><stop offset="0.1983" stop-color="#f5b17b"/><stop offset="0.2479" stop-color="#f4a875"/><stop offset="0.3802" stop-color="#f4a976"/><stop offset="0.4380" stop-color="#f3a372"/><stop offset="0.4959" stop-color="#f09067"/><stop offset="0.6364" stop-color="#ee8460"/><stop offset="0.6777" stop-color="#f08e66"/><stop offset="0.7603" stop-color="#f5af7a"/><stop offset="0.8099" stop-color="#f6b77f"/><stop offset="0.8760" stop-color="#f6b67e"/><stop offset="0.9669" stop-color="#f5ad78"/><stop offset="1.0000" stop-color="#f5ac78"/></linearGradient><linearGradient id="b59" x1="113.5" x2="1327.5" gradientUnits="userSpaceOnUse"><stop offset="0.0000" stop-color="#f5b17b"/><stop offset="0.1074" stop-color="#f7bd84"/><stop offset="0.2149" stop-color="#f5ad78"/><stop offset="0.2562" stop-color="#f4a875"/><stop offset="0.3884" stop-color="#f4a875"/><stop offset="0.4463" stop-color="#f3a372"/><stop offset="0.4959" stop-color="#f09268"/><stop offset="0.6364" stop-color="#ee8963"/><stop offset="0.6777" stop-color="#f09268"/><stop offset="0.7603" stop-color="#f5b07a"/><stop offset="0.8099" stop-color="#f6b780"/><stop offset="0.8843" stop-color="#f6b57e"/><stop offset="0.9752" stop-color="#f5ad78"/><stop offset="1.0000" stop-color="#f5ad78"/></linearGradient><linearGradient id="b60" x1="113.5" x2="1327.5" gradientUnits="userSpaceOnUse"><stop offset="0.0000" stop-color="#f5ac77"/><stop offset="0.1074" stop-color="#f7bb83"/><stop offset="0.2479" stop-color="#f4a875"/><stop offset="0.3388" stop-color="#f4a875"/><stop offset="0.4380" stop-color="#f4a574"/><stop offset="0.5041" stop-color="#f19369"/><stop offset="0.6446" stop-color="#ef8e66"/><stop offset="0.7190" stop-color="#f3a372"/><stop offset="0.7686" stop-color="#f6b37c"/><stop offset="0.8264" stop-color="#f6b880"/><stop offset="0.9008" stop-color="#f6b37c"/><stop offset="0.9835" stop-color="#f5ad78"/><stop offset="1.0000" stop-color="#f5ad78"/></linearGradient><linearGradient id="b61" x1="113.5" x2="1327.5" gradientUnits="userSpaceOnUse"><stop offset="0.0000" stop-color="#f4a774"/><stop offset="0.0331" stop-color="#f5ac77"/><stop offset="0.0992" stop-color="#f6b981"/><stop offset="0.1405" stop-color="#f6b57e"/><stop offset="0.2562" stop-color="#f4a775"/><stop offset="0.3388" stop-color="#f4a775"/><stop offset="0.4380" stop-color="#f4a674"/><stop offset="0.5041" stop-color="#f1956a"/><stop offset="0.6364" stop-color="#f09168"/><stop offset="0.6777" stop-color="#f2996c"/><stop offset="0.7603" stop-color="#f6b27c"/><stop offset="0.8182" stop-color="#f6b880"/><stop offset="0.8926" stop-color="#f6b47d"/><stop offset="0.9752" stop-color="#f5ae78"/><stop offset="1.0000" stop-color="#f5ad78"/></linearGradient><linearGradient id="b62" x1="113.5" x2="1327.5" gradientUnits="userSpaceOnUse"><stop offset="0.0000" stop-color="#f3a171"/><stop offset="0.0248" stop-color="#f3a473"/><stop offset="0.0744" stop-color="#f6b37c"/><stop offset="0.1074" stop-color="#f6b77f"/><stop offset="0.1818" stop-color="#f5af79"/><stop offset="0.2562" stop-color="#f4a774"/><stop offset="0.3388" stop-color="#f4a674"/><stop offset="0.4380" stop-color="#f4a674"/><stop offset="0.5124" stop-color="#f1966a"/><stop offset="0.6529" stop-color="#f1976b"/><stop offset="0.7603" stop-color="#f6b37c"/><stop offset="0.8264" stop-color="#f6b880"/><stop offset="0.9091" stop-color="#f6b27c"/><stop offset="1.0000" stop-color="#f5ad78"/></linearGradient><linearGradient id="b63" x1="113.5" x2="1327.5" gradientUnits="userSpaceOnUse"><stop offset="0.0000" stop-color="#f29c6e"/><stop offset="0.0248" stop-color="#f39f70"/><stop offset="0.0744" stop-color="#f5b07a"/><stop offset="0.1157" stop-color="#f6b57e"/><stop offset="0.1818" stop-color="#f5ae78"/><stop offset="0.2645" stop-color="#f4a674"/><stop offset="0.3388" stop-color="#f4a574"/><stop offset="0.4380" stop-color="#f4a674"/><stop offset="0.5207" stop-color="#f1976b"/><stop offset="0.6529" stop-color="#f29a6d"/><stop offset="0.7603" stop-color="#f6b47d"/><stop offset="0.8264" stop-color="#f6b980"/><stop offset="0.9174" stop-color="#f5b27b"/><stop offset="1.0000" stop-color="#f5ae78"/></linearGradient><linearGradient id="b64" x1="113.5" x2="1327.5" gradientUnits="userSpaceOnUse"><stop offset="0.0000" stop-color="#f1986c"/><stop offset="0.0248" stop-color="#f29a6d"/><stop offset="0.0826" stop-color="#f5af7a"/><stop offset="0.1157" stop-color="#f6b37c"/><stop offset="0.2645" stop-color="#f4a573"/><stop offset="0.3388" stop-color="#f4a473"/><stop offset="0.4463" stop-color="#f4a574"/><stop offset="0.5207" stop-color="#f29a6d"/><stop offset="0.6529" stop-color="#f29e6f"/><stop offset="0.7521" stop-color="#f6b37c"/><stop offset="0.8264" stop-color="#f6b981"/><stop offset="0.9256" stop-color="#f5b17b"/><stop offset="1.0000" stop-color="#f5ae79"/></linearGradient><linearGradient id="b65" x1="113.5" x2="1327.5" gradientUnits="userSpaceOnUse"><stop offset="0.0000" stop-color="#f19469"/><stop offset="0.0248" stop-color="#f1966b"/><stop offset="0.0826" stop-color="#f5ad78"/><stop offset="0.1157" stop-color="#f5b07a"/><stop offset="0.2727" stop-color="#f3a473"/><stop offset="0.3471" stop-color="#f4a473"/><stop offset="0.4545" stop-color="#f4a473"/><stop offset="0.5289" stop-color="#f29c6e"/><stop offset="0.6612" stop-color="#f3a272"/><stop offset="0.7438" stop-color="#f6b37c"/><stop offset="0.8264" stop-color="#f6b981"/><stop offset="0.9917" stop-color="#f5ae79"/><stop offset="1.0000" stop-color="#f5ae79"/></linearGradient><linearGradient id="b66" x1="113.5" x2="1327.5" gradientUnits="userSpaceOnUse"><stop offset="0.0000" stop-color="#f09067"/><stop offset="0.0248" stop-color="#f19369"/><stop offset="0.0826" stop-color="#f4aa76"/><stop offset="0.1157" stop-color="#f5ae79"/><stop offset="0.2893" stop-color="#f3a272"/><stop offset="0.4711" stop-color="#f3a473"/><stop offset="0.5289" stop-color="#f39e6f"/><stop offset="0.6116" stop-color="#f3a272"/><stop offset="0.6612" stop-color="#f4a573"/><stop offset="0.7438" stop-color="#f6b47d"/><stop offset="0.8347" stop-color="#f6b981"/><stop offset="0.9917" stop-color="#f5ae79"/><stop offset="1.0000" stop-color="#f5ae79"/></linearGradient><linearGradient id="b67" x1="113.5" x2="1327.5" gradientUnits="userSpaceOnUse"><stop offset="0.0000" stop-color="#ef8d65"/><stop offset="0.0248" stop-color="#f09067"/><stop offset="0.0826" stop-color="#f4a774"/><stop offset="0.1157" stop-color="#f5ac77"/><stop offset="0.3140" stop-color="#f3a171"/><stop offset="0.4793" stop-color="#f4a573"/><stop offset="0.5289" stop-color="#f3a171"/><stop offset="0.5950" stop-color="#f4a573"/><stop offset="0.6612" stop-color="#f4a775"/><stop offset="0.7355" stop-color="#f6b47d"/><stop offset="0.8347" stop-color="#f6b981"/><stop offset="0.9917" stop-color="#f5ae79"/><stop offset="1.0000" stop-color="#f5ae79"/></linearGradient><linearGradient id="b68" x1="113.5" x2="1327.5" gradientUnits="userSpaceOnUse"><stop offset="0.0000" stop-color="#ef8a63"/><stop offset="0.0248" stop-color="#ef8d65"/><stop offset="0.0909" stop-color="#f4a674"/><stop offset="0.1240" stop-color="#f4a976"/><stop offset="0.3223" stop-color="#f3a071"/><stop offset="0.4876" stop-color="#f4a574"/><stop offset="0.5289" stop-color="#f3a372"/><stop offset="0.5785" stop-color="#f4a875"/><stop offset="0.6529" stop-color="#f4a975"/><stop offset="0.7355" stop-color="#f6b57e"/><stop offset="0.8430" stop-color="#f6b880"/><stop offset="0.9917" stop-color="#f5af79"/><stop offset="1.0000" stop-color="#f5af79"/></linearGradient><linearGradient id="b69" x1="113.5" x2="1327.5" gradientUnits="userSpaceOnUse"><stop offset="0.0000" stop-color="#ee8762"/><stop offset="0.0248" stop-color="#ef8b64"/><stop offset="0.0909" stop-color="#f3a372"/><stop offset="0.1322" stop-color="#f4a674"/><stop offset="0.3306" stop-color="#f3a070"/><stop offset="0.4545" stop-color="#f3a473"/><stop offset="0.4876" stop-color="#f4a774"/><stop offset="0.5289" stop-color="#f4a573"/><stop offset="0.5785" stop-color="#f5aa76"/><stop offset="0.6529" stop-color="#f5ab77"/><stop offset="0.7355" stop-color="#f6b67f"/><stop offset="0.8512" stop-color="#f6b880"/><stop offset="0.9917" stop-color="#f5af79"/><stop offset="1.0000" stop-color="#f5af79"/></linearGradient><linearGradient id="b70" x1="113.5" x2="1327.5" gradientUnits="userSpaceOnUse"><stop offset="0.0000" stop-color="#ee8560"/><stop offset="0.0248" stop-color="#ee8863"/><stop offset="0.0909" stop-color="#f3a070"/><stop offset="0.1322" stop-color="#f3a473"/><stop offset="0.3388" stop-color="#f3a070"/><stop offset="0.4545" stop-color="#f3a372"/><stop offset="0.4876" stop-color="#f4a875"/><stop offset="0.5289" stop-color="#f4a674"/><stop offset="0.5785" stop-color="#f5ad78"/><stop offset="0.6529" stop-color="#f5ad78"/><stop offset="0.7355" stop-color="#f6b77f"/><stop offset="0.8595" stop-color="#f6b780"/><stop offset="0.9917" stop-color="#f5af7a"/><stop offset="1.0000" stop-color="#f5af79"/></linearGradient><linearGradient id="b71" x1="113.5" x2="1327.5" gradientUnits="userSpaceOnUse"><stop offset="0.0000" stop-color="#ed835f"/><stop offset="0.0331" stop-color="#ee8963"/><stop offset="0.0909" stop-color="#f29d6f"/><stop offset="0.1322" stop-color="#f3a271"/><stop offset="0.3471" stop-color="#f39f70"/><stop offset="0.4463" stop-color="#f3a171"/><stop offset="0.4876" stop-color="#f4a875"/><stop offset="0.5289" stop-color="#f4a875"/><stop offset="0.5702" stop-color="#f5ae79"/><stop offset="0.6612" stop-color="#f5af79"/><stop offset="0.7355" stop-color="#f6b780"/><stop offset="0.8678" stop-color="#f6b77f"/><stop offset="1.0000" stop-color="#f5af7a"/></linearGradient><linearGradient id="b72" x1="113.5" x2="1327.5" gradientUnits="userSpaceOnUse"><stop offset="0.0000" stop-color="#ed815e"/><stop offset="0.0331" stop-color="#ee8762"/><stop offset="0.0992" stop-color="#f29c6e"/><stop offset="0.1570" stop-color="#f39f70"/><stop offset="0.3636" stop-color="#f39f70"/><stop offset="0.4463" stop-color="#f3a070"/><stop offset="0.4876" stop-color="#f4a875"/><stop offset="0.5372" stop-color="#f5aa76"/><stop offset="0.5785" stop-color="#f5af7a"/><stop offset="0.6694" stop-color="#f5b17b"/><stop offset="0.7355" stop-color="#f6b880"/><stop offset="0.8678" stop-color="#f6b77f"/><stop offset="1.0000" stop-color="#f5af7a"/></linearGradient><linearGradient id="b73" x1="113.5" x2="1327.5" gradientUnits="userSpaceOnUse"><stop offset="0.0000" stop-color="#ed7f5d"/><stop offset="0.0331" stop-color="#ee8561"/><stop offset="0.0992" stop-color="#f29a6d"/><stop offset="0.1570" stop-color="#f29e6f"/><stop offset="0.4463" stop-color="#f39e6f"/><stop offset="0.4876" stop-color="#f4a775"/><stop offset="0.5372" stop-color="#f5ab77"/><stop offset="0.5785" stop-color="#f5b07a"/><stop offset="0.6694" stop-color="#f5b27b"/><stop offset="0.7438" stop-color="#f6b880"/><stop offset="0.8760" stop-color="#f6b67f"/><stop offset="1.0000" stop-color="#f5af7a"/></linearGradient><linearGradient id="b74" x1="113.5" x2="1327.5" gradientUnits="userSpaceOnUse"><stop offset="0.0000" stop-color="#ec7e5d"/><stop offset="0.0331" stop-color="#ed8360"/><stop offset="0.0992" stop-color="#f1986b"/><stop offset="0.1653" stop-color="#f29c6e"/><stop offset="0.4463" stop-color="#f29d6f"/><stop offset="0.4959" stop-color="#f4a775"/><stop offset="0.5868" stop-color="#f5b17b"/><stop offset="0.6777" stop-color="#f6b37c"/><stop offset="0.7438" stop-color="#f6b880"/><stop offset="0.8843" stop-color="#f6b67e"/><stop offset="1.0000" stop-color="#f5b07a"/></linearGradient><linearGradient id="b75" x1="113.5" x2="1327.5" gradientUnits="userSpaceOnUse"><stop offset="0.0000" stop-color="#ec7d5c"/><stop offset="0.0413" stop-color="#ee8460"/><stop offset="0.1074" stop-color="#f1976b"/><stop offset="0.2149" stop-color="#f29b6e"/><stop offset="0.4215" stop-color="#f29a6d"/><stop offset="0.4463" stop-color="#f29b6e"/><stop offset="0.4959" stop-color="#f4a674"/><stop offset="0.5785" stop-color="#f5b17b"/><stop offset="0.6860" stop-color="#f6b47d"/><stop offset="0.7603" stop-color="#f6b880"/><stop offset="0.8926" stop-color="#f6b57e"/><stop offset="1.0000" stop-color="#f5b07a"/></linearGradient><linearGradient id="b76" x1="113.5" x2="1327.5" gradientUnits="userSpaceOnUse"><stop offset="0.0000" stop-color="#ec7c5c"/><stop offset="0.0413" stop-color="#ed835f"/><stop offset="0.1074" stop-color="#f1946a"/><stop offset="0.2149" stop-color="#f29a6d"/><stop offset="0.4132" stop-color="#f29a6d"/><stop offset="0.4463" stop-color="#f29a6d"/><stop offset="0.4959" stop-color="#f4a674"/><stop offset="0.5785" stop-color="#f5b27b"/><stop offset="0.6942" stop-color="#f6b57e"/><stop offset="0.8017" stop-color="#f6b880"/><stop offset="1.0000" stop-color="#f5b07a"/></linearGradient><linearGradient id="b77" x1="113.5" x2="1327.5" gradientUnits="userSpaceOnUse"><stop offset="0.0000" stop-color="#eb7b5c"/><stop offset="0.0413" stop-color="#ed815e"/><stop offset="0.1074" stop-color="#f09268"/><stop offset="0.2066" stop-color="#f2996c"/><stop offset="0.4050" stop-color="#f2996c"/><stop offset="0.4463" stop-color="#f2996c"/><stop offset="0.5041" stop-color="#f4a674"/><stop offset="0.5785" stop-color="#f6b27c"/><stop offset="0.8017" stop-color="#f6b880"/><stop offset="1.0000" stop-color="#f5b07a"/></linearGradient><linearGradient id="b78" x1="113.5" x2="1327.5" gradientUnits="userSpaceOnUse"><stop offset="0.0000" stop-color="#eb7a5b"/><stop offset="0.0413" stop-color="#ed805e"/><stop offset="0.1157" stop-color="#f09268"/><stop offset="0.2397" stop-color="#f2986c"/><stop offset="0.4050" stop-color="#f2986c"/><stop offset="0.4463" stop-color="#f2986c"/><stop offset="0.5702" stop-color="#f5b17b"/><stop offset="0.8017" stop-color="#f6b880"/><stop offset="1.0000" stop-color="#f5b07a"/></linearGradient><linearGradient id="b79" x1="113.5" x2="1327.5" gradientUnits="userSpaceOnUse"><stop offset="0.0000" stop-color="#eb795b"/><stop offset="0.0496" stop-color="#ed805e"/><stop offset="0.1240" stop-color="#f09168"/><stop offset="0.2562" stop-color="#f1976b"/><stop offset="0.4132" stop-color="#f1976b"/><stop offset="0.4463" stop-color="#f1976b"/><stop offset="0.5785" stop-color="#f5b27b"/><stop offset="0.8182" stop-color="#f6b780"/><stop offset="1.0000" stop-color="#f5b07b"/></linearGradient><linearGradient id="b80" x1="113.5" x2="1327.5" gradientUnits="userSpaceOnUse"><stop offset="0.0000" stop-color="#eb785b"/><stop offset="0.0496" stop-color="#ec7f5d"/><stop offset="0.1240" stop-color="#f08f66"/><stop offset="0.2562" stop-color="#f1966b"/><stop offset="0.4132" stop-color="#f1976b"/><stop offset="0.4545" stop-color="#f2986c"/><stop offset="0.5785" stop-color="#f5b17b"/><stop offset="0.8264" stop-color="#f6b780"/><stop offset="1.0000" stop-color="#f5b17b"/></linearGradient><linearGradient id="b81" x1="113.5" x2="1327.5" gradientUnits="userSpaceOnUse"><stop offset="0.0000" stop-color="#ea775b"/><stop offset="0.0579" stop-color="#ed7f5d"/><stop offset="0.1322" stop-color="#f08e66"/><stop offset="0.2727" stop-color="#f1966a"/><stop offset="0.4132" stop-color="#f1966b"/><stop offset="0.4545" stop-color="#f1986c"/><stop offset="0.5785" stop-color="#f5b17b"/><stop offset="0.8347" stop-color="#f6b77f"/><stop offset="1.0000" stop-color="#f5b17b"/></linearGradient><linearGradient id="b82" x1="113.5" x2="1327.5" gradientUnits="userSpaceOnUse"><stop offset="0.0000" stop-color="#ea775a"/><stop offset="0.0579" stop-color="#ec7e5d"/><stop offset="0.1322" stop-color="#ef8d65"/><stop offset="0.2645" stop-color="#f1956a"/><stop offset="0.4215" stop-color="#f1956a"/><stop offset="0.4711" stop-color="#f29a6d"/><stop offset="0.5785" stop-color="#f5b07a"/><stop offset="0.7934" stop-color="#f6b77f"/><stop offset="1.0000" stop-color="#f5b17b"/></linearGradient><linearGradient id="b83" x1="113.5" x2="1327.5" gradientUnits="userSpaceOnUse"><stop offset="0.0000" stop-color="#ea765a"/><stop offset="0.0661" stop-color="#ec7f5d"/><stop offset="0.1488" stop-color="#ef8d65"/><stop offset="0.3058" stop-color="#f1956a"/><stop offset="0.4545" stop-color="#f1966b"/><stop offset="0.5289" stop-color="#f4a573"/><stop offset="0.5785" stop-color="#f5b07a"/><stop offset="0.6942" stop-color="#f6b47d"/><stop offset="0.8678" stop-color="#f6b67e"/><stop offset="1.0000" stop-color="#f5b17b"/></linearGradient><linearGradient id="b84" x1="113.5" x2="1327.5" gradientUnits="userSpaceOnUse"><stop offset="0.0000" stop-color="#e9755a"/><stop offset="0.0744" stop-color="#ec7f5d"/><stop offset="0.1570" stop-color="#ef8c65"/><stop offset="0.3306" stop-color="#f1956a"/><stop offset="0.4628" stop-color="#f1976b"/><stop offset="0.5289" stop-color="#f3a372"/><stop offset="0.5785" stop-color="#f5af7a"/><stop offset="0.6777" stop-color="#f6b47d"/><stop offset="0.8760" stop-color="#f6b57e"/><stop offset="1.0000" stop-color="#f5b17b"/></linearGradient><linearGradient id="b85" x1="113.5" x2="1327.5" gradientUnits="userSpaceOnUse"><stop offset="0.0000" stop-color="#e9745a"/><stop offset="0.0744" stop-color="#ec7e5c"/><stop offset="0.1653" stop-color="#ef8c65"/><stop offset="0.3471" stop-color="#f1956a"/><stop offset="0.4628" stop-color="#f1966b"/><stop offset="0.5207" stop-color="#f3a070"/><stop offset="0.5785" stop-color="#f5af79"/><stop offset="0.6694" stop-color="#f6b47d"/><stop offset="0.8760" stop-color="#f6b57e"/><stop offset="1.0000" stop-color="#f5b17b"/></linearGradient><linearGradient id="b86" x1="113.5" x2="1327.5" gradientUnits="userSpaceOnUse"><stop offset="0.0000" stop-color="#e97359"/><stop offset="0.0826" stop-color="#ec7e5d"/><stop offset="0.1736" stop-color="#ef8b64"/><stop offset="0.3636" stop-color="#f1946a"/><stop offset="0.4793" stop-color="#f1976b"/><stop offset="0.5289" stop-color="#f3a171"/><stop offset="0.5868" stop-color="#f5af7a"/><stop offset="0.6860" stop-color="#f6b37d"/><stop offset="0.8843" stop-color="#f6b57e"/><stop offset="1.0000" stop-color="#f5b27b"/></linearGradient><linearGradient id="b87" x1="113.5" x2="1327.5" gradientUnits="userSpaceOnUse"><stop offset="0.0000" stop-color="#e97359"/><stop offset="0.0909" stop-color="#ec7e5d"/><stop offset="0.1901" stop-color="#ef8b64"/><stop offset="0.3967" stop-color="#f1946a"/><stop offset="0.4876" stop-color="#f1976b"/><stop offset="0.5289" stop-color="#f3a070"/><stop offset="0.5868" stop-color="#f5ae79"/><stop offset="0.6777" stop-color="#f6b37d"/><stop offset="0.8843" stop-color="#f6b57e"/><stop offset="1.0000" stop-color="#f5b27b"/></linearGradient><linearGradient id="b88" x1="113.5" x2="1327.5" gradientUnits="userSpaceOnUse"><stop offset="0.0000" stop-color="#e87259"/><stop offset="0.0992" stop-color="#ec7e5d"/><stop offset="0.2066" stop-color="#ef8c65"/><stop offset="0.4215" stop-color="#f1946a"/><stop offset="0.5041" stop-color="#f2986c"/><stop offset="0.5868" stop-color="#f5ae79"/><stop offset="0.6777" stop-color="#f6b37c"/><stop offset="0.8926" stop-color="#f6b47d"/><stop offset="1.0000" stop-color="#f6b27c"/></linearGradient><linearGradient id="b89" x1="113.5" x2="1327.5" gradientUnits="userSpaceOnUse"><stop offset="0.0000" stop-color="#e87159"/><stop offset="0.1074" stop-color="#ec7e5d"/><stop offset="0.2231" stop-color="#ef8c65"/><stop offset="0.4463" stop-color="#f1956a"/><stop offset="0.5124" stop-color="#f2996c"/><stop offset="0.5868" stop-color="#f5ad78"/><stop offset="0.6694" stop-color="#f6b27c"/><stop offset="0.8926" stop-color="#f6b47d"/><stop offset="1.0000" stop-color="#f6b27c"/></linearGradient><linearGradient id="b90" x1="113.5" x2="1327.5" gradientUnits="userSpaceOnUse"><stop offset="0.0000" stop-color="#e87059"/><stop offset="0.1240" stop-color="#ed805e"/><stop offset="0.2562" stop-color="#ef8d65"/><stop offset="0.5124" stop-color="#f2986c"/><stop offset="0.5950" stop-color="#f5ae78"/><stop offset="0.6860" stop-color="#f6b27c"/><stop offset="0.9008" stop-color="#f6b47d"/><stop offset="1.0000" stop-color="#f6b27c"/></linearGradient><linearGradient id="b91" x1="113.5" x2="1327.5" gradientUnits="userSpaceOnUse"><stop offset="0.0000" stop-color="#e87059"/><stop offset="0.1322" stop-color="#ed805e"/><stop offset="0.2727" stop-color="#ef8d65"/><stop offset="0.5124" stop-color="#f1976b"/><stop offset="0.5950" stop-color="#f5ad78"/><stop offset="0.6860" stop-color="#f5b27b"/><stop offset="0.9008" stop-color="#f6b47d"/><stop offset="1.0000" stop-color="#f6b27c"/></linearGradient><linearGradient id="b92" x1="113.5" x2="1327.5" gradientUnits="userSpaceOnUse"><stop offset="0.0000" stop-color="#e86f58"/><stop offset="0.1653" stop-color="#ed8360"/><stop offset="0.3471" stop-color="#f09167"/><stop offset="0.5124" stop-color="#f1976b"/><stop offset="0.5950" stop-color="#f5ac77"/><stop offset="0.6777" stop-color="#f5b17b"/><stop offset="0.9091" stop-color="#f6b47d"/><stop offset="1.0000" stop-color="#f6b27c"/></linearGradient><linearGradient id="b93" x1="113.5" x2="1327.5" gradientUnits="userSpaceOnUse"><stop offset="0.0000" stop-color="#e76e58"/><stop offset="0.1736" stop-color="#ed835f"/><stop offset="0.3719" stop-color="#f09168"/><stop offset="0.5124" stop-color="#f1966b"/><stop offset="0.6033" stop-color="#f5ad78"/><stop offset="0.6942" stop-color="#f5b17b"/><stop offset="0.9091" stop-color="#f6b47d"/><stop offset="1.0000" stop-color="#f6b27c"/></linearGradient><linearGradient id="b94" x1="113.5" x2="1327.5" gradientUnits="userSpaceOnUse"><stop offset="0.0000" stop-color="#e76e58"/><stop offset="0.1818" stop-color="#ed835f"/><stop offset="0.4050" stop-color="#f19369"/><stop offset="0.5124" stop-color="#f1966b"/><stop offset="0.6033" stop-color="#f5ac77"/><stop offset="0.6942" stop-color="#f5b17b"/><stop offset="0.9174" stop-color="#f6b37d"/><stop offset="1.0000" stop-color="#f6b37c"/></linearGradient><linearGradient id="b95" x1="113.5" x2="1327.5" gradientUnits="userSpaceOnUse"><stop offset="0.0000" stop-color="#e76d58"/><stop offset="0.1901" stop-color="#ed835f"/><stop offset="0.4298" stop-color="#f19469"/><stop offset="0.5124" stop-color="#f1966a"/><stop offset="0.6116" stop-color="#f5ac78"/><stop offset="0.7273" stop-color="#f5b17b"/><stop offset="0.9174" stop-color="#f6b37d"/><stop offset="1.0000" stop-color="#f6b37c"/></linearGradient><linearGradient id="b96" x1="113.5" x2="1327.5" gradientUnits="userSpaceOnUse"><stop offset="0.0000" stop-color="#e76d58"/><stop offset="0.2066" stop-color="#ed8360"/><stop offset="0.4463" stop-color="#f19469"/><stop offset="0.5124" stop-color="#f1956a"/><stop offset="0.6116" stop-color="#f5ab77"/><stop offset="0.7107" stop-color="#f5b07a"/><stop offset="0.9174" stop-color="#f6b37d"/><stop offset="1.0000" stop-color="#f6b37c"/></linearGradient><linearGradient id="b97" x1="113.5" x2="1327.5" gradientUnits="userSpaceOnUse"><stop offset="0.0000" stop-color="#e76c58"/><stop offset="0.2149" stop-color="#ed8360"/><stop offset="0.4463" stop-color="#f19369"/><stop offset="0.5124" stop-color="#f1956a"/><stop offset="0.6198" stop-color="#f5ac77"/><stop offset="0.8678" stop-color="#f6b47d"/><stop offset="1.0000" stop-color="#f6b37c"/></linearGradient><linearGradient id="b98" x1="113.5" x2="1327.5" gradientUnits="userSpaceOnUse"><stop offset="0.0000" stop-color="#e66b57"/><stop offset="0.2231" stop-color="#ed8360"/><stop offset="0.4463" stop-color="#f19369"/><stop offset="0.5124" stop-color="#f1956a"/><stop offset="0.6198" stop-color="#f5ab77"/><stop offset="0.8264" stop-color="#f6b37c"/><stop offset="1.0000" stop-color="#f6b37c"/></linearGradient><linearGradient id="b99" x1="113.5" x2="1327.5" gradientUnits="userSpaceOnUse"><stop offset="0.0000" stop-color="#e66b57"/><stop offset="0.2314" stop-color="#ed8360"/><stop offset="0.4463" stop-color="#f19369"/><stop offset="0.5207" stop-color="#f1966b"/><stop offset="0.6198" stop-color="#f5aa76"/><stop offset="0.7438" stop-color="#f5b07a"/><stop offset="0.9421" stop-color="#f6b37d"/><stop offset="1.0000" stop-color="#f6b37c"/></linearGradient><linearGradient id="b100" x1="113.5" x2="1327.5" gradientUnits="userSpaceOnUse"><stop offset="0.0000" stop-color="#e66a57"/><stop offset="0.2314" stop-color="#ed825f"/><stop offset="0.4463" stop-color="#f09268"/><stop offset="0.5207" stop-color="#f1966b"/><stop offset="0.6281" stop-color="#f5ab77"/><stop offset="0.8843" stop-color="#f6b37d"/><stop offset="1.0000" stop-color="#f6b37c"/></linearGradient><linearGradient id="b101" x1="113.5" x2="1327.5" gradientUnits="userSpaceOnUse"><stop offset="0.0000" stop-color="#e66a57"/><stop offset="0.2397" stop-color="#ed825f"/><stop offset="0.4463" stop-color="#f09268"/><stop offset="0.5207" stop-color="#f1966a"/><stop offset="0.6281" stop-color="#f4aa76"/><stop offset="0.8595" stop-color="#f6b37c"/><stop offset="1.0000" stop-color="#f6b37d"/></linearGradient><linearGradient id="b102" x1="113.5" x2="1327.5" gradientUnits="userSpaceOnUse"><stop offset="0.0000" stop-color="#e66957"/><stop offset="0.2479" stop-color="#ed835f"/><stop offset="0.4463" stop-color="#f09268"/><stop offset="0.5207" stop-color="#f1956a"/><stop offset="0.6364" stop-color="#f5aa76"/><stop offset="0.9008" stop-color="#f6b37d"/><stop offset="1.0000" stop-color="#f6b37d"/></linearGradient><clipPath id="clipb"><rect x="113.5" y="948.6" width="1214.0" height="504.6"/></clipPath></defs><g clip-path="url(#clipb)"><rect x="113.5" y="945.6" width="1214.0" height="5.6" fill="url(#b0)"/><rect x="113.5" y="950.6" width="1214.0" height="5.6" fill="url(#b1)"/><rect x="113.5" y="955.6" width="1214.0" height="5.6" fill="url(#b2)"/><rect x="113.5" y="960.6" width="1214.0" height="5.6" fill="url(#b3)"/><rect x="113.5" y="965.6" width="1214.0" height="5.6" fill="url(#b4)"/><rect x="113.5" y="970.6" width="1214.0" height="5.6" fill="url(#b5)"/><rect x="113.5" y="975.6" width="1214.0" height="5.6" fill="url(#b6)"/><rect x="113.5" y="980.6" width="1214.0" height="5.6" fill="url(#b7)"/><rect x="113.5" y="985.6" width="1214.0" height="5.6" fill="url(#b8)"/><rect x="113.5" y="990.6" width="1214.0" height="5.6" fill="url(#b9)"/><rect x="113.5" y="995.6" width="1214.0" height="5.6" fill="url(#b10)"/><rect x="113.5" y="1000.6" width="1214.0" height="5.6" fill="url(#b11)"/><rect x="113.5" y="1005.6" width="1214.0" height="5.6" fill="url(#b12)"/><rect x="113.5" y="1010.6" width="1214.0" height="5.6" fill="url(#b13)"/><rect x="113.5" y="1015.6" width="1214.0" height="5.6" fill="url(#b14)"/><rect x="113.5" y="1020.6" width="1214.0" height="5.6" fill="url(#b15)"/><rect x="113.5" y="1025.6" width="1214.0" height="5.6" fill="url(#b16)"/><rect x="113.5" y="1030.6" width="1214.0" height="5.6" fill="url(#b17)"/><rect x="113.5" y="1035.6" width="1214.0" height="5.6" fill="url(#b18)"/><rect x="113.5" y="1040.6" width="1214.0" height="5.6" fill="url(#b19)"/><rect x="113.5" y="1045.6" width="1214.0" height="5.6" fill="url(#b20)"/><rect x="113.5" y="1050.6" width="1214.0" height="5.6" fill="url(#b21)"/><rect x="113.5" y="1055.6" width="1214.0" height="5.6" fill="url(#b22)"/><rect x="113.5" y="1060.6" width="1214.0" height="5.6" fill="url(#b23)"/><rect x="113.5" y="1065.6" width="1214.0" height="5.6" fill="url(#b24)"/><rect x="113.5" y="1070.6" width="1214.0" height="5.6" fill="url(#b25)"/><rect x="113.5" y="1075.6" width="1214.0" height="5.6" fill="url(#b26)"/><rect x="113.5" y="1080.6" width="1214.0" height="5.6" fill="url(#b27)"/><rect x="113.5" y="1085.6" width="1214.0" height="5.6" fill="url(#b28)"/><rect x="113.5" y="1090.6" width="1214.0" height="5.6" fill="url(#b29)"/><rect x="113.5" y="1095.6" width="1214.0" height="5.6" fill="url(#b30)"/><rect x="113.5" y="1100.6" width="1214.0" height="5.6" fill="url(#b31)"/><rect x="113.5" y="1105.6" width="1214.0" height="5.6" fill="url(#b32)"/><rect x="113.5" y="1110.6" width="1214.0" height="5.6" fill="url(#b33)"/><rect x="113.5" y="1115.6" width="1214.0" height="5.6" fill="url(#b34)"/><rect x="113.5" y="1120.6" width="1214.0" height="5.6" fill="url(#b35)"/><rect x="113.5" y="1125.6" width="1214.0" height="5.6" fill="url(#b36)"/><rect x="113.5" y="1130.6" width="1214.0" height="5.6" fill="url(#b37)"/><rect x="113.5" y="1135.6" width="1214.0" height="5.6" fill="url(#b38)"/><rect x="113.5" y="1140.6" width="1214.0" height="5.6" fill="url(#b39)"/><rect x="113.5" y="1145.6" width="1214.0" height="5.6" fill="url(#b40)"/><rect x="113.5" y="1150.6" width="1214.0" height="5.6" fill="url(#b41)"/><rect x="113.5" y="1155.6" width="1214.0" height="5.6" fill="url(#b42)"/><rect x="113.5" y="1160.6" width="1214.0" height="5.6" fill="url(#b43)"/><rect x="113.5" y="1165.6" width="1214.0" height="5.6" fill="url(#b44)"/><rect x="113.5" y="1170.6" width="1214.0" height="5.6" fill="url(#b45)"/><rect x="113.5" y="1175.6" width="1214.0" height="5.6" fill="url(#b46)"/><rect x="113.5" y="1180.6" width="1214.0" height="5.6" fill="url(#b47)"/><rect x="113.5" y="1185.6" width="1214.0" height="5.6" fill="url(#b48)"/><rect x="113.5" y="1190.6" width="1214.0" height="5.6" fill="url(#b49)"/><rect x="113.5" y="1195.6" width="1214.0" height="5.6" fill="url(#b50)"/><rect x="113.5" y="1200.6" width="1214.0" height="5.6" fill="url(#b51)"/><rect x="113.5" y="1205.6" width="1214.0" height="5.6" fill="url(#b52)"/><rect x="113.5" y="1210.6" width="1214.0" height="5.6" fill="url(#b53)"/><rect x="113.5" y="1215.6" width="1214.0" height="5.6" fill="url(#b54)"/><rect x="113.5" y="1220.6" width="1214.0" height="5.6" fill="url(#b55)"/><rect x="113.5" y="1225.6" width="1214.0" height="5.6" fill="url(#b56)"/><rect x="113.5" y="1230.6" width="1214.0" height="5.6" fill="url(#b57)"/><rect x="113.5" y="1235.6" width="1214.0" height="5.6" fill="url(#b58)"/><rect x="113.5" y="1240.6" width="1214.0" height="5.6" fill="url(#b59)"/><rect x="113.5" y="1245.6" width="1214.0" height="5.6" fill="url(#b60)"/><rect x="113.5" y="1250.6" width="1214.0" height="5.6" fill="url(#b61)"/><rect x="113.5" y="1255.6" width="1214.0" height="5.6" fill="url(#b62)"/><rect x="113.5" y="1260.6" width="1214.0" height="5.6" fill="url(#b63)"/><rect x="113.5" y="1265.6" width="1214.0" height="5.6" fill="url(#b64)"/><rect x="113.5" y="1270.6" width="1214.0" height="5.6" fill="url(#b65)"/><rect x="113.5" y="1275.6" width="1214.0" height="5.6" fill="url(#b66)"/><rect x="113.5" y="1280.6" width="1214.0" height="5.6" fill="url(#b67)"/><rect x="113.5" y="1285.6" width="1214.0" height="5.6" fill="url(#b68)"/><rect x="113.5" y="1290.6" width="1214.0" height="5.6" fill="url(#b69)"/><rect x="113.5" y="1295.6" width="1214.0" height="5.6" fill="url(#b70)"/><rect x="113.5" y="1300.6" width="1214.0" height="5.6" fill="url(#b71)"/><rect x="113.5" y="1305.6" width="1214.0" height="5.6" fill="url(#b72)"/><rect x="113.5" y="1310.6" width="1214.0" height="5.6" fill="url(#b73)"/><rect x="113.5" y="1315.6" width="1214.0" height="5.6" fill="url(#b74)"/><rect x="113.5" y="1320.6" width="1214.0" height="5.6" fill="url(#b75)"/><rect x="113.5" y="1325.6" width="1214.0" height="5.6" fill="url(#b76)"/><rect x="113.5" y="1330.6" width="1214.0" height="5.6" fill="url(#b77)"/><rect x="113.5" y="1335.6" width="1214.0" height="5.6" fill="url(#b78)"/><rect x="113.5" y="1340.6" width="1214.0" height="5.6" fill="url(#b79)"/><rect x="113.5" y="1345.6" width="1214.0" height="5.6" fill="url(#b80)"/><rect x="113.5" y="1350.6" width="1214.0" height="5.6" fill="url(#b81)"/><rect x="113.5" y="1355.6" width="1214.0" height="5.6" fill="url(#b82)"/><rect x="113.5" y="1360.6" width="1214.0" height="5.6" fill="url(#b83)"/><rect x="113.5" y="1365.6" width="1214.0" height="5.6" fill="url(#b84)"/><rect x="113.5" y="1370.6" width="1214.0" height="5.6" fill="url(#b85)"/><rect x="113.5" y="1375.6" width="1214.0" height="5.6" fill="url(#b86)"/><rect x="113.5" y="1380.6" width="1214.0" height="5.6" fill="url(#b87)"/><rect x="113.5" y="1385.6" width="1214.0" height="5.6" fill="url(#b88)"/><rect x="113.5" y="1390.6" width="1214.0" height="5.6" fill="url(#b89)"/><rect x="113.5" y="1395.6" width="1214.0" height="5.6" fill="url(#b90)"/><rect x="113.5" y="1400.6" width="1214.0" height="5.6" fill="url(#b91)"/><rect x="113.5" y="1405.6" width="1214.0" height="5.6" fill="url(#b92)"/><rect x="113.5" y="1410.6" width="1214.0" height="5.6" fill="url(#b93)"/><rect x="113.5" y="1415.6" width="1214.0" height="5.6" fill="url(#b94)"/><rect x="113.5" y="1420.6" width="1214.0" height="5.6" fill="url(#b95)"/><rect x="113.5" y="1425.6" width="1214.0" height="5.6" fill="url(#b96)"/><rect x="113.5" y="1430.6" width="1214.0" height="5.6" fill="url(#b97)"/><rect x="113.5" y="1435.6" width="1214.0" height="5.6" fill="url(#b98)"/><rect x="113.5" y="1440.6" width="1214.0" height="5.6" fill="url(#b99)"/><rect x="113.5" y="1445.6" width="1214.0" height="5.6" fill="url(#b100)"/><rect x="113.5" y="1450.6" width="1214.0" height="5.6" fill="url(#b101)"/><rect x="113.5" y="1455.6" width="1214.0" height="5.6" fill="url(#b102)"/><path d="M145.0,998.3 C153.1,997.2 180.2,993.6 193.3,991.7 C206.4,989.8 217.2,988.7 223.3,986.7 C229.4,984.8 229.7,982.8 230.0,980.0 C230.3,977.2 226.4,973.3 225.0,970.0 C223.6,966.7 221.4,963.3 221.7,960.0 C222.0,956.7 225.9,951.7 226.7,950.0" fill="none" stroke="#000" stroke-width="0.9" stroke-dasharray="3.5,2"/><path d="M323.3,950.0 C326.6,951.7 340.5,956.7 343.3,960.0 C346.1,963.3 345.6,967.0 340.0,970.0 C334.4,973.0 319.4,975.0 310.0,978.3 C300.6,981.6 285.5,986.7 283.3,990.0 C281.1,993.3 287.8,994.4 296.7,998.3 C305.6,1002.2 328.4,1008.8 336.7,1013.3 C345.0,1017.8 346.7,1020.5 346.7,1025.0 C346.7,1029.5 342.8,1035.8 336.7,1040.0 C330.6,1044.2 320.6,1047.0 310.0,1050.0 C299.4,1053.0 279.4,1056.9 273.3,1058.3" fill="none" stroke="#000" stroke-width="0.9" stroke-dasharray="3.5,2"/><path d="M213.3,1059.3 C206.1,1058.6 186.1,1056.5 170.0,1055.0 C153.9,1053.5 125.6,1050.8 116.7,1050.0" fill="none" stroke="#000" stroke-width="0.9" stroke-dasharray="3.5,2"/><path d="M430.0,950.0 C428.9,955.5 423.3,971.1 423.3,983.3 C423.3,995.5 428.9,1010.5 430.0,1023.3 C431.1,1036.1 427.8,1050.5 430.0,1060.0 C432.2,1069.5 436.6,1075.3 443.3,1080.0 C450.0,1084.7 465.6,1086.9 470.0,1088.3" fill="none" stroke="#000" stroke-width="0.9" stroke-dasharray="3.5,2"/><path d="M526.7,1095.0 L560.0,1093.3" fill="none" stroke="#000" stroke-width="0.9" stroke-dasharray="3.5,2"/><path d="M546.7,950.0 C551.7,952.5 573.4,960.5 576.7,965.0 C580.0,969.5 572.8,972.5 566.7,976.7 C560.6,980.9 549.5,985.6 540.0,990.0 C530.5,994.4 515.5,998.8 510.0,1003.3 C504.4,1007.8 503.4,1012.5 506.7,1016.7 C510.0,1020.9 521.1,1025.5 530.0,1028.3 C538.9,1031.1 548.9,1031.6 560.0,1033.3 C571.1,1035.0 590.6,1037.5 596.7,1038.3" fill="none" stroke="#000" stroke-width="0.9" stroke-dasharray="3.5,2"/><path d="M656.7,1042.7 C665.0,1042.2 691.7,1042.1 706.7,1040.0 C721.7,1037.9 736.2,1033.9 746.7,1030.0 C757.2,1026.1 766.7,1020.6 770.0,1016.7 C773.3,1012.8 772.8,1010.0 766.7,1006.7 C760.6,1003.4 743.9,1000.6 733.3,996.7 C722.7,992.8 707.2,987.8 703.3,983.3 C699.4,978.8 707.8,973.9 710.0,970.0 C712.2,966.1 717.8,963.3 716.7,960.0 C715.6,956.7 705.5,951.7 703.3,950.0" fill="none" stroke="#000" stroke-width="0.9" stroke-dasharray="3.5,2"/><path d="M560.0,1093.3 C562.2,1092.8 560.0,1092.8 573.3,1090.0 C586.6,1087.2 617.8,1081.7 640.0,1076.7 C662.2,1071.7 681.7,1066.1 706.7,1060.0 C731.7,1053.9 766.7,1046.1 790.0,1040.0 C813.3,1033.9 836.2,1027.8 846.7,1023.3 C857.2,1018.8 854.4,1017.2 853.3,1013.3 C852.2,1009.4 850.0,1005.5 840.0,1000.0 C830.0,994.5 803.6,986.1 793.3,980.0 C783.0,973.9 779.4,968.3 778.3,963.3 C777.2,958.3 785.3,952.2 786.7,950.0" fill="none" stroke="#000" stroke-width="0.9" stroke-dasharray="3.5,2"/><path d="M125.0,1109.3 C138.6,1109.3 181.4,1108.7 206.7,1109.3 C232.0,1109.9 248.4,1110.1 276.7,1112.7 C305.0,1115.3 343.4,1121.8 376.7,1125.0 C410.0,1128.2 449.5,1130.4 476.7,1131.7 C503.9,1133.0 513.9,1132.5 540.0,1132.7 C566.1,1132.9 607.8,1133.7 633.3,1132.7 C658.8,1131.7 683.3,1127.7 693.3,1126.7" fill="none" stroke="#000" stroke-width="0.9" stroke-dasharray="3.5,2"/><path d="M750.0,1110.0 C759.5,1105.0 792.8,1087.8 806.7,1080.0 C820.6,1072.2 822.2,1068.8 833.3,1063.3 C844.4,1057.8 856.6,1053.4 873.3,1046.7 C890.0,1040.0 920.8,1028.9 933.3,1023.3 C945.8,1017.7 947.2,1016.6 948.3,1013.3 C949.4,1010.0 946.9,1007.7 940.0,1003.3 C933.1,998.9 914.5,992.2 906.7,986.7 C898.9,981.2 893.3,976.1 893.3,970.0 C893.3,963.9 904.5,953.3 906.7,950.0" fill="none" stroke="#000" stroke-width="0.9" stroke-dasharray="3.5,2"/><path d="M968.4,1075.1 C970.8,1076.5 975.5,1081.2 982.5,1083.5 C989.5,1085.8 1003.2,1088.7 1010.7,1088.6 C1018.2,1088.5 1024.7,1083.9 1027.5,1083.0" fill="none" stroke="#000" stroke-width="0.9" stroke-dasharray="3.5,2"/><path d="M1154.2,948.4 C1156.1,951.7 1165.0,961.5 1165.5,968.1 C1166.0,974.7 1161.0,981.2 1157.0,987.8 C1153.0,994.4 1143.4,1001.9 1141.5,1007.5 C1139.6,1013.1 1140.4,1016.0 1145.8,1021.6 C1151.2,1027.2 1165.0,1034.7 1173.9,1041.3 C1182.8,1047.9 1191.0,1053.0 1199.2,1061.0 C1207.4,1069.0 1219.2,1084.5 1223.2,1089.2" fill="none" stroke="#000" stroke-width="0.9" stroke-dasharray="3.5,2"/><path d="M1280.9,1094.8 L1325.9,1088.6" fill="none" stroke="#000" stroke-width="0.9" stroke-dasharray="3.5,2"/><path d="M1202.0,949.9 C1201.8,952.0 1196.8,956.9 1200.6,962.5 C1204.4,968.1 1220.6,980.1 1224.6,983.6" fill="none" stroke="#000" stroke-width="0.9" stroke-dasharray="3.5,2"/><path d="M1282.3,994.9 L1325.9,993.5" fill="none" stroke="#000" stroke-width="0.9" stroke-dasharray="3.5,2"/><path d="M115.0,1145.0 C136.4,1145.5 205.2,1146.9 243.3,1148.3 C281.4,1149.7 310.0,1151.5 343.3,1153.3 C376.6,1155.1 410.5,1157.8 443.3,1159.3 C476.1,1160.8 512.5,1160.1 540.0,1162.6 C567.5,1165.1 589.4,1168.5 608.1,1174.5 C626.8,1180.5 639.9,1189.3 652.4,1198.4 C664.9,1207.5 674.6,1220.5 683.1,1229.0 C691.6,1237.5 693.3,1244.4 703.5,1249.5 C713.7,1254.6 730.5,1257.9 744.4,1259.7 C758.3,1261.5 770.8,1260.7 787.0,1260.4 C803.2,1260.1 827.6,1259.0 841.5,1258.0 C855.4,1257.0 865.7,1255.2 870.5,1254.6" fill="none" stroke="#000" stroke-width="0.9" stroke-dasharray="3.5,2"/><path d="M926.7,1246.7 C932.2,1245.2 949.8,1242.2 960.0,1237.9 C970.2,1233.6 982.2,1226.2 988.1,1221.0 C994.0,1215.8 994.2,1215.4 995.2,1207.0 C996.2,1198.6 992.2,1179.8 993.8,1170.4 C995.4,1161.0 998.9,1156.8 1005.0,1150.7 C1011.1,1144.6 1019.1,1138.1 1030.4,1133.8 C1041.7,1129.5 1059.9,1126.3 1072.6,1124.8 C1085.3,1123.3 1092.3,1123.8 1106.4,1124.8 C1120.5,1125.8 1139.2,1128.6 1157.0,1131.0 C1174.8,1133.4 1194.5,1137.0 1213.3,1139.4 C1232.1,1141.8 1250.8,1144.9 1269.6,1145.6 C1288.4,1146.3 1316.5,1143.9 1325.9,1143.6" fill="none" stroke="#000" stroke-width="0.9" stroke-dasharray="3.5,2"/><path d="M115.0,1178.3 C122.5,1178.9 149.2,1180.2 160.0,1181.7 C170.8,1183.2 173.3,1185.1 180.0,1187.3 C186.7,1189.5 196.7,1193.7 200.0,1195.0" fill="none" stroke="#000" stroke-width="0.9" stroke-dasharray="3.5,2"/><path d="M115.0,1228.3 C122.0,1227.5 144.2,1223.7 156.7,1223.3 C169.2,1222.9 177.2,1223.8 190.0,1226.0 C202.8,1228.2 212.8,1238.2 233.3,1236.7 C253.9,1235.2 300.0,1220.0 313.3,1216.7" fill="none" stroke="#000" stroke-width="0.9" stroke-dasharray="3.5,2"/><path d="M115.0,1270.0 L136.7,1263.3" fill="none" stroke="#000" stroke-width="0.9" stroke-dasharray="3.5,2"/><path d="M623.6,1368.4 C633.0,1371.2 661.7,1379.2 680.0,1385.0 C698.3,1390.8 724.4,1400.1 733.3,1403.1" fill="none" stroke="#000" stroke-width="0.9" stroke-dasharray="3.5,2"/><text x="124.0" y="999.0" transform="rotate(0 124.0 999.0)" font-size="29.5" text-anchor="middle" dominant-baseline="central" fill="#000">5</text><text x="243.5" y="1060.0" transform="rotate(0 243.5 1060.0)" font-size="29.5" text-anchor="middle" dominant-baseline="central" fill="#000">25</text><text x="497.5" y="1093.5" transform="rotate(0 497.5 1093.5)" font-size="29.5" text-anchor="middle" dominant-baseline="central" fill="#000">30</text><text x="626.5" y="1040.0" transform="rotate(0 626.5 1040.0)" font-size="29.5" text-anchor="middle" dominant-baseline="central" fill="#000">35</text><text x="723.5" y="1119.0" transform="rotate(-15 723.5 1119.0)" font-size="29.5" text-anchor="middle" dominant-baseline="central" fill="#000">25</text><text x="999.5" y="1069.5" transform="rotate(0 999.5 1069.5)" font-size="29.5" text-anchor="middle" dominant-baseline="central" fill="#000">20</text><text x="1253.5" y="991.5" transform="rotate(0 1253.5 991.5)" font-size="29.5" text-anchor="middle" dominant-baseline="central" fill="#000">30</text><text x="1250.5" y="1097.5" transform="rotate(0 1250.5 1097.5)" font-size="29.5" text-anchor="middle" dominant-baseline="central" fill="#000">25</text><text x="898.5" y="1249.5" transform="rotate(0 898.5 1249.5)" font-size="29.5" text-anchor="middle" dominant-baseline="central" fill="#000">20</text><text x="178.0" y="1219.0" transform="rotate(-40 178.0 1219.0)" font-size="29.5" text-anchor="middle" dominant-baseline="central" fill="#000">15</text><polygon points="113.0,1455.0 113.0,1420.0 122.5,1420.0 122.5,1341.0 124.9,1293.7 133.2,1293.7 136.0,1260.5 145.0,1260.5 146.2,1251.7 155.7,1251.7 157.6,1226.0 167.6,1226.0 170.0,1234.4 177.0,1234.4 179.0,1185.0 190.0,1185.0 192.4,1226.0 200.7,1226.0 202.4,1217.8 204.0,1217.8 206.0,1234.4 212.6,1234.4 213.8,1226.0 219.7,1226.0 220.9,1201.2 224.9,1201.2 225.6,1176.3 232.7,1176.3 235.1,1242.7 243.6,1242.7 244.3,1206.0 245.7,1206.0 246.4,1242.7 255.3,1242.7 256.2,1199.0 257.6,1184.6 261.2,1125.4 267.1,1125.4 268.3,1117.0 274.7,1117.0 276.6,1193.0 279.0,1209.5 286.0,1209.5 289.6,1234.4 299.0,1234.4 301.5,1242.7 311.0,1242.7 315.7,1184.6 327.6,1184.6 330.0,1159.7 339.4,1159.7 341.8,1175.0 344.1,1159.7 357.2,1159.7 358.4,1151.4 370.2,1151.4 371.4,1166.9 382.0,1166.9 385.6,1184.6 392.7,1184.6 395.0,1176.3 397.4,1176.3 399.8,1209.5 410.5,1209.5 413.0,1217.0 424.9,1217.0 427.3,1201.6 466.4,1201.6 468.7,1217.0 480.6,1217.0 481.8,1225.3 498.4,1225.3 500.7,1234.8 507.9,1234.8 510.2,1242.6 550.5,1242.6 551.7,1228.9 554.1,1250.9 563.6,1250.9 565.9,1226.5 576.6,1226.5 579.0,1209.9 589.6,1209.9 590.1,1259.7 592.5,1259.7 593.2,1209.9 597.9,1209.9 597.9,1268.4 605.0,1268.4 606.7,1318.9 612.9,1318.9 613.3,1335.5 620.4,1335.5 622.1,1360.4 627.6,1360.4 628.3,1410.7 633.5,1410.7 634.5,1320.0 635.2,1320.0 635.9,1369.4 642.3,1369.4 643.0,1403.0 648.6,1403.0 649.2,1394.5 650.2,1394.5 650.8,1410.7 660.7,1410.7 661.9,1403.0 675.0,1403.0 676.1,1410.7 688.0,1410.7 689.7,1419.7 702.4,1419.7 702.4,1411.0 709.5,1411.0 710.7,1419.2 716.1,1419.2 717.8,1403.8 744.6,1403.8 745.5,1410.5 757.4,1410.5 759.3,1378.2 771.1,1378.2 774.0,1285.3 785.8,1285.3 788.2,1226.0 797.2,1226.0 798.4,1201.9 799.1,1209.4 839.9,1209.4 841.7,1259.7 854.1,1259.7 855.3,1285.3 868.3,1285.3 870.2,1268.7 882.0,1268.7 883.0,1285.3 896.7,1285.3 897.9,1335.5 910.5,1335.5 911.4,1344.0 924.0,1344.0 925.2,1352.1 938.2,1352.1 939.4,1394.3 964.3,1394.3 966.0,1444.6 979.7,1444.6 979.7,1455.0" fill="#383838"/><polygon points="1015.0,1455.0 1016.9,1420.0 1022.0,1403.2 1028.5,1403.2 1030.6,1386.4 1034.2,1386.4 1035.5,1369.5 1057.0,1369.5 1058.3,1361.7 1062.0,1361.7 1063.5,1311.2 1071.3,1311.2 1073.1,1385.6 1075.5,1385.6 1077.3,1352.7 1085.6,1352.7 1086.9,1311.2 1089.4,1311.2 1090.7,1335.8 1099.8,1335.8 1101.1,1344.4 1118.0,1344.4 1118.7,1352.7 1144.7,1352.7 1147.8,1327.5 1159.4,1327.5 1160.7,1319.7 1172.4,1319.7 1173.7,1327.5 1186.2,1327.5 1187.2,1285.3 1201.0,1285.3 1201.7,1319.7 1213.9,1319.7 1215.2,1335.8 1228.2,1335.8 1229.5,1344.6 1238.8,1344.6 1240.3,1336.2 1243.0,1336.2 1243.3,1327.0 1256.0,1327.0 1256.5,1335.2 1257.5,1335.2 1258.5,1320.0 1260.5,1302.3 1263.4,1293.9 1265.4,1285.6 1273.3,1284.6 1278.2,1285.6 1280.1,1293.9 1284.6,1293.9 1285.6,1301.8 1293.9,1301.8 1295.4,1294.9 1296.9,1294.9 1297.4,1280.2 1297.8,1301.8 1299.3,1301.8 1299.8,1294.9 1304.2,1293.9 1304.7,1276.7 1308.7,1276.7 1309.4,1260.0 1311.4,1262.0 1311.8,1293.9 1314.1,1293.9 1314.6,1268.8 1316.5,1268.8 1317.0,1251.6 1319.0,1251.6 1319.5,1242.8 1322.0,1242.8 1322.4,1234.9 1324.4,1234.9 1324.9,1217.7 1326.0,1217.7 1328.0,1211.0 1328.0,1455.0" fill="#383838"/><rect x="113" y="1341.0" width="9.5" height="79.0" fill="#fff"/><circle cx="149.6" cy="965.0" r="2.6" fill="#3a3a3a"/><circle cx="288.3" cy="964.3" r="2.6" fill="#3a3a3a"/><circle cx="288.3" cy="1026.0" r="2.6" fill="#3a3a3a"/><circle cx="149.6" cy="1078.3" r="2.6" fill="#3a3a3a"/><circle cx="149.0" cy="1216.6" r="2.6" fill="#3a3a3a"/><circle cx="563.7" cy="966.5" r="2.6" fill="#3a3a3a"/><circle cx="633.0" cy="964.7" r="2.6" fill="#3a3a3a"/><circle cx="840.4" cy="964.7" r="2.6" fill="#3a3a3a"/><circle cx="978.5" cy="969.4" r="2.6" fill="#3a3a3a"/><circle cx="1116.0" cy="961.7" r="2.6" fill="#3a3a3a"/><circle cx="1117.8" cy="964.7" r="2.6" fill="#3a3a3a"/><circle cx="1222.7" cy="960.6" r="2.6" fill="#3a3a3a"/><circle cx="1274.6" cy="961.2" r="2.6" fill="#3a3a3a"/><circle cx="1306.8" cy="964.7" r="2.6" fill="#3a3a3a"/><circle cx="633.0" cy="1024.0" r="2.6" fill="#3a3a3a"/><circle cx="563.7" cy="1050.6" r="2.6" fill="#3a3a3a"/><circle cx="1222.7" cy="1034.0" r="2.6" fill="#3a3a3a"/><circle cx="1274.8" cy="1034.0" r="2.6" fill="#3a3a3a"/><circle cx="1307.4" cy="1034.0" r="2.6" fill="#3a3a3a"/><circle cx="1274.8" cy="1061.3" r="2.6" fill="#3a3a3a"/><circle cx="840.4" cy="1077.3" r="2.6" fill="#3a3a3a"/><circle cx="978.5" cy="1077.3" r="2.6" fill="#3a3a3a"/><circle cx="1116.0" cy="1074.3" r="2.6" fill="#3a3a3a"/><circle cx="1117.8" cy="1077.3" r="2.6" fill="#3a3a3a"/><circle cx="1307.4" cy="1120.6" r="2.6" fill="#3a3a3a"/><circle cx="563.7" cy="1222.5" r="2.6" fill="#3a3a3a"/><circle cx="841.0" cy="1209.4" r="2.6" fill="#3a3a3a"/><circle cx="1117.5" cy="1203.6" r="2.6" fill="#3a3a3a"/><circle cx="1222.6" cy="1204.8" r="2.6" fill="#3a3a3a"/><circle cx="979.2" cy="1288.4" r="2.6" fill="#3a3a3a"/><circle cx="1274.8" cy="1270.2" r="2.6" fill="#3a3a3a"/><circle cx="1116.4" cy="1312.3" r="2.6" fill="#3a3a3a"/><circle cx="1117.4" cy="1328.2" r="2.6" fill="#3a3a3a"/><circle cx="1222.6" cy="1320.6" r="2.6" fill="#3a3a3a"/><circle cx="979.2" cy="1381.3" r="2.6" fill="#3a3a3a"/></g><rect x="113.8" y="948.6" width="1213.2" height="504.6" fill="none" stroke="#000" stroke-width="2.4"/><line x1="106.5" x2="113" y1="948.6" y2="948.6" stroke="#333" stroke-width="1.2"/><text x="97.8" y="957.6" font-size="29.5" text-anchor="end">0</text><line x1="106.5" x2="113" y1="1032.7" y2="1032.7" stroke="#333" stroke-width="1.2"/><text x="97.8" y="1041.7" font-size="29.5" text-anchor="end">10</text><line x1="106.5" x2="113" y1="1074.8" y2="1074.8" stroke="#ddd" stroke-width="1.2"/><line x1="106.5" x2="113" y1="1116.8" y2="1116.8" stroke="#333" stroke-width="1.2"/><text x="97.8" y="1125.8" font-size="29.5" text-anchor="end">20</text><line x1="106.5" x2="113" y1="1158.8" y2="1158.8" stroke="#333" stroke-width="1.2"/><line x1="106.5" x2="113" y1="1200.9" y2="1200.9" stroke="#ddd" stroke-width="1.2"/><text x="97.8" y="1209.9" font-size="29.5" text-anchor="end">30</text><line x1="106.5" x2="113" y1="1243.0" y2="1243.0" stroke="#333" stroke-width="1.2"/><text x="97.8" y="1294.0" font-size="29.5" text-anchor="end">40</text><line x1="106.5" x2="113" y1="1327.0" y2="1327.0" stroke="#333" stroke-width="1.2"/><text x="97.8" y="1378.1" font-size="29.5" text-anchor="end">50</text><line x1="106.5" x2="113" y1="1411.2" y2="1411.2" stroke="#333" stroke-width="1.2"/><line x1="106.5" x2="113" y1="1453.2" y2="1453.2" stroke="#333" stroke-width="1.2"/><text x="97.8" y="1462.2" font-size="29.5" text-anchor="end">60</text><line x1="150.1" x2="150.1" y1="1454.2" y2="1459.7" stroke="#444" stroke-width="1.2"/><text x="148.6" y="1491.8" font-size="29.5" text-anchor="middle">62°N</text><line x1="426.4" x2="426.4" y1="1454.2" y2="1459.7" stroke="#444" stroke-width="1.2"/><text x="424.9" y="1491.8" font-size="29.5" text-anchor="middle">64°N</text><line x1="702.7" x2="702.7" y1="1454.2" y2="1459.7" stroke="#444" stroke-width="1.2"/><text x="701.2" y="1491.8" font-size="29.5" text-anchor="middle">66°N</text><line x1="979.0" x2="979.0" y1="1454.2" y2="1459.7" stroke="#444" stroke-width="1.2"/><text x="977.5" y="1491.8" font-size="29.5" text-anchor="middle">68°N</text><line x1="1255.3" x2="1255.3" y1="1454.2" y2="1459.7" stroke="#444" stroke-width="1.2"/><text x="1253.8" y="1491.8" font-size="29.5" text-anchor="middle">70°N</text><text x="0" y="0" transform="translate(38.5 1201.3) rotate(-90)" font-size="34" text-anchor="middle">Depth</text><text x="0" y="0" transform="translate(1348.5 1449.5) rotate(-90)" font-size="16.8" text-anchor="start">Ocean Data View</text><defs><linearGradient id="cba" x1="235.3" x2="1205.8" y1="0" y2="0" gradientUnits="userSpaceOnUse"><stop offset="0.0000" stop-color="#fbfcff"/><stop offset="0.0833" stop-color="#e3f5fe"/><stop offset="0.1667" stop-color="#c8e8fd"/><stop offset="0.2500" stop-color="#a8d4fc"/><stop offset="0.3333" stop-color="#8bbdfb"/><stop offset="0.4167" stop-color="#70a4fa"/><stop offset="0.5000" stop-color="#5a8cf8"/><stop offset="0.5833" stop-color="#5074f6"/><stop offset="0.6667" stop-color="#5260f6"/><stop offset="0.7500" stop-color="#5a58f7"/><stop offset="0.8333" stop-color="#6a5ef8"/><stop offset="0.9167" stop-color="#8070f9"/><stop offset="1.0000" stop-color="#a496fc"/></linearGradient></defs><rect x="235.3" y="667.5" width="970.5" height="35.2" fill="url(#cba)"/><polygon points="235.3,667.5 220.7,685.1 235.3,702.7" fill="#fbfcff"/><polygon points="1205.8,667.5 1220.2,685.1 1205.8,702.7" fill="#a496fc"/><polyline points="235.3,667.5 220.7,685.1 235.3,702.7" fill="none" stroke="#555" stroke-width="1" stroke-dasharray="3,3"/><polyline points="1205.8,667.5 1220.2,685.1 1205.8,702.7" fill="none" stroke="#333" stroke-width="1" stroke-dasharray="3,3"/><line x1="235.3" x2="1205.8" y1="667.5" y2="667.5" stroke="#000" stroke-width="1.6"/><line x1="235.3" x2="235.3" y1="667.5" y2="673.5" stroke="#222" stroke-width="1.5"/><line x1="235.3" x2="235.3" y1="696.2" y2="702.7" stroke="#222" stroke-width="1.5"/><text x="235.3" y="735.0" font-size="27" text-anchor="middle">3.2</text><line x1="397.0" x2="397.0" y1="667.5" y2="673.5" stroke="#b4d1e4" stroke-width="1.5"/><line x1="397.0" x2="397.0" y1="696.2" y2="702.7" stroke="#b4d1e4" stroke-width="1.5"/><text x="397.0" y="735.0" font-size="27" text-anchor="middle">3.4</text><line x1="558.8" x2="558.8" y1="667.5" y2="673.5" stroke="#222" stroke-width="1.5"/><line x1="558.8" x2="558.8" y1="696.2" y2="702.7" stroke="#222" stroke-width="1.5"/><text x="558.8" y="735.0" font-size="27" text-anchor="middle">3.6</text><line x1="720.5" x2="720.5" y1="667.5" y2="673.5" stroke="#222" stroke-width="1.5"/><line x1="720.5" x2="720.5" y1="696.2" y2="702.7" stroke="#222" stroke-width="1.5"/><text x="720.5" y="735.0" font-size="27" text-anchor="middle">3.8</text><line x1="882.3" x2="882.3" y1="667.5" y2="673.5" stroke="#222" stroke-width="1.5"/><line x1="882.3" x2="882.3" y1="696.2" y2="702.7" stroke="#222" stroke-width="1.5"/><text x="882.3" y="735.0" font-size="27" text-anchor="middle">4</text><line x1="1044.0" x2="1044.0" y1="667.5" y2="673.5" stroke="#5f55df" stroke-width="1.5"/><line x1="1044.0" x2="1044.0" y1="696.2" y2="702.7" stroke="#5f55df" stroke-width="1.5"/><text x="1044.0" y="735.0" font-size="27" text-anchor="middle">4.2</text><line x1="1205.8" x2="1205.8" y1="667.5" y2="673.5" stroke="#222" stroke-width="1.5"/><line x1="1205.8" x2="1205.8" y1="696.2" y2="702.7" stroke="#222" stroke-width="1.5"/><text x="1205.8" y="735.0" font-size="27" text-anchor="middle">4.4</text><text x="720.3" y="778.7" font-size="37" text-anchor="middle">Boron mg/kg</text><defs><linearGradient id="cbb" x1="235.3" x2="1205.8" y1="0" y2="0" gradientUnits="userSpaceOnUse"><stop offset="0.0000" stop-color="#fcecb2"/><stop offset="0.0625" stop-color="#fad79a"/><stop offset="0.1250" stop-color="#f7c086"/><stop offset="0.1875" stop-color="#f5ad78"/><stop offset="0.2500" stop-color="#f1956a"/><stop offset="0.3125" stop-color="#ec7d5c"/><stop offset="0.3750" stop-color="#e66a57"/><stop offset="0.4375" stop-color="#df5a58"/><stop offset="0.5000" stop-color="#d4465c"/><stop offset="0.5625" stop-color="#c03c5f"/><stop offset="0.6250" stop-color="#a92c63"/><stop offset="0.6875" stop-color="#962066"/><stop offset="0.7500" stop-color="#7d1a63"/><stop offset="0.8125" stop-color="#68185d"/><stop offset="0.8750" stop-color="#521554"/><stop offset="0.9375" stop-color="#3f1148"/><stop offset="1.0000" stop-color="#2e0e3b"/></linearGradient></defs><rect x="235.3" y="1508.5" width="970.5" height="35.2" fill="url(#cbb)"/><polygon points="235.3,1508.5 220.7,1526.1 235.3,1543.7" fill="#fcecb2"/><polygon points="1205.8,1508.5 1220.2,1526.1 1205.8,1543.7" fill="#2e0e3b"/><polyline points="235.3,1508.5 220.7,1526.1 235.3,1543.7" fill="none" stroke="#555" stroke-width="1" stroke-dasharray="3,3"/><polyline points="1205.8,1508.5 1220.2,1526.1 1205.8,1543.7" fill="none" stroke="#333" stroke-width="1" stroke-dasharray="3,3"/><line x1="235.3" x2="235.3" y1="1508.5" y2="1514.5" stroke="#222" stroke-width="1.5"/><line x1="235.3" x2="235.3" y1="1537.2" y2="1543.7" stroke="#222" stroke-width="1.5"/><text x="235.3" y="1576.0" font-size="27" text-anchor="middle">10</text><line x1="356.6" x2="356.6" y1="1508.5" y2="1514.5" stroke="#222" stroke-width="1.5"/><line x1="356.6" x2="356.6" y1="1537.2" y2="1543.7" stroke="#222" stroke-width="1.5"/><text x="356.6" y="1576.0" font-size="27" text-anchor="middle">15</text><line x1="477.9" x2="477.9" y1="1508.5" y2="1514.5" stroke="#222" stroke-width="1.5"/><line x1="477.9" x2="477.9" y1="1537.2" y2="1543.7" stroke="#222" stroke-width="1.5"/><text x="477.9" y="1576.0" font-size="27" text-anchor="middle">20</text><line x1="599.2" x2="599.2" y1="1508.5" y2="1514.5" stroke="#cf5f4e" stroke-width="1.5"/><line x1="599.2" x2="599.2" y1="1537.2" y2="1543.7" stroke="#cf5f4e" stroke-width="1.5"/><text x="599.2" y="1576.0" font-size="27" text-anchor="middle">25</text><line x1="720.5" x2="720.5" y1="1508.5" y2="1514.5" stroke="#222" stroke-width="1.5"/><line x1="720.5" x2="720.5" y1="1537.2" y2="1543.7" stroke="#222" stroke-width="1.5"/><text x="720.5" y="1576.0" font-size="27" text-anchor="middle">30</text><line x1="841.9" x2="841.9" y1="1508.5" y2="1514.5" stroke="#982859" stroke-width="1.5"/><line x1="841.9" x2="841.9" y1="1537.2" y2="1543.7" stroke="#982859" stroke-width="1.5"/><text x="841.9" y="1576.0" font-size="27" text-anchor="middle">35</text><line x1="963.2" x2="963.2" y1="1508.5" y2="1514.5" stroke="#222" stroke-width="1.5"/><line x1="963.2" x2="963.2" y1="1537.2" y2="1543.7" stroke="#222" stroke-width="1.5"/><text x="963.2" y="1576.0" font-size="27" text-anchor="middle">40</text><line x1="1084.5" x2="1084.5" y1="1508.5" y2="1514.5" stroke="#222" stroke-width="1.5"/><line x1="1084.5" x2="1084.5" y1="1537.2" y2="1543.7" stroke="#222" stroke-width="1.5"/><text x="1084.5" y="1576.0" font-size="27" text-anchor="middle">45</text><line x1="1205.8" x2="1205.8" y1="1508.5" y2="1514.5" stroke="#222" stroke-width="1.5"/><line x1="1205.8" x2="1205.8" y1="1537.2" y2="1543.7" stroke="#222" stroke-width="1.5"/><text x="1205.8" y="1576.0" font-size="27" text-anchor="middle">50</text><text x="720.3" y="1619.7" font-size="37" text-anchor="middle">B-Alk [µM]</text></svg></body></html>
